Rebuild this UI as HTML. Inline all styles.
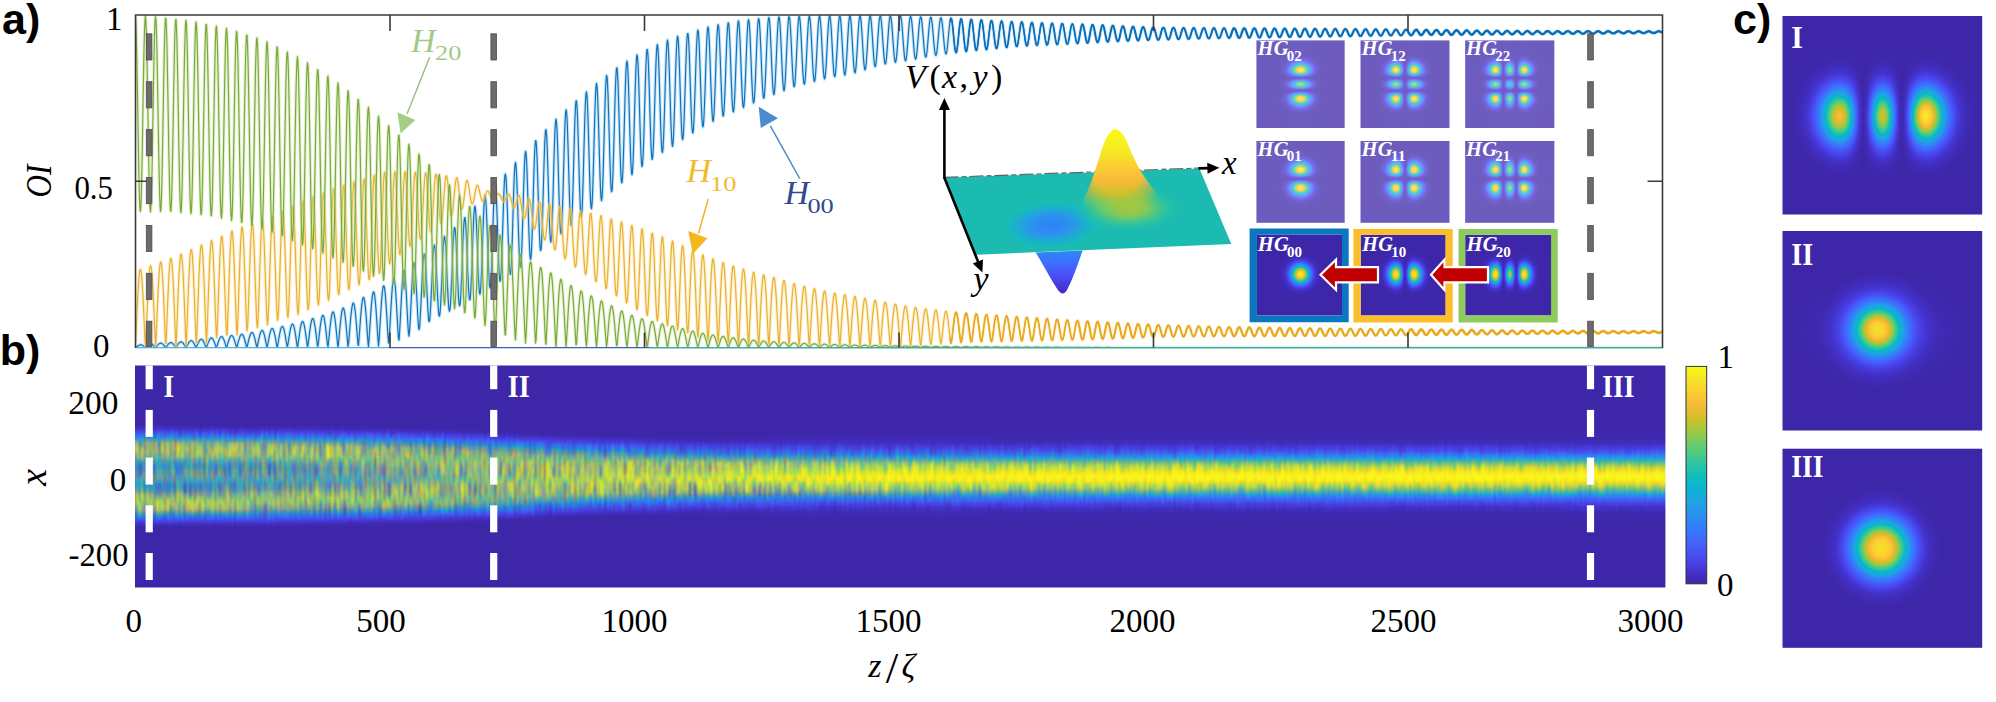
<!DOCTYPE html>
<html><head><meta charset="utf-8"><title>Figure</title>
<style>html,body{margin:0;padding:0;background:#fff}svg{display:block}text{font-family:"Liberation Serif","DejaVu Serif",serif}</style></head>
<body><svg width="1996" height="702" viewBox="0 0 1996 702">
<defs>
<filter id="par" color-interpolation-filters="sRGB" x="0" y="0" width="1" height="1"><feComponentTransfer><feFuncR type="table" tableValues="0.242 0.258 0.27 0.278 0.281 0.28 0.271 0.248 0.202 0.18 0.171 0.149 0.13 0.102 0.047 0.005 0.07 0.155 0.204 0.265 0.359 0.466 0.579 0.687 0.785 0.872 0.946 0.996 0.994 0.978 0.961 0.963 0.977"/><feFuncG type="table" tableValues="0.15 0.181 0.214 0.254 0.298 0.341 0.385 0.431 0.479 0.523 0.564 0.603 0.639 0.673 0.702 0.726 0.746 0.762 0.78 0.794 0.802 0.801 0.792 0.777 0.757 0.739 0.729 0.747 0.792 0.841 0.891 0.938 0.984"/><feFuncB type="table" tableValues="0.66 0.75 0.834 0.896 0.939 0.97 0.989 0.998 0.991 0.971 0.941 0.913 0.892 0.867 0.826 0.778 0.726 0.671 0.611 0.541 0.463 0.376 0.291 0.214 0.162 0.163 0.216 0.234 0.201 0.175 0.153 0.126 0.081"/></feComponentTransfer></filter>
<clipPath id="clipA"><rect x="135.5" y="15" width="1527" height="333.5"/></clipPath>
<linearGradient id="pl" x1="0" y1="0" x2="1" y2="0"><stop offset="0" stop-color="#27b9ad"/><stop offset="1" stop-color="#22bbae"/></linearGradient>
<radialGradient id="dep" cx="0.5" cy="0.5" r="0.5"><stop offset="0" stop-color="#2f81fa" stop-opacity="1"/><stop offset="0.35" stop-color="#2d8cf3" stop-opacity="0.95"/><stop offset="0.6" stop-color="#249fe6" stop-opacity="0.8"/><stop offset="0.8" stop-color="#11b1d6" stop-opacity="0.45"/><stop offset="1" stop-color="#12beb9" stop-opacity="0"/></radialGradient>
<radialGradient id="pkb" cx="0.5" cy="0.5" r="0.5"><stop offset="0" stop-color="#c1c32d" stop-opacity="1"/><stop offset="0.35" stop-color="#8dcb4f" stop-opacity="0.9"/><stop offset="0.65" stop-color="#48cb86" stop-opacity="0.55"/><stop offset="0.85" stop-color="#2cc4a7" stop-opacity="0.2"/><stop offset="1" stop-color="#12beb9" stop-opacity="0"/></radialGradient>
<linearGradient id="pk" gradientUnits="userSpaceOnUse" x1="0" y1="129.4" x2="0" y2="222"><stop offset="0" stop-color="#f9fb15" stop-opacity="1"/><stop offset="0.252" stop-color="#f5e825" stop-opacity="1"/><stop offset="0.406" stop-color="#fdcc32" stop-opacity="1"/><stop offset="0.559" stop-color="#f5ba3a" stop-opacity="1"/><stop offset="0.714" stop-color="#c8c129" stop-opacity="1"/><stop offset="0.806" stop-color="#9fc942" stop-opacity="0.8"/><stop offset="0.892" stop-color="#68cd6b" stop-opacity="0.4"/><stop offset="1" stop-color="#3bc992" stop-opacity="0"/></linearGradient>
<radialGradient id="pkmg" gradientUnits="userSpaceOnUse" cx="1117" cy="160" r="60" gradientTransform="translate(1117 160) scale(0.85 1.05) translate(-1117 -160)"><stop offset="0" stop-color="#fff"/><stop offset="0.55" stop-color="#fff"/><stop offset="0.8" stop-color="#fff" stop-opacity="0.55"/><stop offset="1" stop-color="#fff" stop-opacity="0"/></radialGradient><mask id="pkm" maskUnits="userSpaceOnUse" x="1050" y="120" width="160" height="110"><rect x="1050" y="120" width="160" height="110" fill="url(#pkmg)"/></mask>
<linearGradient id="dp" gradientUnits="userSpaceOnUse" x1="0" y1="250" x2="0" y2="294"><stop offset="0" stop-color="#2d8cf3"/><stop offset="0.143" stop-color="#317efb"/><stop offset="0.286" stop-color="#3f6eff"/><stop offset="0.429" stop-color="#465ffb"/><stop offset="0.571" stop-color="#4851f4"/><stop offset="0.714" stop-color="#4743e7"/><stop offset="0.857" stop-color="#4536d3"/><stop offset="1" stop-color="#402bb7"/></linearGradient>
<linearGradient id="hx0" gradientUnits="userSpaceOnUse" x1="-30" y1="0" x2="30" y2="0"><stop offset="0" stop-color="#000000"/><stop offset="0.0333" stop-color="#000000"/><stop offset="0.0667" stop-color="#000000"/><stop offset="0.1" stop-color="#000000"/><stop offset="0.1333" stop-color="#010101"/><stop offset="0.1667" stop-color="#020202"/><stop offset="0.2" stop-color="#050505"/><stop offset="0.2333" stop-color="#0b0b0b"/><stop offset="0.2667" stop-color="#171717"/><stop offset="0.3" stop-color="#2b2b2b"/><stop offset="0.3333" stop-color="#4a4a4a"/><stop offset="0.3667" stop-color="#747474"/><stop offset="0.4" stop-color="#a4a4a4"/><stop offset="0.4333" stop-color="#d1d1d1"/><stop offset="0.4667" stop-color="#f3f3f3"/><stop offset="0.5" stop-color="#ffffff"/><stop offset="0.5333" stop-color="#f3f3f3"/><stop offset="0.5667" stop-color="#d1d1d1"/><stop offset="0.6" stop-color="#a4a4a4"/><stop offset="0.6333" stop-color="#747474"/><stop offset="0.6667" stop-color="#4a4a4a"/><stop offset="0.7" stop-color="#2b2b2b"/><stop offset="0.7333" stop-color="#171717"/><stop offset="0.7667" stop-color="#0b0b0b"/><stop offset="0.8" stop-color="#050505"/><stop offset="0.8333" stop-color="#020202"/><stop offset="0.8667" stop-color="#010101"/><stop offset="0.9" stop-color="#000000"/><stop offset="0.9333" stop-color="#000000"/><stop offset="0.9667" stop-color="#000000"/><stop offset="1" stop-color="#000000"/></linearGradient>
<linearGradient id="hy0" gradientUnits="userSpaceOnUse" x1="0" y1="-30" x2="0" y2="30"><stop offset="0" stop-color="#000" stop-opacity="1"/><stop offset="0.0333" stop-color="#000" stop-opacity="1"/><stop offset="0.0667" stop-color="#000" stop-opacity="1"/><stop offset="0.1" stop-color="#000" stop-opacity="0.999"/><stop offset="0.1333" stop-color="#000" stop-opacity="0.997"/><stop offset="0.1667" stop-color="#000" stop-opacity="0.993"/><stop offset="0.2" stop-color="#000" stop-opacity="0.982"/><stop offset="0.2333" stop-color="#000" stop-opacity="0.958"/><stop offset="0.2667" stop-color="#000" stop-opacity="0.911"/><stop offset="0.3" stop-color="#000" stop-opacity="0.831"/><stop offset="0.3333" stop-color="#000" stop-opacity="0.709"/><stop offset="0.3667" stop-color="#000" stop-opacity="0.546"/><stop offset="0.4" stop-color="#000" stop-opacity="0.359"/><stop offset="0.4333" stop-color="#000" stop-opacity="0.179"/><stop offset="0.4667" stop-color="#000" stop-opacity="0.048"/><stop offset="0.5" stop-color="#000" stop-opacity="0"/><stop offset="0.5333" stop-color="#000" stop-opacity="0.048"/><stop offset="0.5667" stop-color="#000" stop-opacity="0.179"/><stop offset="0.6" stop-color="#000" stop-opacity="0.359"/><stop offset="0.6333" stop-color="#000" stop-opacity="0.546"/><stop offset="0.6667" stop-color="#000" stop-opacity="0.709"/><stop offset="0.7" stop-color="#000" stop-opacity="0.831"/><stop offset="0.7333" stop-color="#000" stop-opacity="0.911"/><stop offset="0.7667" stop-color="#000" stop-opacity="0.958"/><stop offset="0.8" stop-color="#000" stop-opacity="0.982"/><stop offset="0.8333" stop-color="#000" stop-opacity="0.993"/><stop offset="0.8667" stop-color="#000" stop-opacity="0.997"/><stop offset="0.9" stop-color="#000" stop-opacity="0.999"/><stop offset="0.9333" stop-color="#000" stop-opacity="1"/><stop offset="0.9667" stop-color="#000" stop-opacity="1"/><stop offset="1" stop-color="#000" stop-opacity="1"/></linearGradient>
<linearGradient id="hx1" gradientUnits="userSpaceOnUse" x1="-30" y1="0" x2="30" y2="0"><stop offset="0" stop-color="#000000"/><stop offset="0.0333" stop-color="#000000"/><stop offset="0.0667" stop-color="#010101"/><stop offset="0.1" stop-color="#040404"/><stop offset="0.1333" stop-color="#0b0b0b"/><stop offset="0.1667" stop-color="#191919"/><stop offset="0.2" stop-color="#333333"/><stop offset="0.2333" stop-color="#5d5d5d"/><stop offset="0.2667" stop-color="#959595"/><stop offset="0.3" stop-color="#d0d0d0"/><stop offset="0.3333" stop-color="#f9f9f9"/><stop offset="0.3667" stop-color="#f9f9f9"/><stop offset="0.4" stop-color="#c6c6c6"/><stop offset="0.4333" stop-color="#707070"/><stop offset="0.4667" stop-color="#212121"/><stop offset="0.5" stop-color="#000000"/><stop offset="0.5333" stop-color="#212121"/><stop offset="0.5667" stop-color="#707070"/><stop offset="0.6" stop-color="#c6c6c6"/><stop offset="0.6333" stop-color="#f9f9f9"/><stop offset="0.6667" stop-color="#f9f9f9"/><stop offset="0.7" stop-color="#d0d0d0"/><stop offset="0.7333" stop-color="#959595"/><stop offset="0.7667" stop-color="#5d5d5d"/><stop offset="0.8" stop-color="#333333"/><stop offset="0.8333" stop-color="#191919"/><stop offset="0.8667" stop-color="#0b0b0b"/><stop offset="0.9" stop-color="#040404"/><stop offset="0.9333" stop-color="#010101"/><stop offset="0.9667" stop-color="#000000"/><stop offset="1" stop-color="#000000"/></linearGradient>
<linearGradient id="hy1" gradientUnits="userSpaceOnUse" x1="0" y1="-30" x2="0" y2="30"><stop offset="0" stop-color="#000" stop-opacity="1"/><stop offset="0.0333" stop-color="#000" stop-opacity="0.998"/><stop offset="0.0667" stop-color="#000" stop-opacity="0.995"/><stop offset="0.1" stop-color="#000" stop-opacity="0.984"/><stop offset="0.1333" stop-color="#000" stop-opacity="0.959"/><stop offset="0.1667" stop-color="#000" stop-opacity="0.904"/><stop offset="0.2" stop-color="#000" stop-opacity="0.801"/><stop offset="0.2333" stop-color="#000" stop-opacity="0.636"/><stop offset="0.2667" stop-color="#000" stop-opacity="0.415"/><stop offset="0.3" stop-color="#000" stop-opacity="0.183"/><stop offset="0.3333" stop-color="#000" stop-opacity="0.024"/><stop offset="0.3667" stop-color="#000" stop-opacity="0.025"/><stop offset="0.4" stop-color="#000" stop-opacity="0.225"/><stop offset="0.4333" stop-color="#000" stop-opacity="0.559"/><stop offset="0.4667" stop-color="#000" stop-opacity="0.872"/><stop offset="0.5" stop-color="#000" stop-opacity="1"/><stop offset="0.5333" stop-color="#000" stop-opacity="0.872"/><stop offset="0.5667" stop-color="#000" stop-opacity="0.559"/><stop offset="0.6" stop-color="#000" stop-opacity="0.225"/><stop offset="0.6333" stop-color="#000" stop-opacity="0.025"/><stop offset="0.6667" stop-color="#000" stop-opacity="0.024"/><stop offset="0.7" stop-color="#000" stop-opacity="0.183"/><stop offset="0.7333" stop-color="#000" stop-opacity="0.415"/><stop offset="0.7667" stop-color="#000" stop-opacity="0.636"/><stop offset="0.8" stop-color="#000" stop-opacity="0.801"/><stop offset="0.8333" stop-color="#000" stop-opacity="0.904"/><stop offset="0.8667" stop-color="#000" stop-opacity="0.959"/><stop offset="0.9" stop-color="#000" stop-opacity="0.984"/><stop offset="0.9333" stop-color="#000" stop-opacity="0.995"/><stop offset="0.9667" stop-color="#000" stop-opacity="0.998"/><stop offset="1" stop-color="#000" stop-opacity="1"/></linearGradient>
<linearGradient id="hx2" gradientUnits="userSpaceOnUse" x1="-30" y1="0" x2="30" y2="0"><stop offset="0" stop-color="#010101"/><stop offset="0.0333" stop-color="#040404"/><stop offset="0.0667" stop-color="#0b0b0b"/><stop offset="0.1" stop-color="#1c1c1c"/><stop offset="0.1333" stop-color="#3b3b3b"/><stop offset="0.1667" stop-color="#6e6e6e"/><stop offset="0.2" stop-color="#aeaeae"/><stop offset="0.2333" stop-color="#e9e9e9"/><stop offset="0.2667" stop-color="#ffffff"/><stop offset="0.3" stop-color="#d6d6d6"/><stop offset="0.3333" stop-color="#7a7a7a"/><stop offset="0.3667" stop-color="#1e1e1e"/><stop offset="0.4" stop-color="#020202"/><stop offset="0.4333" stop-color="#3a3a3a"/><stop offset="0.4667" stop-color="#969696"/><stop offset="0.5" stop-color="#c2c2c2"/><stop offset="0.5333" stop-color="#969696"/><stop offset="0.5667" stop-color="#3a3a3a"/><stop offset="0.6" stop-color="#020202"/><stop offset="0.6333" stop-color="#1e1e1e"/><stop offset="0.6667" stop-color="#7a7a7a"/><stop offset="0.7" stop-color="#d6d6d6"/><stop offset="0.7333" stop-color="#ffffff"/><stop offset="0.7667" stop-color="#e9e9e9"/><stop offset="0.8" stop-color="#aeaeae"/><stop offset="0.8333" stop-color="#6e6e6e"/><stop offset="0.8667" stop-color="#3b3b3b"/><stop offset="0.9" stop-color="#1c1c1c"/><stop offset="0.9333" stop-color="#0b0b0b"/><stop offset="0.9667" stop-color="#040404"/><stop offset="1" stop-color="#010101"/></linearGradient>
<linearGradient id="hy2" gradientUnits="userSpaceOnUse" x1="0" y1="-30" x2="0" y2="30"><stop offset="0" stop-color="#000" stop-opacity="0.995"/><stop offset="0.0333" stop-color="#000" stop-opacity="0.984"/><stop offset="0.0667" stop-color="#000" stop-opacity="0.955"/><stop offset="0.1" stop-color="#000" stop-opacity="0.891"/><stop offset="0.1333" stop-color="#000" stop-opacity="0.768"/><stop offset="0.1667" stop-color="#000" stop-opacity="0.57"/><stop offset="0.2" stop-color="#000" stop-opacity="0.317"/><stop offset="0.2333" stop-color="#000" stop-opacity="0.086"/><stop offset="0.2667" stop-color="#000" stop-opacity="0.002"/><stop offset="0.3" stop-color="#000" stop-opacity="0.16"/><stop offset="0.3333" stop-color="#000" stop-opacity="0.522"/><stop offset="0.3667" stop-color="#000" stop-opacity="0.884"/><stop offset="0.4" stop-color="#000" stop-opacity="0.994"/><stop offset="0.4333" stop-color="#000" stop-opacity="0.771"/><stop offset="0.4667" stop-color="#000" stop-opacity="0.411"/><stop offset="0.5" stop-color="#000" stop-opacity="0.239"/><stop offset="0.5333" stop-color="#000" stop-opacity="0.411"/><stop offset="0.5667" stop-color="#000" stop-opacity="0.771"/><stop offset="0.6" stop-color="#000" stop-opacity="0.994"/><stop offset="0.6333" stop-color="#000" stop-opacity="0.884"/><stop offset="0.6667" stop-color="#000" stop-opacity="0.522"/><stop offset="0.7" stop-color="#000" stop-opacity="0.16"/><stop offset="0.7333" stop-color="#000" stop-opacity="0.002"/><stop offset="0.7667" stop-color="#000" stop-opacity="0.086"/><stop offset="0.8" stop-color="#000" stop-opacity="0.317"/><stop offset="0.8333" stop-color="#000" stop-opacity="0.57"/><stop offset="0.8667" stop-color="#000" stop-opacity="0.768"/><stop offset="0.9" stop-color="#000" stop-opacity="0.891"/><stop offset="0.9333" stop-color="#000" stop-opacity="0.955"/><stop offset="0.9667" stop-color="#000" stop-opacity="0.984"/><stop offset="1" stop-color="#000" stop-opacity="0.995"/></linearGradient>
<clipPath id="hc00"><rect shape-rendering="crispEdges" x="1256.5" y="40.6" width="88.1" height="87.4"/></clipPath>
<clipPath id="hc01"><rect shape-rendering="crispEdges" x="1360.6" y="40.6" width="88.8" height="87.4"/></clipPath>
<clipPath id="hc02"><rect shape-rendering="crispEdges" x="1465.2" y="40.6" width="89.1" height="87.4"/></clipPath>
<clipPath id="hc10"><rect shape-rendering="crispEdges" x="1256.5" y="141.1" width="88.1" height="81.7"/></clipPath>
<clipPath id="hc11"><rect shape-rendering="crispEdges" x="1360.6" y="141.1" width="88.8" height="81.7"/></clipPath>
<clipPath id="hc12"><rect shape-rendering="crispEdges" x="1465.2" y="141.1" width="89.1" height="81.7"/></clipPath>
<clipPath id="hc20"><rect shape-rendering="crispEdges" x="1256.5" y="234.8" width="88.1" height="80.7"/></clipPath>
<clipPath id="hc21"><rect shape-rendering="crispEdges" x="1360.6" y="234.8" width="88.8" height="80.7"/></clipPath>
<clipPath id="hc22"><rect shape-rendering="crispEdges" x="1465.2" y="234.8" width="89.1" height="80.7"/></clipPath>
<linearGradient id="hg0" x1="0" y1="0" x2="0" y2="1"><stop offset="0.2474" stop-color="#00d900"/><stop offset="0.2913" stop-color="#00ff00"/><stop offset="0.3047" stop-color="#00ff00"/><stop offset="0.3181" stop-color="#05ff00"/><stop offset="0.3314" stop-color="#0eff00"/><stop offset="0.3448" stop-color="#1cff00"/><stop offset="0.3582" stop-color="#2eff00"/><stop offset="0.3715" stop-color="#41ff00"/><stop offset="0.3944" stop-color="#57ff00"/><stop offset="0.404" stop-color="#57ff00"/><stop offset="0.4135" stop-color="#52ff00"/><stop offset="0.4231" stop-color="#48ff00"/><stop offset="0.4326" stop-color="#3cff00"/><stop offset="0.4422" stop-color="#30ff00"/><stop offset="0.4517" stop-color="#29ff00"/><stop offset="0.4612" stop-color="#26ff00"/><stop offset="0.4708" stop-color="#28ff00"/><stop offset="0.4803" stop-color="#2dff00"/><stop offset="0.4899" stop-color="#32ff00"/><stop offset="0.4994" stop-color="#34ff00"/><stop offset="0.509" stop-color="#32ff00"/><stop offset="0.5185" stop-color="#2dff00"/><stop offset="0.5281" stop-color="#28ff00"/><stop offset="0.5376" stop-color="#26ff00"/><stop offset="0.5472" stop-color="#29ff00"/><stop offset="0.5567" stop-color="#30ff00"/><stop offset="0.5662" stop-color="#3cff00"/><stop offset="0.5758" stop-color="#48ff00"/><stop offset="0.5853" stop-color="#52ff00"/><stop offset="0.5949" stop-color="#57ff00"/><stop offset="0.6044" stop-color="#57ff00"/><stop offset="0.614" stop-color="#50ff00"/><stop offset="0.6273" stop-color="#41ff00"/><stop offset="0.6407" stop-color="#2eff00"/><stop offset="0.6541" stop-color="#1cff00"/><stop offset="0.6674" stop-color="#0eff00"/><stop offset="0.6808" stop-color="#05ff00"/><stop offset="0.6942" stop-color="#00ff00"/><stop offset="0.7075" stop-color="#00ff00"/><stop offset="0.7514" stop-color="#00d900"/></linearGradient>
<linearGradient id="hg1" x1="0" y1="0" x2="0" y2="1"><stop offset="0.2474" stop-color="#00d900"/><stop offset="0.2913" stop-color="#00ff00"/><stop offset="0.3047" stop-color="#00ff00"/><stop offset="0.3181" stop-color="#05ff00"/><stop offset="0.3314" stop-color="#0eff00"/><stop offset="0.3448" stop-color="#1cff00"/><stop offset="0.3582" stop-color="#2dff00"/><stop offset="0.3715" stop-color="#40ff00"/><stop offset="0.3944" stop-color="#56ff00"/><stop offset="0.404" stop-color="#57ff00"/><stop offset="0.4135" stop-color="#52ff00"/><stop offset="0.4231" stop-color="#48ff00"/><stop offset="0.4326" stop-color="#3cff00"/><stop offset="0.4422" stop-color="#31ff00"/><stop offset="0.4517" stop-color="#2aff00"/><stop offset="0.4612" stop-color="#27ff00"/><stop offset="0.4708" stop-color="#29ff00"/><stop offset="0.4803" stop-color="#2eff00"/><stop offset="0.4899" stop-color="#32ff00"/><stop offset="0.4994" stop-color="#34ff00"/><stop offset="0.509" stop-color="#32ff00"/><stop offset="0.5185" stop-color="#2eff00"/><stop offset="0.5281" stop-color="#29ff00"/><stop offset="0.5376" stop-color="#27ff00"/><stop offset="0.5472" stop-color="#2aff00"/><stop offset="0.5567" stop-color="#31ff00"/><stop offset="0.5662" stop-color="#3cff00"/><stop offset="0.5758" stop-color="#48ff00"/><stop offset="0.5853" stop-color="#52ff00"/><stop offset="0.5949" stop-color="#57ff00"/><stop offset="0.6044" stop-color="#56ff00"/><stop offset="0.614" stop-color="#50ff00"/><stop offset="0.6273" stop-color="#40ff00"/><stop offset="0.6407" stop-color="#2dff00"/><stop offset="0.6541" stop-color="#1cff00"/><stop offset="0.6674" stop-color="#0eff00"/><stop offset="0.6808" stop-color="#05ff00"/><stop offset="0.6942" stop-color="#00ff00"/><stop offset="0.7075" stop-color="#00ff00"/><stop offset="0.7514" stop-color="#00d900"/></linearGradient>
<linearGradient id="hg2" x1="0" y1="0" x2="0" y2="1"><stop offset="0.2474" stop-color="#00d900"/><stop offset="0.2913" stop-color="#00ff00"/><stop offset="0.3047" stop-color="#00ff00"/><stop offset="0.3181" stop-color="#04ff00"/><stop offset="0.3314" stop-color="#0dff00"/><stop offset="0.3448" stop-color="#1aff00"/><stop offset="0.3582" stop-color="#2bff00"/><stop offset="0.3715" stop-color="#3eff00"/><stop offset="0.3944" stop-color="#54ff00"/><stop offset="0.404" stop-color="#56ff00"/><stop offset="0.4135" stop-color="#52ff00"/><stop offset="0.4231" stop-color="#49ff00"/><stop offset="0.4326" stop-color="#3eff00"/><stop offset="0.4422" stop-color="#34ff00"/><stop offset="0.4517" stop-color="#2dff00"/><stop offset="0.4612" stop-color="#2aff00"/><stop offset="0.4708" stop-color="#2bff00"/><stop offset="0.4803" stop-color="#2fff00"/><stop offset="0.4899" stop-color="#32ff00"/><stop offset="0.4994" stop-color="#34ff00"/><stop offset="0.509" stop-color="#32ff00"/><stop offset="0.5185" stop-color="#2fff00"/><stop offset="0.5281" stop-color="#2bff00"/><stop offset="0.5376" stop-color="#2aff00"/><stop offset="0.5472" stop-color="#2dff00"/><stop offset="0.5567" stop-color="#34ff00"/><stop offset="0.5662" stop-color="#3eff00"/><stop offset="0.5758" stop-color="#49ff00"/><stop offset="0.5853" stop-color="#52ff00"/><stop offset="0.5949" stop-color="#56ff00"/><stop offset="0.6044" stop-color="#54ff00"/><stop offset="0.614" stop-color="#4eff00"/><stop offset="0.6273" stop-color="#3eff00"/><stop offset="0.6407" stop-color="#2bff00"/><stop offset="0.6541" stop-color="#1aff00"/><stop offset="0.6674" stop-color="#0dff00"/><stop offset="0.6808" stop-color="#04ff00"/><stop offset="0.6942" stop-color="#00ff00"/><stop offset="0.7075" stop-color="#00ff00"/><stop offset="0.7514" stop-color="#00d900"/></linearGradient>
<linearGradient id="hg3" x1="0" y1="0" x2="0" y2="1"><stop offset="0.2474" stop-color="#00d900"/><stop offset="0.2913" stop-color="#00ff00"/><stop offset="0.3047" stop-color="#00ff00"/><stop offset="0.3181" stop-color="#04ff00"/><stop offset="0.3314" stop-color="#0cff00"/><stop offset="0.3448" stop-color="#19ff00"/><stop offset="0.3582" stop-color="#29ff00"/><stop offset="0.3715" stop-color="#3bff00"/><stop offset="0.3944" stop-color="#52ff00"/><stop offset="0.404" stop-color="#55ff00"/><stop offset="0.4135" stop-color="#52ff00"/><stop offset="0.4231" stop-color="#4bff00"/><stop offset="0.4326" stop-color="#41ff00"/><stop offset="0.4422" stop-color="#38ff00"/><stop offset="0.4517" stop-color="#30ff00"/><stop offset="0.4612" stop-color="#2dff00"/><stop offset="0.4708" stop-color="#2dff00"/><stop offset="0.4803" stop-color="#30ff00"/><stop offset="0.4899" stop-color="#33ff00"/><stop offset="0.4994" stop-color="#34ff00"/><stop offset="0.509" stop-color="#33ff00"/><stop offset="0.5185" stop-color="#30ff00"/><stop offset="0.5281" stop-color="#2dff00"/><stop offset="0.5376" stop-color="#2dff00"/><stop offset="0.5472" stop-color="#30ff00"/><stop offset="0.5567" stop-color="#38ff00"/><stop offset="0.5662" stop-color="#41ff00"/><stop offset="0.5758" stop-color="#4bff00"/><stop offset="0.5853" stop-color="#52ff00"/><stop offset="0.5949" stop-color="#55ff00"/><stop offset="0.6044" stop-color="#52ff00"/><stop offset="0.614" stop-color="#4bff00"/><stop offset="0.6273" stop-color="#3bff00"/><stop offset="0.6407" stop-color="#29ff00"/><stop offset="0.6541" stop-color="#19ff00"/><stop offset="0.6674" stop-color="#0cff00"/><stop offset="0.6808" stop-color="#04ff00"/><stop offset="0.6942" stop-color="#00ff00"/><stop offset="0.7075" stop-color="#00ff00"/><stop offset="0.7514" stop-color="#00d900"/></linearGradient>
<linearGradient id="hg4" x1="0" y1="0" x2="0" y2="1"><stop offset="0.2474" stop-color="#00d900"/><stop offset="0.2913" stop-color="#00ff00"/><stop offset="0.3047" stop-color="#00ff00"/><stop offset="0.3181" stop-color="#03ff00"/><stop offset="0.3314" stop-color="#0bff00"/><stop offset="0.3448" stop-color="#17ff00"/><stop offset="0.3582" stop-color="#26ff00"/><stop offset="0.3715" stop-color="#38ff00"/><stop offset="0.3944" stop-color="#50ff00"/><stop offset="0.404" stop-color="#53ff00"/><stop offset="0.4135" stop-color="#52ff00"/><stop offset="0.4231" stop-color="#4dff00"/><stop offset="0.4326" stop-color="#45ff00"/><stop offset="0.4422" stop-color="#3cff00"/><stop offset="0.4517" stop-color="#35ff00"/><stop offset="0.4612" stop-color="#31ff00"/><stop offset="0.4708" stop-color="#30ff00"/><stop offset="0.4803" stop-color="#31ff00"/><stop offset="0.4899" stop-color="#33ff00"/><stop offset="0.4994" stop-color="#34ff00"/><stop offset="0.509" stop-color="#33ff00"/><stop offset="0.5185" stop-color="#31ff00"/><stop offset="0.5281" stop-color="#30ff00"/><stop offset="0.5376" stop-color="#31ff00"/><stop offset="0.5472" stop-color="#35ff00"/><stop offset="0.5567" stop-color="#3cff00"/><stop offset="0.5662" stop-color="#45ff00"/><stop offset="0.5758" stop-color="#4dff00"/><stop offset="0.5853" stop-color="#52ff00"/><stop offset="0.5949" stop-color="#53ff00"/><stop offset="0.6044" stop-color="#50ff00"/><stop offset="0.614" stop-color="#48ff00"/><stop offset="0.6273" stop-color="#38ff00"/><stop offset="0.6407" stop-color="#26ff00"/><stop offset="0.6541" stop-color="#17ff00"/><stop offset="0.6674" stop-color="#0bff00"/><stop offset="0.6808" stop-color="#03ff00"/><stop offset="0.6942" stop-color="#00ff00"/><stop offset="0.7075" stop-color="#00ff00"/><stop offset="0.7514" stop-color="#00d900"/></linearGradient>
<linearGradient id="hg5" x1="0" y1="0" x2="0" y2="1"><stop offset="0.2474" stop-color="#00d900"/><stop offset="0.2913" stop-color="#00ff00"/><stop offset="0.3047" stop-color="#00ff00"/><stop offset="0.3181" stop-color="#02ff00"/><stop offset="0.3314" stop-color="#09ff00"/><stop offset="0.3448" stop-color="#14ff00"/><stop offset="0.3582" stop-color="#23ff00"/><stop offset="0.3715" stop-color="#33ff00"/><stop offset="0.3944" stop-color="#4cff00"/><stop offset="0.404" stop-color="#51ff00"/><stop offset="0.4135" stop-color="#52ff00"/><stop offset="0.4231" stop-color="#4fff00"/><stop offset="0.4326" stop-color="#48ff00"/><stop offset="0.4422" stop-color="#41ff00"/><stop offset="0.4517" stop-color="#3bff00"/><stop offset="0.4612" stop-color="#36ff00"/><stop offset="0.4708" stop-color="#34ff00"/><stop offset="0.4803" stop-color="#34ff00"/><stop offset="0.4899" stop-color="#35ff00"/><stop offset="0.4994" stop-color="#35ff00"/><stop offset="0.509" stop-color="#35ff00"/><stop offset="0.5185" stop-color="#34ff00"/><stop offset="0.5281" stop-color="#34ff00"/><stop offset="0.5376" stop-color="#36ff00"/><stop offset="0.5472" stop-color="#3bff00"/><stop offset="0.5567" stop-color="#41ff00"/><stop offset="0.5662" stop-color="#48ff00"/><stop offset="0.5758" stop-color="#4fff00"/><stop offset="0.5853" stop-color="#52ff00"/><stop offset="0.5949" stop-color="#51ff00"/><stop offset="0.6044" stop-color="#4cff00"/><stop offset="0.614" stop-color="#43ff00"/><stop offset="0.6273" stop-color="#33ff00"/><stop offset="0.6407" stop-color="#23ff00"/><stop offset="0.6541" stop-color="#14ff00"/><stop offset="0.6674" stop-color="#09ff00"/><stop offset="0.6808" stop-color="#02ff00"/><stop offset="0.6942" stop-color="#00ff00"/><stop offset="0.7075" stop-color="#00ff00"/><stop offset="0.7514" stop-color="#00d900"/></linearGradient>
<linearGradient id="hg6" x1="0" y1="0" x2="0" y2="1"><stop offset="0.2474" stop-color="#00d900"/><stop offset="0.2913" stop-color="#00ff00"/><stop offset="0.3047" stop-color="#00ff00"/><stop offset="0.3181" stop-color="#01ff00"/><stop offset="0.3314" stop-color="#07ff00"/><stop offset="0.3448" stop-color="#11ff00"/><stop offset="0.3582" stop-color="#1eff00"/><stop offset="0.3715" stop-color="#2eff00"/><stop offset="0.3944" stop-color="#47ff00"/><stop offset="0.404" stop-color="#4eff00"/><stop offset="0.4135" stop-color="#51ff00"/><stop offset="0.4231" stop-color="#50ff00"/><stop offset="0.4326" stop-color="#4cff00"/><stop offset="0.4422" stop-color="#47ff00"/><stop offset="0.4517" stop-color="#41ff00"/><stop offset="0.4612" stop-color="#3dff00"/><stop offset="0.4708" stop-color="#3aff00"/><stop offset="0.4803" stop-color="#39ff00"/><stop offset="0.4899" stop-color="#38ff00"/><stop offset="0.4994" stop-color="#38ff00"/><stop offset="0.509" stop-color="#38ff00"/><stop offset="0.5185" stop-color="#39ff00"/><stop offset="0.5281" stop-color="#3aff00"/><stop offset="0.5376" stop-color="#3dff00"/><stop offset="0.5472" stop-color="#41ff00"/><stop offset="0.5567" stop-color="#47ff00"/><stop offset="0.5662" stop-color="#4cff00"/><stop offset="0.5758" stop-color="#50ff00"/><stop offset="0.5853" stop-color="#51ff00"/><stop offset="0.5949" stop-color="#4eff00"/><stop offset="0.6044" stop-color="#47ff00"/><stop offset="0.614" stop-color="#3eff00"/><stop offset="0.6273" stop-color="#2eff00"/><stop offset="0.6407" stop-color="#1eff00"/><stop offset="0.6541" stop-color="#11ff00"/><stop offset="0.6674" stop-color="#07ff00"/><stop offset="0.6808" stop-color="#01ff00"/><stop offset="0.6942" stop-color="#00ff00"/><stop offset="0.7075" stop-color="#00ff00"/><stop offset="0.7514" stop-color="#00d900"/></linearGradient>
<linearGradient id="hg7" x1="0" y1="0" x2="0" y2="1"><stop offset="0.2474" stop-color="#00d900"/><stop offset="0.2913" stop-color="#00ff00"/><stop offset="0.3047" stop-color="#00ff00"/><stop offset="0.3181" stop-color="#00ff00"/><stop offset="0.3314" stop-color="#05ff00"/><stop offset="0.3448" stop-color="#0cff00"/><stop offset="0.3582" stop-color="#18ff00"/><stop offset="0.3715" stop-color="#25ff00"/><stop offset="0.3944" stop-color="#3eff00"/><stop offset="0.404" stop-color="#45ff00"/><stop offset="0.4135" stop-color="#4bff00"/><stop offset="0.4231" stop-color="#4dff00"/><stop offset="0.4326" stop-color="#4dff00"/><stop offset="0.4422" stop-color="#4bff00"/><stop offset="0.4517" stop-color="#48ff00"/><stop offset="0.4612" stop-color="#44ff00"/><stop offset="0.4708" stop-color="#42ff00"/><stop offset="0.4803" stop-color="#40ff00"/><stop offset="0.4899" stop-color="#3fff00"/><stop offset="0.4994" stop-color="#3fff00"/><stop offset="0.509" stop-color="#3fff00"/><stop offset="0.5185" stop-color="#40ff00"/><stop offset="0.5281" stop-color="#42ff00"/><stop offset="0.5376" stop-color="#44ff00"/><stop offset="0.5472" stop-color="#48ff00"/><stop offset="0.5567" stop-color="#4bff00"/><stop offset="0.5662" stop-color="#4dff00"/><stop offset="0.5758" stop-color="#4dff00"/><stop offset="0.5853" stop-color="#4bff00"/><stop offset="0.5949" stop-color="#45ff00"/><stop offset="0.6044" stop-color="#3eff00"/><stop offset="0.614" stop-color="#34ff00"/><stop offset="0.6273" stop-color="#25ff00"/><stop offset="0.6407" stop-color="#18ff00"/><stop offset="0.6541" stop-color="#0cff00"/><stop offset="0.6674" stop-color="#05ff00"/><stop offset="0.6808" stop-color="#00ff00"/><stop offset="0.6942" stop-color="#00ff00"/><stop offset="0.7075" stop-color="#00ff00"/><stop offset="0.7514" stop-color="#00d900"/></linearGradient>
<linearGradient id="hg8" x1="0" y1="0" x2="0" y2="1"><stop offset="0.2474" stop-color="#00c100"/><stop offset="0.2913" stop-color="#00ff00"/><stop offset="0.3047" stop-color="#00ff00"/><stop offset="0.3181" stop-color="#00ff00"/><stop offset="0.3314" stop-color="#02ff00"/><stop offset="0.3448" stop-color="#08ff00"/><stop offset="0.3582" stop-color="#11ff00"/><stop offset="0.3715" stop-color="#1dff00"/><stop offset="0.3944" stop-color="#34ff00"/><stop offset="0.404" stop-color="#3dff00"/><stop offset="0.4135" stop-color="#44ff00"/><stop offset="0.4231" stop-color="#49ff00"/><stop offset="0.4326" stop-color="#4cff00"/><stop offset="0.4422" stop-color="#4dff00"/><stop offset="0.4517" stop-color="#4cff00"/><stop offset="0.4612" stop-color="#4bff00"/><stop offset="0.4708" stop-color="#49ff00"/><stop offset="0.4803" stop-color="#48ff00"/><stop offset="0.4899" stop-color="#47ff00"/><stop offset="0.4994" stop-color="#46ff00"/><stop offset="0.509" stop-color="#47ff00"/><stop offset="0.5185" stop-color="#48ff00"/><stop offset="0.5281" stop-color="#49ff00"/><stop offset="0.5376" stop-color="#4bff00"/><stop offset="0.5472" stop-color="#4cff00"/><stop offset="0.5567" stop-color="#4dff00"/><stop offset="0.5662" stop-color="#4cff00"/><stop offset="0.5758" stop-color="#49ff00"/><stop offset="0.5853" stop-color="#44ff00"/><stop offset="0.5949" stop-color="#3dff00"/><stop offset="0.6044" stop-color="#34ff00"/><stop offset="0.614" stop-color="#2bff00"/><stop offset="0.6273" stop-color="#1dff00"/><stop offset="0.6407" stop-color="#11ff00"/><stop offset="0.6541" stop-color="#08ff00"/><stop offset="0.6674" stop-color="#02ff00"/><stop offset="0.6808" stop-color="#00ff00"/><stop offset="0.6942" stop-color="#00ff00"/><stop offset="0.7075" stop-color="#00ff00"/><stop offset="0.7514" stop-color="#00c100"/></linearGradient>
<linearGradient id="hg9" x1="0" y1="0" x2="0" y2="1"><stop offset="0.2474" stop-color="#00a100"/><stop offset="0.2913" stop-color="#00ff00"/><stop offset="0.3047" stop-color="#00ff00"/><stop offset="0.3181" stop-color="#00ff00"/><stop offset="0.3314" stop-color="#00ff00"/><stop offset="0.3448" stop-color="#04ff00"/><stop offset="0.3582" stop-color="#0bff00"/><stop offset="0.3715" stop-color="#15ff00"/><stop offset="0.3944" stop-color="#2bff00"/><stop offset="0.404" stop-color="#34ff00"/><stop offset="0.4135" stop-color="#3dff00"/><stop offset="0.4231" stop-color="#45ff00"/><stop offset="0.4326" stop-color="#4aff00"/><stop offset="0.4422" stop-color="#4fff00"/><stop offset="0.4517" stop-color="#51ff00"/><stop offset="0.4612" stop-color="#52ff00"/><stop offset="0.4708" stop-color="#52ff00"/><stop offset="0.4803" stop-color="#51ff00"/><stop offset="0.4899" stop-color="#51ff00"/><stop offset="0.4994" stop-color="#51ff00"/><stop offset="0.509" stop-color="#51ff00"/><stop offset="0.5185" stop-color="#51ff00"/><stop offset="0.5281" stop-color="#52ff00"/><stop offset="0.5376" stop-color="#52ff00"/><stop offset="0.5472" stop-color="#51ff00"/><stop offset="0.5567" stop-color="#4fff00"/><stop offset="0.5662" stop-color="#4aff00"/><stop offset="0.5758" stop-color="#45ff00"/><stop offset="0.5853" stop-color="#3dff00"/><stop offset="0.5949" stop-color="#34ff00"/><stop offset="0.6044" stop-color="#2bff00"/><stop offset="0.614" stop-color="#21ff00"/><stop offset="0.6273" stop-color="#15ff00"/><stop offset="0.6407" stop-color="#0bff00"/><stop offset="0.6541" stop-color="#04ff00"/><stop offset="0.6674" stop-color="#00ff00"/><stop offset="0.6808" stop-color="#00ff00"/><stop offset="0.6942" stop-color="#00ff00"/><stop offset="0.7075" stop-color="#00ff00"/><stop offset="0.7514" stop-color="#00a100"/></linearGradient>
<linearGradient id="hg10" x1="0" y1="0" x2="0" y2="1"><stop offset="0.2474" stop-color="#008200"/><stop offset="0.2913" stop-color="#00ff00"/><stop offset="0.3047" stop-color="#00ff00"/><stop offset="0.3181" stop-color="#00ff00"/><stop offset="0.3314" stop-color="#00ff00"/><stop offset="0.3448" stop-color="#01ff00"/><stop offset="0.3582" stop-color="#06ff00"/><stop offset="0.3715" stop-color="#0eff00"/><stop offset="0.3944" stop-color="#22ff00"/><stop offset="0.404" stop-color="#2bff00"/><stop offset="0.4135" stop-color="#35ff00"/><stop offset="0.4231" stop-color="#3eff00"/><stop offset="0.4326" stop-color="#46ff00"/><stop offset="0.4422" stop-color="#4dff00"/><stop offset="0.4517" stop-color="#53ff00"/><stop offset="0.4612" stop-color="#57ff00"/><stop offset="0.4708" stop-color="#5bff00"/><stop offset="0.4803" stop-color="#5dff00"/><stop offset="0.4899" stop-color="#5eff00"/><stop offset="0.4994" stop-color="#5eff00"/><stop offset="0.509" stop-color="#5eff00"/><stop offset="0.5185" stop-color="#5dff00"/><stop offset="0.5281" stop-color="#5bff00"/><stop offset="0.5376" stop-color="#57ff00"/><stop offset="0.5472" stop-color="#53ff00"/><stop offset="0.5567" stop-color="#4dff00"/><stop offset="0.5662" stop-color="#46ff00"/><stop offset="0.5758" stop-color="#3eff00"/><stop offset="0.5853" stop-color="#35ff00"/><stop offset="0.5949" stop-color="#2bff00"/><stop offset="0.6044" stop-color="#22ff00"/><stop offset="0.614" stop-color="#19ff00"/><stop offset="0.6273" stop-color="#0eff00"/><stop offset="0.6407" stop-color="#06ff00"/><stop offset="0.6541" stop-color="#01ff00"/><stop offset="0.6674" stop-color="#00ff00"/><stop offset="0.6808" stop-color="#00ff00"/><stop offset="0.6942" stop-color="#00ff00"/><stop offset="0.7075" stop-color="#00ff00"/><stop offset="0.7514" stop-color="#008200"/></linearGradient>
<linearGradient id="hg11" x1="0" y1="0" x2="0" y2="1"><stop offset="0.2474" stop-color="#007600"/><stop offset="0.2913" stop-color="#00ff00"/><stop offset="0.3047" stop-color="#00ff00"/><stop offset="0.3181" stop-color="#00ff00"/><stop offset="0.3314" stop-color="#00ff00"/><stop offset="0.3448" stop-color="#00ff00"/><stop offset="0.3582" stop-color="#04ff00"/><stop offset="0.3715" stop-color="#0aff00"/><stop offset="0.3944" stop-color="#1bff00"/><stop offset="0.404" stop-color="#24ff00"/><stop offset="0.4135" stop-color="#2eff00"/><stop offset="0.4231" stop-color="#38ff00"/><stop offset="0.4326" stop-color="#42ff00"/><stop offset="0.4422" stop-color="#4cff00"/><stop offset="0.4517" stop-color="#54ff00"/><stop offset="0.4612" stop-color="#5cff00"/><stop offset="0.4708" stop-color="#62ff00"/><stop offset="0.4803" stop-color="#66ff00"/><stop offset="0.4899" stop-color="#69ff00"/><stop offset="0.4994" stop-color="#6ae400"/><stop offset="0.509" stop-color="#69ff00"/><stop offset="0.5185" stop-color="#66ff00"/><stop offset="0.5281" stop-color="#62ff00"/><stop offset="0.5376" stop-color="#5cff00"/><stop offset="0.5472" stop-color="#54ff00"/><stop offset="0.5567" stop-color="#4cff00"/><stop offset="0.5662" stop-color="#42ff00"/><stop offset="0.5758" stop-color="#38ff00"/><stop offset="0.5853" stop-color="#2eff00"/><stop offset="0.5949" stop-color="#24ff00"/><stop offset="0.6044" stop-color="#1bff00"/><stop offset="0.614" stop-color="#13ff00"/><stop offset="0.6273" stop-color="#0aff00"/><stop offset="0.6407" stop-color="#04ff00"/><stop offset="0.6541" stop-color="#00ff00"/><stop offset="0.6674" stop-color="#00ff00"/><stop offset="0.6808" stop-color="#00ff00"/><stop offset="0.6942" stop-color="#00ff00"/><stop offset="0.7075" stop-color="#00ff00"/><stop offset="0.7514" stop-color="#007600"/></linearGradient>
<linearGradient id="hg12" x1="0" y1="0" x2="0" y2="1"><stop offset="0.2474" stop-color="#006c00"/><stop offset="0.2913" stop-color="#00ff00"/><stop offset="0.3047" stop-color="#00ff00"/><stop offset="0.3181" stop-color="#00ff00"/><stop offset="0.3314" stop-color="#00ff00"/><stop offset="0.3448" stop-color="#00ff00"/><stop offset="0.3582" stop-color="#02ff00"/><stop offset="0.3715" stop-color="#07ff00"/><stop offset="0.3944" stop-color="#15ff00"/><stop offset="0.404" stop-color="#1dff00"/><stop offset="0.4135" stop-color="#27ff00"/><stop offset="0.4231" stop-color="#32ff00"/><stop offset="0.4326" stop-color="#3eff00"/><stop offset="0.4422" stop-color="#49ff00"/><stop offset="0.4517" stop-color="#55ff00"/><stop offset="0.4612" stop-color="#5fff00"/><stop offset="0.4708" stop-color="#67ff00"/><stop offset="0.4803" stop-color="#6eff00"/><stop offset="0.4899" stop-color="#72f600"/><stop offset="0.4994" stop-color="#74ba00"/><stop offset="0.509" stop-color="#72f600"/><stop offset="0.5185" stop-color="#6eff00"/><stop offset="0.5281" stop-color="#67ff00"/><stop offset="0.5376" stop-color="#5fff00"/><stop offset="0.5472" stop-color="#55ff00"/><stop offset="0.5567" stop-color="#49ff00"/><stop offset="0.5662" stop-color="#3eff00"/><stop offset="0.5758" stop-color="#32ff00"/><stop offset="0.5853" stop-color="#27ff00"/><stop offset="0.5949" stop-color="#1dff00"/><stop offset="0.6044" stop-color="#15ff00"/><stop offset="0.614" stop-color="#0eff00"/><stop offset="0.6273" stop-color="#07ff00"/><stop offset="0.6407" stop-color="#02ff00"/><stop offset="0.6541" stop-color="#00ff00"/><stop offset="0.6674" stop-color="#00ff00"/><stop offset="0.6808" stop-color="#00ff00"/><stop offset="0.6942" stop-color="#00ff00"/><stop offset="0.7075" stop-color="#00ff00"/><stop offset="0.7514" stop-color="#006c00"/></linearGradient>
<linearGradient id="hg13" x1="0" y1="0" x2="0" y2="1"><stop offset="0.2474" stop-color="#006100"/><stop offset="0.2913" stop-color="#00ff00"/><stop offset="0.3047" stop-color="#00ff00"/><stop offset="0.3181" stop-color="#00ff00"/><stop offset="0.3314" stop-color="#00ff00"/><stop offset="0.3448" stop-color="#00ff00"/><stop offset="0.3582" stop-color="#01ff00"/><stop offset="0.3715" stop-color="#05ff00"/><stop offset="0.3944" stop-color="#11ff00"/><stop offset="0.404" stop-color="#19ff00"/><stop offset="0.4135" stop-color="#22ff00"/><stop offset="0.4231" stop-color="#2dff00"/><stop offset="0.4326" stop-color="#39ff00"/><stop offset="0.4422" stop-color="#46ff00"/><stop offset="0.4517" stop-color="#54ff00"/><stop offset="0.4612" stop-color="#60ff00"/><stop offset="0.4708" stop-color="#6bff00"/><stop offset="0.4803" stop-color="#74ee00"/><stop offset="0.4899" stop-color="#79c800"/><stop offset="0.4994" stop-color="#7b9a00"/><stop offset="0.509" stop-color="#79c800"/><stop offset="0.5185" stop-color="#74ee00"/><stop offset="0.5281" stop-color="#6bff00"/><stop offset="0.5376" stop-color="#60ff00"/><stop offset="0.5472" stop-color="#54ff00"/><stop offset="0.5567" stop-color="#46ff00"/><stop offset="0.5662" stop-color="#39ff00"/><stop offset="0.5758" stop-color="#2dff00"/><stop offset="0.5853" stop-color="#22ff00"/><stop offset="0.5949" stop-color="#19ff00"/><stop offset="0.6044" stop-color="#11ff00"/><stop offset="0.614" stop-color="#0bff00"/><stop offset="0.6273" stop-color="#05ff00"/><stop offset="0.6407" stop-color="#01ff00"/><stop offset="0.6541" stop-color="#00ff00"/><stop offset="0.6674" stop-color="#00ff00"/><stop offset="0.6808" stop-color="#00ff00"/><stop offset="0.6942" stop-color="#00ff00"/><stop offset="0.7075" stop-color="#00ff00"/><stop offset="0.7514" stop-color="#006100"/></linearGradient>
<linearGradient id="hg14" x1="0" y1="0" x2="0" y2="1"><stop offset="0.2474" stop-color="#005700"/><stop offset="0.2913" stop-color="#00ff00"/><stop offset="0.3047" stop-color="#00ff00"/><stop offset="0.3181" stop-color="#00ff00"/><stop offset="0.3314" stop-color="#00ff00"/><stop offset="0.3448" stop-color="#00ff00"/><stop offset="0.3582" stop-color="#01ff00"/><stop offset="0.3715" stop-color="#04ff00"/><stop offset="0.3944" stop-color="#0eff00"/><stop offset="0.404" stop-color="#15ff00"/><stop offset="0.4135" stop-color="#1eff00"/><stop offset="0.4231" stop-color="#29ff00"/><stop offset="0.4326" stop-color="#36ff00"/><stop offset="0.4422" stop-color="#44ff00"/><stop offset="0.4517" stop-color="#52fe00"/><stop offset="0.4612" stop-color="#60eb00"/><stop offset="0.4708" stop-color="#6cdc00"/><stop offset="0.4803" stop-color="#76c400"/><stop offset="0.4899" stop-color="#7ca400"/><stop offset="0.4994" stop-color="#7e7f00"/><stop offset="0.509" stop-color="#7ca400"/><stop offset="0.5185" stop-color="#76c400"/><stop offset="0.5281" stop-color="#6cdc00"/><stop offset="0.5376" stop-color="#60eb00"/><stop offset="0.5472" stop-color="#52fe00"/><stop offset="0.5567" stop-color="#44ff00"/><stop offset="0.5662" stop-color="#36ff00"/><stop offset="0.5758" stop-color="#29ff00"/><stop offset="0.5853" stop-color="#1eff00"/><stop offset="0.5949" stop-color="#15ff00"/><stop offset="0.6044" stop-color="#0eff00"/><stop offset="0.614" stop-color="#09ff00"/><stop offset="0.6273" stop-color="#04ff00"/><stop offset="0.6407" stop-color="#01ff00"/><stop offset="0.6541" stop-color="#00ff00"/><stop offset="0.6674" stop-color="#00ff00"/><stop offset="0.6808" stop-color="#00ff00"/><stop offset="0.6942" stop-color="#00ff00"/><stop offset="0.7075" stop-color="#00ff00"/><stop offset="0.7514" stop-color="#005700"/></linearGradient>
<linearGradient id="hg15" x1="0" y1="0" x2="0" y2="1"><stop offset="0.2474" stop-color="#004d00"/><stop offset="0.2913" stop-color="#004d00"/><stop offset="0.3047" stop-color="#00ff00"/><stop offset="0.3181" stop-color="#00ff00"/><stop offset="0.3314" stop-color="#00ff00"/><stop offset="0.3448" stop-color="#01ff00"/><stop offset="0.3582" stop-color="#02ff00"/><stop offset="0.3715" stop-color="#04ff00"/><stop offset="0.3944" stop-color="#0eff00"/><stop offset="0.404" stop-color="#14ff00"/><stop offset="0.4135" stop-color="#1dff00"/><stop offset="0.4231" stop-color="#28ff00"/><stop offset="0.4326" stop-color="#35ff00"/><stop offset="0.4422" stop-color="#44ff00"/><stop offset="0.4517" stop-color="#53e000"/><stop offset="0.4612" stop-color="#62cd00"/><stop offset="0.4708" stop-color="#6fbc00"/><stop offset="0.4803" stop-color="#7aa600"/><stop offset="0.4899" stop-color="#808a00"/><stop offset="0.4994" stop-color="#836900"/><stop offset="0.509" stop-color="#808a00"/><stop offset="0.5185" stop-color="#7aa600"/><stop offset="0.5281" stop-color="#6fbc00"/><stop offset="0.5376" stop-color="#62cd00"/><stop offset="0.5472" stop-color="#53e000"/><stop offset="0.5567" stop-color="#44ff00"/><stop offset="0.5662" stop-color="#35ff00"/><stop offset="0.5758" stop-color="#28ff00"/><stop offset="0.5853" stop-color="#1dff00"/><stop offset="0.5949" stop-color="#14ff00"/><stop offset="0.6044" stop-color="#0eff00"/><stop offset="0.614" stop-color="#09ff00"/><stop offset="0.6273" stop-color="#04ff00"/><stop offset="0.6407" stop-color="#02ff00"/><stop offset="0.6541" stop-color="#01ff00"/><stop offset="0.6674" stop-color="#00ff00"/><stop offset="0.6808" stop-color="#00ff00"/><stop offset="0.6942" stop-color="#00ff00"/><stop offset="0.7075" stop-color="#004d00"/><stop offset="0.7514" stop-color="#004d00"/></linearGradient>
<linearGradient id="hg16" x1="0" y1="0" x2="0" y2="1"><stop offset="0.2474" stop-color="#004200"/><stop offset="0.2913" stop-color="#004200"/><stop offset="0.3047" stop-color="#00ff00"/><stop offset="0.3181" stop-color="#00ff00"/><stop offset="0.3314" stop-color="#00ff00"/><stop offset="0.3448" stop-color="#01ff00"/><stop offset="0.3582" stop-color="#02ff00"/><stop offset="0.3715" stop-color="#04ff00"/><stop offset="0.3944" stop-color="#0dff00"/><stop offset="0.404" stop-color="#13ff00"/><stop offset="0.4135" stop-color="#1cff00"/><stop offset="0.4231" stop-color="#27ff00"/><stop offset="0.4326" stop-color="#34ff00"/><stop offset="0.4422" stop-color="#43e500"/><stop offset="0.4517" stop-color="#53c500"/><stop offset="0.4612" stop-color="#62b200"/><stop offset="0.4708" stop-color="#70a200"/><stop offset="0.4803" stop-color="#7b8d00"/><stop offset="0.4899" stop-color="#837400"/><stop offset="0.4994" stop-color="#855800"/><stop offset="0.509" stop-color="#837400"/><stop offset="0.5185" stop-color="#7b8d00"/><stop offset="0.5281" stop-color="#70a200"/><stop offset="0.5376" stop-color="#62b200"/><stop offset="0.5472" stop-color="#53c500"/><stop offset="0.5567" stop-color="#43e500"/><stop offset="0.5662" stop-color="#34ff00"/><stop offset="0.5758" stop-color="#27ff00"/><stop offset="0.5853" stop-color="#1cff00"/><stop offset="0.5949" stop-color="#13ff00"/><stop offset="0.6044" stop-color="#0dff00"/><stop offset="0.614" stop-color="#08ff00"/><stop offset="0.6273" stop-color="#04ff00"/><stop offset="0.6407" stop-color="#02ff00"/><stop offset="0.6541" stop-color="#01ff00"/><stop offset="0.6674" stop-color="#00ff00"/><stop offset="0.6808" stop-color="#00ff00"/><stop offset="0.6942" stop-color="#00ff00"/><stop offset="0.7075" stop-color="#004200"/><stop offset="0.7514" stop-color="#004200"/></linearGradient>
<linearGradient id="hg17" x1="0" y1="0" x2="0" y2="1"><stop offset="0.2474" stop-color="#003800"/><stop offset="0.2913" stop-color="#003800"/><stop offset="0.3047" stop-color="#00ff00"/><stop offset="0.3181" stop-color="#00ff00"/><stop offset="0.3314" stop-color="#00ff00"/><stop offset="0.3448" stop-color="#01ff00"/><stop offset="0.3582" stop-color="#02ff00"/><stop offset="0.3715" stop-color="#04ff00"/><stop offset="0.3944" stop-color="#0cff00"/><stop offset="0.404" stop-color="#13ff00"/><stop offset="0.4135" stop-color="#1bff00"/><stop offset="0.4231" stop-color="#26ff00"/><stop offset="0.4326" stop-color="#33e400"/><stop offset="0.4422" stop-color="#42c800"/><stop offset="0.4517" stop-color="#52ac00"/><stop offset="0.4612" stop-color="#629a00"/><stop offset="0.4708" stop-color="#718b00"/><stop offset="0.4803" stop-color="#7d7800"/><stop offset="0.4899" stop-color="#846100"/><stop offset="0.4994" stop-color="#874900"/><stop offset="0.509" stop-color="#846100"/><stop offset="0.5185" stop-color="#7d7800"/><stop offset="0.5281" stop-color="#718b00"/><stop offset="0.5376" stop-color="#629a00"/><stop offset="0.5472" stop-color="#52ac00"/><stop offset="0.5567" stop-color="#42c800"/><stop offset="0.5662" stop-color="#33e400"/><stop offset="0.5758" stop-color="#26ff00"/><stop offset="0.5853" stop-color="#1bff00"/><stop offset="0.5949" stop-color="#13ff00"/><stop offset="0.6044" stop-color="#0cff00"/><stop offset="0.614" stop-color="#08ff00"/><stop offset="0.6273" stop-color="#04ff00"/><stop offset="0.6407" stop-color="#02ff00"/><stop offset="0.6541" stop-color="#01ff00"/><stop offset="0.6674" stop-color="#00ff00"/><stop offset="0.6808" stop-color="#00ff00"/><stop offset="0.6942" stop-color="#00ff00"/><stop offset="0.7075" stop-color="#003800"/><stop offset="0.7514" stop-color="#003800"/></linearGradient>
<linearGradient id="hg18" x1="0" y1="0" x2="0" y2="1"><stop offset="0.2474" stop-color="#003200"/><stop offset="0.2913" stop-color="#003200"/><stop offset="0.3047" stop-color="#00ff00"/><stop offset="0.3181" stop-color="#00ff00"/><stop offset="0.3314" stop-color="#00ff00"/><stop offset="0.3448" stop-color="#01ff00"/><stop offset="0.3582" stop-color="#02ff00"/><stop offset="0.3715" stop-color="#04ff00"/><stop offset="0.3944" stop-color="#0cff00"/><stop offset="0.404" stop-color="#12ff00"/><stop offset="0.4135" stop-color="#1afc00"/><stop offset="0.4231" stop-color="#25e500"/><stop offset="0.4326" stop-color="#33cd00"/><stop offset="0.4422" stop-color="#42b500"/><stop offset="0.4517" stop-color="#529c00"/><stop offset="0.4612" stop-color="#638b00"/><stop offset="0.4708" stop-color="#717c00"/><stop offset="0.4803" stop-color="#7d6a00"/><stop offset="0.4899" stop-color="#855500"/><stop offset="0.4994" stop-color="#883f00"/><stop offset="0.509" stop-color="#855500"/><stop offset="0.5185" stop-color="#7d6a00"/><stop offset="0.5281" stop-color="#717c00"/><stop offset="0.5376" stop-color="#638b00"/><stop offset="0.5472" stop-color="#529c00"/><stop offset="0.5567" stop-color="#42b500"/><stop offset="0.5662" stop-color="#33cd00"/><stop offset="0.5758" stop-color="#25e500"/><stop offset="0.5853" stop-color="#1afc00"/><stop offset="0.5949" stop-color="#12ff00"/><stop offset="0.6044" stop-color="#0cff00"/><stop offset="0.614" stop-color="#07ff00"/><stop offset="0.6273" stop-color="#04ff00"/><stop offset="0.6407" stop-color="#02ff00"/><stop offset="0.6541" stop-color="#01ff00"/><stop offset="0.6674" stop-color="#00ff00"/><stop offset="0.6808" stop-color="#00ff00"/><stop offset="0.6942" stop-color="#00ff00"/><stop offset="0.7075" stop-color="#003200"/><stop offset="0.7514" stop-color="#003200"/></linearGradient>
<linearGradient id="hg19" x1="0" y1="0" x2="0" y2="1"><stop offset="0.2474" stop-color="#003000"/><stop offset="0.2913" stop-color="#003000"/><stop offset="0.3047" stop-color="#00ff00"/><stop offset="0.3181" stop-color="#00ff00"/><stop offset="0.3314" stop-color="#00ff00"/><stop offset="0.3448" stop-color="#01ff00"/><stop offset="0.3582" stop-color="#02ff00"/><stop offset="0.3715" stop-color="#03ff00"/><stop offset="0.3944" stop-color="#0cff00"/><stop offset="0.404" stop-color="#12ff00"/><stop offset="0.4135" stop-color="#1af000"/><stop offset="0.4231" stop-color="#25db00"/><stop offset="0.4326" stop-color="#32c500"/><stop offset="0.4422" stop-color="#42ae00"/><stop offset="0.4517" stop-color="#529700"/><stop offset="0.4612" stop-color="#628700"/><stop offset="0.4708" stop-color="#717700"/><stop offset="0.4803" stop-color="#7d6500"/><stop offset="0.4899" stop-color="#855100"/><stop offset="0.4994" stop-color="#883b00"/><stop offset="0.509" stop-color="#855100"/><stop offset="0.5185" stop-color="#7d6500"/><stop offset="0.5281" stop-color="#717700"/><stop offset="0.5376" stop-color="#628700"/><stop offset="0.5472" stop-color="#529700"/><stop offset="0.5567" stop-color="#42ae00"/><stop offset="0.5662" stop-color="#32c500"/><stop offset="0.5758" stop-color="#25db00"/><stop offset="0.5853" stop-color="#1af000"/><stop offset="0.5949" stop-color="#12ff00"/><stop offset="0.6044" stop-color="#0cff00"/><stop offset="0.614" stop-color="#07ff00"/><stop offset="0.6273" stop-color="#03ff00"/><stop offset="0.6407" stop-color="#02ff00"/><stop offset="0.6541" stop-color="#01ff00"/><stop offset="0.6674" stop-color="#00ff00"/><stop offset="0.6808" stop-color="#00ff00"/><stop offset="0.6942" stop-color="#00ff00"/><stop offset="0.7075" stop-color="#003000"/><stop offset="0.7514" stop-color="#003000"/></linearGradient>
<linearGradient id="hg20" x1="0" y1="0" x2="0" y2="1"><stop offset="0.2474" stop-color="#002e00"/><stop offset="0.2913" stop-color="#002e00"/><stop offset="0.3047" stop-color="#00ff00"/><stop offset="0.3181" stop-color="#00ff00"/><stop offset="0.3314" stop-color="#00ff00"/><stop offset="0.3448" stop-color="#01ff00"/><stop offset="0.3582" stop-color="#01ff00"/><stop offset="0.3715" stop-color="#03ff00"/><stop offset="0.3944" stop-color="#0bff00"/><stop offset="0.404" stop-color="#12f600"/><stop offset="0.4135" stop-color="#1ae400"/><stop offset="0.4231" stop-color="#25d000"/><stop offset="0.4326" stop-color="#32bc00"/><stop offset="0.4422" stop-color="#41a700"/><stop offset="0.4517" stop-color="#529200"/><stop offset="0.4612" stop-color="#628100"/><stop offset="0.4708" stop-color="#717100"/><stop offset="0.4803" stop-color="#7d5f00"/><stop offset="0.4899" stop-color="#854c00"/><stop offset="0.4994" stop-color="#883700"/><stop offset="0.509" stop-color="#854c00"/><stop offset="0.5185" stop-color="#7d5f00"/><stop offset="0.5281" stop-color="#717100"/><stop offset="0.5376" stop-color="#628100"/><stop offset="0.5472" stop-color="#529200"/><stop offset="0.5567" stop-color="#41a700"/><stop offset="0.5662" stop-color="#32bc00"/><stop offset="0.5758" stop-color="#25d000"/><stop offset="0.5853" stop-color="#1ae400"/><stop offset="0.5949" stop-color="#12f600"/><stop offset="0.6044" stop-color="#0bff00"/><stop offset="0.614" stop-color="#07ff00"/><stop offset="0.6273" stop-color="#03ff00"/><stop offset="0.6407" stop-color="#01ff00"/><stop offset="0.6541" stop-color="#01ff00"/><stop offset="0.6674" stop-color="#00ff00"/><stop offset="0.6808" stop-color="#00ff00"/><stop offset="0.6942" stop-color="#00ff00"/><stop offset="0.7075" stop-color="#002e00"/><stop offset="0.7514" stop-color="#002e00"/></linearGradient>
<linearGradient id="hg21" x1="0" y1="0" x2="0" y2="1"><stop offset="0.2474" stop-color="#002d00"/><stop offset="0.2913" stop-color="#002d00"/><stop offset="0.3047" stop-color="#00ff00"/><stop offset="0.3181" stop-color="#00ff00"/><stop offset="0.3314" stop-color="#00ff00"/><stop offset="0.3448" stop-color="#01ff00"/><stop offset="0.3582" stop-color="#01ff00"/><stop offset="0.3715" stop-color="#03ff00"/><stop offset="0.3944" stop-color="#0bf500"/><stop offset="0.404" stop-color="#11e600"/><stop offset="0.4135" stop-color="#1ad600"/><stop offset="0.4231" stop-color="#25c500"/><stop offset="0.4326" stop-color="#32b300"/><stop offset="0.4422" stop-color="#41a000"/><stop offset="0.4517" stop-color="#518d00"/><stop offset="0.4612" stop-color="#627c00"/><stop offset="0.4708" stop-color="#716c00"/><stop offset="0.4803" stop-color="#7d5a00"/><stop offset="0.4899" stop-color="#854700"/><stop offset="0.4994" stop-color="#883200"/><stop offset="0.509" stop-color="#854700"/><stop offset="0.5185" stop-color="#7d5a00"/><stop offset="0.5281" stop-color="#716c00"/><stop offset="0.5376" stop-color="#627c00"/><stop offset="0.5472" stop-color="#518d00"/><stop offset="0.5567" stop-color="#41a000"/><stop offset="0.5662" stop-color="#32b300"/><stop offset="0.5758" stop-color="#25c500"/><stop offset="0.5853" stop-color="#1ad600"/><stop offset="0.5949" stop-color="#11e600"/><stop offset="0.6044" stop-color="#0bf500"/><stop offset="0.614" stop-color="#07ff00"/><stop offset="0.6273" stop-color="#03ff00"/><stop offset="0.6407" stop-color="#01ff00"/><stop offset="0.6541" stop-color="#01ff00"/><stop offset="0.6674" stop-color="#00ff00"/><stop offset="0.6808" stop-color="#00ff00"/><stop offset="0.6942" stop-color="#00ff00"/><stop offset="0.7075" stop-color="#002d00"/><stop offset="0.7514" stop-color="#002d00"/></linearGradient>
<linearGradient id="hg22" x1="0" y1="0" x2="0" y2="1"><stop offset="0.2474" stop-color="#002b00"/><stop offset="0.2913" stop-color="#002b00"/><stop offset="0.3047" stop-color="#00ff00"/><stop offset="0.3181" stop-color="#00ff00"/><stop offset="0.3314" stop-color="#00ff00"/><stop offset="0.3448" stop-color="#01ff00"/><stop offset="0.3582" stop-color="#01ff00"/><stop offset="0.3715" stop-color="#03fb00"/><stop offset="0.3944" stop-color="#0be200"/><stop offset="0.404" stop-color="#11d600"/><stop offset="0.4135" stop-color="#19c900"/><stop offset="0.4231" stop-color="#24ba00"/><stop offset="0.4326" stop-color="#32ab00"/><stop offset="0.4422" stop-color="#419a00"/><stop offset="0.4517" stop-color="#518800"/><stop offset="0.4612" stop-color="#627800"/><stop offset="0.4708" stop-color="#716700"/><stop offset="0.4803" stop-color="#7d5500"/><stop offset="0.4899" stop-color="#854200"/><stop offset="0.4994" stop-color="#882e00"/><stop offset="0.509" stop-color="#854200"/><stop offset="0.5185" stop-color="#7d5500"/><stop offset="0.5281" stop-color="#716700"/><stop offset="0.5376" stop-color="#627800"/><stop offset="0.5472" stop-color="#518800"/><stop offset="0.5567" stop-color="#419a00"/><stop offset="0.5662" stop-color="#32ab00"/><stop offset="0.5758" stop-color="#24ba00"/><stop offset="0.5853" stop-color="#19c900"/><stop offset="0.5949" stop-color="#11d600"/><stop offset="0.6044" stop-color="#0be200"/><stop offset="0.614" stop-color="#07ee00"/><stop offset="0.6273" stop-color="#03fb00"/><stop offset="0.6407" stop-color="#01ff00"/><stop offset="0.6541" stop-color="#01ff00"/><stop offset="0.6674" stop-color="#00ff00"/><stop offset="0.6808" stop-color="#00ff00"/><stop offset="0.6942" stop-color="#00ff00"/><stop offset="0.7075" stop-color="#002b00"/><stop offset="0.7514" stop-color="#002b00"/></linearGradient>
<linearGradient id="hg23" x1="0" y1="0" x2="0" y2="1"><stop offset="0.2474" stop-color="#002900"/><stop offset="0.2913" stop-color="#002900"/><stop offset="0.3047" stop-color="#00f500"/><stop offset="0.3181" stop-color="#00f400"/><stop offset="0.3314" stop-color="#00f100"/><stop offset="0.3448" stop-color="#01ee00"/><stop offset="0.3582" stop-color="#01e800"/><stop offset="0.3715" stop-color="#03e100"/><stop offset="0.3944" stop-color="#0bd000"/><stop offset="0.404" stop-color="#11c600"/><stop offset="0.4135" stop-color="#19bc00"/><stop offset="0.4231" stop-color="#24b000"/><stop offset="0.4326" stop-color="#31a300"/><stop offset="0.4422" stop-color="#419400"/><stop offset="0.4517" stop-color="#518400"/><stop offset="0.4612" stop-color="#627400"/><stop offset="0.4708" stop-color="#716200"/><stop offset="0.4803" stop-color="#7d5000"/><stop offset="0.4899" stop-color="#853d00"/><stop offset="0.4994" stop-color="#872a00"/><stop offset="0.509" stop-color="#853d00"/><stop offset="0.5185" stop-color="#7d5000"/><stop offset="0.5281" stop-color="#716200"/><stop offset="0.5376" stop-color="#627400"/><stop offset="0.5472" stop-color="#518400"/><stop offset="0.5567" stop-color="#419400"/><stop offset="0.5662" stop-color="#31a300"/><stop offset="0.5758" stop-color="#24b000"/><stop offset="0.5853" stop-color="#19bc00"/><stop offset="0.5949" stop-color="#11c600"/><stop offset="0.6044" stop-color="#0bd000"/><stop offset="0.614" stop-color="#07d800"/><stop offset="0.6273" stop-color="#03e100"/><stop offset="0.6407" stop-color="#01e800"/><stop offset="0.6541" stop-color="#01ee00"/><stop offset="0.6674" stop-color="#00f100"/><stop offset="0.6808" stop-color="#00f400"/><stop offset="0.6942" stop-color="#00f500"/><stop offset="0.7075" stop-color="#002900"/><stop offset="0.7514" stop-color="#002900"/></linearGradient>
<linearGradient id="hg24" x1="0" y1="0" x2="0" y2="1"><stop offset="0.2474" stop-color="#002700"/><stop offset="0.2913" stop-color="#002700"/><stop offset="0.3047" stop-color="#00ea00"/><stop offset="0.3181" stop-color="#00e900"/><stop offset="0.3314" stop-color="#00e700"/><stop offset="0.3448" stop-color="#01e400"/><stop offset="0.3582" stop-color="#01e000"/><stop offset="0.3715" stop-color="#03d900"/><stop offset="0.3944" stop-color="#0bc900"/><stop offset="0.404" stop-color="#11c000"/><stop offset="0.4135" stop-color="#19b600"/><stop offset="0.4231" stop-color="#24ab00"/><stop offset="0.4326" stop-color="#319e00"/><stop offset="0.4422" stop-color="#409000"/><stop offset="0.4517" stop-color="#518100"/><stop offset="0.4612" stop-color="#617000"/><stop offset="0.4708" stop-color="#705f00"/><stop offset="0.4803" stop-color="#7d4d00"/><stop offset="0.4899" stop-color="#843a00"/><stop offset="0.4994" stop-color="#872700"/><stop offset="0.509" stop-color="#843a00"/><stop offset="0.5185" stop-color="#7d4d00"/><stop offset="0.5281" stop-color="#705f00"/><stop offset="0.5376" stop-color="#617000"/><stop offset="0.5472" stop-color="#518100"/><stop offset="0.5567" stop-color="#409000"/><stop offset="0.5662" stop-color="#319e00"/><stop offset="0.5758" stop-color="#24ab00"/><stop offset="0.5853" stop-color="#19b600"/><stop offset="0.5949" stop-color="#11c000"/><stop offset="0.6044" stop-color="#0bc900"/><stop offset="0.614" stop-color="#07d000"/><stop offset="0.6273" stop-color="#03d900"/><stop offset="0.6407" stop-color="#01e000"/><stop offset="0.6541" stop-color="#01e400"/><stop offset="0.6674" stop-color="#00e700"/><stop offset="0.6808" stop-color="#00e900"/><stop offset="0.6942" stop-color="#00ea00"/><stop offset="0.7075" stop-color="#002700"/><stop offset="0.7514" stop-color="#002700"/></linearGradient>
<linearGradient id="hg25" x1="0" y1="0" x2="0" y2="1"><stop offset="0.2474" stop-color="#002600"/><stop offset="0.2913" stop-color="#002600"/><stop offset="0.3047" stop-color="#00e600"/><stop offset="0.3181" stop-color="#00e500"/><stop offset="0.3314" stop-color="#00e400"/><stop offset="0.3448" stop-color="#01e000"/><stop offset="0.3582" stop-color="#01dc00"/><stop offset="0.3715" stop-color="#03d500"/><stop offset="0.3944" stop-color="#0bc500"/><stop offset="0.404" stop-color="#11bc00"/><stop offset="0.4135" stop-color="#19b200"/><stop offset="0.4231" stop-color="#24a700"/><stop offset="0.4326" stop-color="#319a00"/><stop offset="0.4422" stop-color="#408c00"/><stop offset="0.4517" stop-color="#507d00"/><stop offset="0.4612" stop-color="#616d00"/><stop offset="0.4708" stop-color="#705c00"/><stop offset="0.4803" stop-color="#7c4a00"/><stop offset="0.4899" stop-color="#843800"/><stop offset="0.4994" stop-color="#872600"/><stop offset="0.509" stop-color="#843800"/><stop offset="0.5185" stop-color="#7c4a00"/><stop offset="0.5281" stop-color="#705c00"/><stop offset="0.5376" stop-color="#616d00"/><stop offset="0.5472" stop-color="#507d00"/><stop offset="0.5567" stop-color="#408c00"/><stop offset="0.5662" stop-color="#319a00"/><stop offset="0.5758" stop-color="#24a700"/><stop offset="0.5853" stop-color="#19b200"/><stop offset="0.5949" stop-color="#11bc00"/><stop offset="0.6044" stop-color="#0bc500"/><stop offset="0.614" stop-color="#07cc00"/><stop offset="0.6273" stop-color="#03d500"/><stop offset="0.6407" stop-color="#01dc00"/><stop offset="0.6541" stop-color="#01e000"/><stop offset="0.6674" stop-color="#00e400"/><stop offset="0.6808" stop-color="#00e500"/><stop offset="0.6942" stop-color="#00e600"/><stop offset="0.7075" stop-color="#002600"/><stop offset="0.7514" stop-color="#002600"/></linearGradient>
<linearGradient id="hg26" x1="0" y1="0" x2="0" y2="1"><stop offset="0.2474" stop-color="#002400"/><stop offset="0.2913" stop-color="#002400"/><stop offset="0.3047" stop-color="#00e300"/><stop offset="0.3181" stop-color="#00e200"/><stop offset="0.3314" stop-color="#00e000"/><stop offset="0.3448" stop-color="#01dd00"/><stop offset="0.3582" stop-color="#01d800"/><stop offset="0.3715" stop-color="#03d100"/><stop offset="0.3944" stop-color="#0bc100"/><stop offset="0.404" stop-color="#11b800"/><stop offset="0.4135" stop-color="#19ae00"/><stop offset="0.4231" stop-color="#24a300"/><stop offset="0.4326" stop-color="#319600"/><stop offset="0.4422" stop-color="#408900"/><stop offset="0.4517" stop-color="#507a00"/><stop offset="0.4612" stop-color="#616a00"/><stop offset="0.4708" stop-color="#705900"/><stop offset="0.4803" stop-color="#7c4800"/><stop offset="0.4899" stop-color="#843600"/><stop offset="0.4994" stop-color="#872400"/><stop offset="0.509" stop-color="#843600"/><stop offset="0.5185" stop-color="#7c4800"/><stop offset="0.5281" stop-color="#705900"/><stop offset="0.5376" stop-color="#616a00"/><stop offset="0.5472" stop-color="#507a00"/><stop offset="0.5567" stop-color="#408900"/><stop offset="0.5662" stop-color="#319600"/><stop offset="0.5758" stop-color="#24a300"/><stop offset="0.5853" stop-color="#19ae00"/><stop offset="0.5949" stop-color="#11b800"/><stop offset="0.6044" stop-color="#0bc100"/><stop offset="0.614" stop-color="#07c800"/><stop offset="0.6273" stop-color="#03d100"/><stop offset="0.6407" stop-color="#01d800"/><stop offset="0.6541" stop-color="#01dd00"/><stop offset="0.6674" stop-color="#00e000"/><stop offset="0.6808" stop-color="#00e200"/><stop offset="0.6942" stop-color="#00e300"/><stop offset="0.7075" stop-color="#002400"/><stop offset="0.7514" stop-color="#002400"/></linearGradient>
<linearGradient id="hg27" x1="0" y1="0" x2="0" y2="1"><stop offset="0.2474" stop-color="#002200"/><stop offset="0.2913" stop-color="#002200"/><stop offset="0.3047" stop-color="#00e000"/><stop offset="0.3181" stop-color="#00df00"/><stop offset="0.3314" stop-color="#00dc00"/><stop offset="0.3448" stop-color="#01d900"/><stop offset="0.3582" stop-color="#01d400"/><stop offset="0.3715" stop-color="#03cd00"/><stop offset="0.3944" stop-color="#0bbd00"/><stop offset="0.404" stop-color="#11b400"/><stop offset="0.4135" stop-color="#19ab00"/><stop offset="0.4231" stop-color="#239f00"/><stop offset="0.4326" stop-color="#309300"/><stop offset="0.4422" stop-color="#408500"/><stop offset="0.4517" stop-color="#507700"/><stop offset="0.4612" stop-color="#606700"/><stop offset="0.4708" stop-color="#6f5700"/><stop offset="0.4803" stop-color="#7c4500"/><stop offset="0.4899" stop-color="#843400"/><stop offset="0.4994" stop-color="#862200"/><stop offset="0.509" stop-color="#843400"/><stop offset="0.5185" stop-color="#7c4500"/><stop offset="0.5281" stop-color="#6f5700"/><stop offset="0.5376" stop-color="#606700"/><stop offset="0.5472" stop-color="#507700"/><stop offset="0.5567" stop-color="#408500"/><stop offset="0.5662" stop-color="#309300"/><stop offset="0.5758" stop-color="#239f00"/><stop offset="0.5853" stop-color="#19ab00"/><stop offset="0.5949" stop-color="#11b400"/><stop offset="0.6044" stop-color="#0bbd00"/><stop offset="0.614" stop-color="#07c500"/><stop offset="0.6273" stop-color="#03cd00"/><stop offset="0.6407" stop-color="#01d400"/><stop offset="0.6541" stop-color="#01d900"/><stop offset="0.6674" stop-color="#00dc00"/><stop offset="0.6808" stop-color="#00df00"/><stop offset="0.6942" stop-color="#00e000"/><stop offset="0.7075" stop-color="#002200"/><stop offset="0.7514" stop-color="#002200"/></linearGradient>
<linearGradient id="hg28" x1="0" y1="0" x2="0" y2="1"><stop offset="0.2474" stop-color="#002000"/><stop offset="0.2913" stop-color="#002000"/><stop offset="0.3047" stop-color="#00dc00"/><stop offset="0.3181" stop-color="#00db00"/><stop offset="0.3314" stop-color="#00d900"/><stop offset="0.3448" stop-color="#01d600"/><stop offset="0.3582" stop-color="#01d100"/><stop offset="0.3715" stop-color="#03ca00"/><stop offset="0.3944" stop-color="#0bba00"/><stop offset="0.404" stop-color="#11b100"/><stop offset="0.4135" stop-color="#19a700"/><stop offset="0.4231" stop-color="#239c00"/><stop offset="0.4326" stop-color="#309000"/><stop offset="0.4422" stop-color="#3f8300"/><stop offset="0.4517" stop-color="#507400"/><stop offset="0.4612" stop-color="#606500"/><stop offset="0.4708" stop-color="#6f5400"/><stop offset="0.4803" stop-color="#7b4300"/><stop offset="0.4899" stop-color="#833200"/><stop offset="0.4994" stop-color="#862000"/><stop offset="0.509" stop-color="#833200"/><stop offset="0.5185" stop-color="#7b4300"/><stop offset="0.5281" stop-color="#6f5400"/><stop offset="0.5376" stop-color="#606500"/><stop offset="0.5472" stop-color="#507400"/><stop offset="0.5567" stop-color="#3f8300"/><stop offset="0.5662" stop-color="#309000"/><stop offset="0.5758" stop-color="#239c00"/><stop offset="0.5853" stop-color="#19a700"/><stop offset="0.5949" stop-color="#11b100"/><stop offset="0.6044" stop-color="#0bba00"/><stop offset="0.614" stop-color="#07c100"/><stop offset="0.6273" stop-color="#03ca00"/><stop offset="0.6407" stop-color="#01d100"/><stop offset="0.6541" stop-color="#01d600"/><stop offset="0.6674" stop-color="#00d900"/><stop offset="0.6808" stop-color="#00db00"/><stop offset="0.6942" stop-color="#00dc00"/><stop offset="0.7075" stop-color="#002000"/><stop offset="0.7514" stop-color="#002000"/></linearGradient>
<linearGradient id="hg29" x1="0" y1="0" x2="0" y2="1"><stop offset="0.2474" stop-color="#001e00"/><stop offset="0.2913" stop-color="#001e00"/><stop offset="0.3047" stop-color="#00d900"/><stop offset="0.3181" stop-color="#00d800"/><stop offset="0.3314" stop-color="#00d600"/><stop offset="0.3448" stop-color="#01d300"/><stop offset="0.3582" stop-color="#01ce00"/><stop offset="0.3715" stop-color="#03c700"/><stop offset="0.3944" stop-color="#0bb700"/><stop offset="0.404" stop-color="#10ae00"/><stop offset="0.4135" stop-color="#19a500"/><stop offset="0.4231" stop-color="#239a00"/><stop offset="0.4326" stop-color="#308e00"/><stop offset="0.4422" stop-color="#3f8000"/><stop offset="0.4517" stop-color="#4f7200"/><stop offset="0.4612" stop-color="#606200"/><stop offset="0.4708" stop-color="#6f5200"/><stop offset="0.4803" stop-color="#7b4100"/><stop offset="0.4899" stop-color="#833000"/><stop offset="0.4994" stop-color="#861e00"/><stop offset="0.509" stop-color="#833000"/><stop offset="0.5185" stop-color="#7b4100"/><stop offset="0.5281" stop-color="#6f5200"/><stop offset="0.5376" stop-color="#606200"/><stop offset="0.5472" stop-color="#4f7200"/><stop offset="0.5567" stop-color="#3f8000"/><stop offset="0.5662" stop-color="#308e00"/><stop offset="0.5758" stop-color="#239a00"/><stop offset="0.5853" stop-color="#19a500"/><stop offset="0.5949" stop-color="#10ae00"/><stop offset="0.6044" stop-color="#0bb700"/><stop offset="0.614" stop-color="#06be00"/><stop offset="0.6273" stop-color="#03c700"/><stop offset="0.6407" stop-color="#01ce00"/><stop offset="0.6541" stop-color="#01d300"/><stop offset="0.6674" stop-color="#00d600"/><stop offset="0.6808" stop-color="#00d800"/><stop offset="0.6942" stop-color="#00d900"/><stop offset="0.7075" stop-color="#001e00"/><stop offset="0.7514" stop-color="#001e00"/></linearGradient>
<linearGradient id="hg30" x1="0" y1="0" x2="0" y2="1"><stop offset="0.2474" stop-color="#001d00"/><stop offset="0.2913" stop-color="#001d00"/><stop offset="0.3047" stop-color="#00d600"/><stop offset="0.3181" stop-color="#00d500"/><stop offset="0.3314" stop-color="#00d300"/><stop offset="0.3448" stop-color="#01cf00"/><stop offset="0.3582" stop-color="#01ca00"/><stop offset="0.3715" stop-color="#03c400"/><stop offset="0.3944" stop-color="#0bb400"/><stop offset="0.404" stop-color="#10ac00"/><stop offset="0.4135" stop-color="#19a200"/><stop offset="0.4231" stop-color="#239700"/><stop offset="0.4326" stop-color="#308b00"/><stop offset="0.4422" stop-color="#3f7e00"/><stop offset="0.4517" stop-color="#4f6f00"/><stop offset="0.4612" stop-color="#606000"/><stop offset="0.4708" stop-color="#6e5000"/><stop offset="0.4803" stop-color="#7b3f00"/><stop offset="0.4899" stop-color="#822e00"/><stop offset="0.4994" stop-color="#851d00"/><stop offset="0.509" stop-color="#822e00"/><stop offset="0.5185" stop-color="#7b3f00"/><stop offset="0.5281" stop-color="#6e5000"/><stop offset="0.5376" stop-color="#606000"/><stop offset="0.5472" stop-color="#4f6f00"/><stop offset="0.5567" stop-color="#3f7e00"/><stop offset="0.5662" stop-color="#308b00"/><stop offset="0.5758" stop-color="#239700"/><stop offset="0.5853" stop-color="#19a200"/><stop offset="0.5949" stop-color="#10ac00"/><stop offset="0.6044" stop-color="#0bb400"/><stop offset="0.614" stop-color="#06bb00"/><stop offset="0.6273" stop-color="#03c400"/><stop offset="0.6407" stop-color="#01ca00"/><stop offset="0.6541" stop-color="#01cf00"/><stop offset="0.6674" stop-color="#00d300"/><stop offset="0.6808" stop-color="#00d500"/><stop offset="0.6942" stop-color="#00d600"/><stop offset="0.7075" stop-color="#001d00"/><stop offset="0.7514" stop-color="#001d00"/></linearGradient>
<linearGradient id="hg31" x1="0" y1="0" x2="0" y2="1"><stop offset="0.2474" stop-color="#001b00"/><stop offset="0.2913" stop-color="#001b00"/><stop offset="0.3047" stop-color="#00d200"/><stop offset="0.3181" stop-color="#00d100"/><stop offset="0.3314" stop-color="#00cf00"/><stop offset="0.3448" stop-color="#01cc00"/><stop offset="0.3582" stop-color="#01c700"/><stop offset="0.3715" stop-color="#03c100"/><stop offset="0.3944" stop-color="#0bb100"/><stop offset="0.404" stop-color="#10a800"/><stop offset="0.4135" stop-color="#189f00"/><stop offset="0.4231" stop-color="#239400"/><stop offset="0.4326" stop-color="#308800"/><stop offset="0.4422" stop-color="#3f7b00"/><stop offset="0.4517" stop-color="#4f6d00"/><stop offset="0.4612" stop-color="#5f5e00"/><stop offset="0.4708" stop-color="#6e4e00"/><stop offset="0.4803" stop-color="#7a3d00"/><stop offset="0.4899" stop-color="#822c00"/><stop offset="0.4994" stop-color="#851b00"/><stop offset="0.509" stop-color="#822c00"/><stop offset="0.5185" stop-color="#7a3d00"/><stop offset="0.5281" stop-color="#6e4e00"/><stop offset="0.5376" stop-color="#5f5e00"/><stop offset="0.5472" stop-color="#4f6d00"/><stop offset="0.5567" stop-color="#3f7b00"/><stop offset="0.5662" stop-color="#308800"/><stop offset="0.5758" stop-color="#239400"/><stop offset="0.5853" stop-color="#189f00"/><stop offset="0.5949" stop-color="#10a800"/><stop offset="0.6044" stop-color="#0bb100"/><stop offset="0.614" stop-color="#06b800"/><stop offset="0.6273" stop-color="#03c100"/><stop offset="0.6407" stop-color="#01c700"/><stop offset="0.6541" stop-color="#01cc00"/><stop offset="0.6674" stop-color="#00cf00"/><stop offset="0.6808" stop-color="#00d100"/><stop offset="0.6942" stop-color="#00d200"/><stop offset="0.7075" stop-color="#001b00"/><stop offset="0.7514" stop-color="#001b00"/></linearGradient>
<linearGradient id="hg32" x1="0" y1="0" x2="0" y2="1"><stop offset="0.2474" stop-color="#001900"/><stop offset="0.2913" stop-color="#001900"/><stop offset="0.3047" stop-color="#00cf00"/><stop offset="0.3181" stop-color="#00ce00"/><stop offset="0.3314" stop-color="#00cc00"/><stop offset="0.3448" stop-color="#01c900"/><stop offset="0.3582" stop-color="#01c400"/><stop offset="0.3715" stop-color="#03be00"/><stop offset="0.3944" stop-color="#0aae00"/><stop offset="0.404" stop-color="#10a600"/><stop offset="0.4135" stop-color="#189c00"/><stop offset="0.4231" stop-color="#239100"/><stop offset="0.4326" stop-color="#308500"/><stop offset="0.4422" stop-color="#3f7800"/><stop offset="0.4517" stop-color="#4f6a00"/><stop offset="0.4612" stop-color="#5f5b00"/><stop offset="0.4708" stop-color="#6e4c00"/><stop offset="0.4803" stop-color="#7a3b00"/><stop offset="0.4899" stop-color="#822a00"/><stop offset="0.4994" stop-color="#841900"/><stop offset="0.509" stop-color="#822a00"/><stop offset="0.5185" stop-color="#7a3b00"/><stop offset="0.5281" stop-color="#6e4c00"/><stop offset="0.5376" stop-color="#5f5b00"/><stop offset="0.5472" stop-color="#4f6a00"/><stop offset="0.5567" stop-color="#3f7800"/><stop offset="0.5662" stop-color="#308500"/><stop offset="0.5758" stop-color="#239100"/><stop offset="0.5853" stop-color="#189c00"/><stop offset="0.5949" stop-color="#10a600"/><stop offset="0.6044" stop-color="#0aae00"/><stop offset="0.614" stop-color="#06b500"/><stop offset="0.6273" stop-color="#03be00"/><stop offset="0.6407" stop-color="#01c400"/><stop offset="0.6541" stop-color="#01c900"/><stop offset="0.6674" stop-color="#00cc00"/><stop offset="0.6808" stop-color="#00ce00"/><stop offset="0.6942" stop-color="#00cf00"/><stop offset="0.7075" stop-color="#001900"/><stop offset="0.7514" stop-color="#001900"/></linearGradient>
<linearGradient id="hg33" x1="0" y1="0" x2="0" y2="1"><stop offset="0.2474" stop-color="#001700"/><stop offset="0.2913" stop-color="#001700"/><stop offset="0.3047" stop-color="#00cc00"/><stop offset="0.3181" stop-color="#00cb00"/><stop offset="0.3314" stop-color="#00c900"/><stop offset="0.3448" stop-color="#01c600"/><stop offset="0.3582" stop-color="#01c100"/><stop offset="0.3715" stop-color="#03bb00"/><stop offset="0.3944" stop-color="#0aab00"/><stop offset="0.404" stop-color="#10a300"/><stop offset="0.4135" stop-color="#189900"/><stop offset="0.4231" stop-color="#238f00"/><stop offset="0.4326" stop-color="#308300"/><stop offset="0.4422" stop-color="#3e7600"/><stop offset="0.4517" stop-color="#4e6800"/><stop offset="0.4612" stop-color="#5f5900"/><stop offset="0.4708" stop-color="#6d4900"/><stop offset="0.4803" stop-color="#793900"/><stop offset="0.4899" stop-color="#812800"/><stop offset="0.4994" stop-color="#841700"/><stop offset="0.509" stop-color="#812800"/><stop offset="0.5185" stop-color="#793900"/><stop offset="0.5281" stop-color="#6d4900"/><stop offset="0.5376" stop-color="#5f5900"/><stop offset="0.5472" stop-color="#4e6800"/><stop offset="0.5567" stop-color="#3e7600"/><stop offset="0.5662" stop-color="#308300"/><stop offset="0.5758" stop-color="#238f00"/><stop offset="0.5853" stop-color="#189900"/><stop offset="0.5949" stop-color="#10a300"/><stop offset="0.6044" stop-color="#0aab00"/><stop offset="0.614" stop-color="#06b200"/><stop offset="0.6273" stop-color="#03bb00"/><stop offset="0.6407" stop-color="#01c100"/><stop offset="0.6541" stop-color="#01c600"/><stop offset="0.6674" stop-color="#00c900"/><stop offset="0.6808" stop-color="#00cb00"/><stop offset="0.6942" stop-color="#00cc00"/><stop offset="0.7075" stop-color="#001700"/><stop offset="0.7514" stop-color="#001700"/></linearGradient>
<linearGradient id="hg34" x1="0" y1="0" x2="0" y2="1"><stop offset="0.2474" stop-color="#001500"/><stop offset="0.2913" stop-color="#001500"/><stop offset="0.3047" stop-color="#00c900"/><stop offset="0.3181" stop-color="#00c800"/><stop offset="0.3314" stop-color="#00c600"/><stop offset="0.3448" stop-color="#01c300"/><stop offset="0.3582" stop-color="#01be00"/><stop offset="0.3715" stop-color="#03b800"/><stop offset="0.3944" stop-color="#0aa800"/><stop offset="0.404" stop-color="#10a000"/><stop offset="0.4135" stop-color="#189700"/><stop offset="0.4231" stop-color="#238c00"/><stop offset="0.4326" stop-color="#2f8000"/><stop offset="0.4422" stop-color="#3e7400"/><stop offset="0.4517" stop-color="#4e6600"/><stop offset="0.4612" stop-color="#5e5700"/><stop offset="0.4708" stop-color="#6d4700"/><stop offset="0.4803" stop-color="#793700"/><stop offset="0.4899" stop-color="#812600"/><stop offset="0.4994" stop-color="#831500"/><stop offset="0.509" stop-color="#812600"/><stop offset="0.5185" stop-color="#793700"/><stop offset="0.5281" stop-color="#6d4700"/><stop offset="0.5376" stop-color="#5e5700"/><stop offset="0.5472" stop-color="#4e6600"/><stop offset="0.5567" stop-color="#3e7400"/><stop offset="0.5662" stop-color="#2f8000"/><stop offset="0.5758" stop-color="#238c00"/><stop offset="0.5853" stop-color="#189700"/><stop offset="0.5949" stop-color="#10a000"/><stop offset="0.6044" stop-color="#0aa800"/><stop offset="0.614" stop-color="#06af00"/><stop offset="0.6273" stop-color="#03b800"/><stop offset="0.6407" stop-color="#01be00"/><stop offset="0.6541" stop-color="#01c300"/><stop offset="0.6674" stop-color="#00c600"/><stop offset="0.6808" stop-color="#00c800"/><stop offset="0.6942" stop-color="#00c900"/><stop offset="0.7075" stop-color="#001500"/><stop offset="0.7514" stop-color="#001500"/></linearGradient>
<linearGradient id="hg35" x1="0" y1="0" x2="0" y2="1"><stop offset="0.2474" stop-color="#001400"/><stop offset="0.2913" stop-color="#001400"/><stop offset="0.3047" stop-color="#00c700"/><stop offset="0.3181" stop-color="#00c600"/><stop offset="0.3314" stop-color="#00c400"/><stop offset="0.3448" stop-color="#01c100"/><stop offset="0.3582" stop-color="#01bc00"/><stop offset="0.3715" stop-color="#03b600"/><stop offset="0.3944" stop-color="#0aa700"/><stop offset="0.404" stop-color="#109f00"/><stop offset="0.4135" stop-color="#189500"/><stop offset="0.4231" stop-color="#238b00"/><stop offset="0.4326" stop-color="#2f7f00"/><stop offset="0.4422" stop-color="#3e7200"/><stop offset="0.4517" stop-color="#4e6500"/><stop offset="0.4612" stop-color="#5e5600"/><stop offset="0.4708" stop-color="#6d4600"/><stop offset="0.4803" stop-color="#793600"/><stop offset="0.4899" stop-color="#802500"/><stop offset="0.4994" stop-color="#831400"/><stop offset="0.509" stop-color="#802500"/><stop offset="0.5185" stop-color="#793600"/><stop offset="0.5281" stop-color="#6d4600"/><stop offset="0.5376" stop-color="#5e5600"/><stop offset="0.5472" stop-color="#4e6500"/><stop offset="0.5567" stop-color="#3e7200"/><stop offset="0.5662" stop-color="#2f7f00"/><stop offset="0.5758" stop-color="#238b00"/><stop offset="0.5853" stop-color="#189500"/><stop offset="0.5949" stop-color="#109f00"/><stop offset="0.6044" stop-color="#0aa700"/><stop offset="0.614" stop-color="#06ae00"/><stop offset="0.6273" stop-color="#03b600"/><stop offset="0.6407" stop-color="#01bc00"/><stop offset="0.6541" stop-color="#01c100"/><stop offset="0.6674" stop-color="#00c400"/><stop offset="0.6808" stop-color="#00c600"/><stop offset="0.6942" stop-color="#00c700"/><stop offset="0.7075" stop-color="#001400"/><stop offset="0.7514" stop-color="#001400"/></linearGradient>
<filter id="hm" color-interpolation-filters="sRGB" filterUnits="userSpaceOnUse" x="105" y="355.5" width="1590.4" height="241.9">
<feGaussianBlur in="SourceGraphic" stdDeviation="14 0" result="sg"/>
<feColorMatrix in="sg" type="matrix" values="1 0 0 0 0 1 0 0 0 0 1 0 0 0 0 0 0 0 0 1" result="E"/>
<feColorMatrix in="sg" type="matrix" values="0 1 0 0 0 0 1 0 0 0 0 1 0 0 0 0 0 0 0 1" result="M"/>
<feFlood flood-color="#fff" x="106" y="356" width="2.4" height="240" result="st"/>
<feOffset in="st" dx="0" dy="0" x="106" y="356" width="5.07" height="240" result="cell"/>
<feTile in="cell" result="comb0"/>
<feFlood flood-color="#000" result="blk"/>
<feComposite in="comb0" in2="blk" operator="over" result="comb1"/>
<feGaussianBlur in="comb1" stdDeviation="0.9 0" result="comb"/>
<feTurbulence type="fractalNoise" baseFrequency="0.9 0.05" numOctaves="1" seed="7" result="n0"/>
<feColorMatrix in="n0" type="matrix" values="4 0 0 0 -1.5 4 0 0 0 -1.5 4 0 0 0 -1.5 0 0 0 0 1" result="N00"/>
<feComposite in="comb" in2="N00" operator="arithmetic" k1="0" k2="0.5" k3="1.0" k4="-0.235" result="N0"/>
<feComposite in="M" in2="N0" operator="arithmetic" k1="1" k2="-0.5" k3="0" k4="0.5" result="T0"/>
<feComposite in="E" in2="T0" operator="arithmetic" k1="4" k2="0" k3="0" k4="0" result="I0"/>
<feComponentTransfer in="I0" result="P0"><feFuncR type="table" tableValues="0.242 0.258 0.27 0.278 0.281 0.28 0.271 0.248 0.202 0.18 0.171 0.149 0.13 0.102 0.047 0.005 0.07 0.155 0.204 0.265 0.359 0.466 0.579 0.687 0.785 0.872 0.946 0.996 0.994 0.978 0.961 0.963 0.977"/><feFuncG type="table" tableValues="0.15 0.181 0.214 0.254 0.298 0.341 0.385 0.431 0.479 0.523 0.564 0.603 0.639 0.673 0.702 0.726 0.746 0.762 0.78 0.794 0.802 0.801 0.792 0.777 0.757 0.739 0.729 0.747 0.792 0.841 0.891 0.938 0.984"/><feFuncB type="table" tableValues="0.66 0.75 0.834 0.896 0.939 0.97 0.989 0.998 0.991 0.971 0.941 0.913 0.892 0.867 0.826 0.778 0.726 0.671 0.611 0.541 0.463 0.376 0.291 0.214 0.162 0.163 0.216 0.234 0.201 0.175 0.153 0.126 0.081"/></feComponentTransfer>
<feTurbulence type="fractalNoise" baseFrequency="0.9 0.05" numOctaves="1" seed="12" result="n1"/>
<feColorMatrix in="n1" type="matrix" values="4 0 0 0 -1.5 4 0 0 0 -1.5 4 0 0 0 -1.5 0 0 0 0 1" result="N01"/>
<feComposite in="comb" in2="N01" operator="arithmetic" k1="0" k2="0.5" k3="1.0" k4="-0.235" result="N1"/>
<feComposite in="M" in2="N1" operator="arithmetic" k1="1" k2="-0.5" k3="0" k4="0.5" result="T1"/>
<feComposite in="E" in2="T1" operator="arithmetic" k1="4" k2="0" k3="0" k4="0" result="I1"/>
<feComponentTransfer in="I1" result="P1"><feFuncR type="table" tableValues="0.242 0.258 0.27 0.278 0.281 0.28 0.271 0.248 0.202 0.18 0.171 0.149 0.13 0.102 0.047 0.005 0.07 0.155 0.204 0.265 0.359 0.466 0.579 0.687 0.785 0.872 0.946 0.996 0.994 0.978 0.961 0.963 0.977"/><feFuncG type="table" tableValues="0.15 0.181 0.214 0.254 0.298 0.341 0.385 0.431 0.479 0.523 0.564 0.603 0.639 0.673 0.702 0.726 0.746 0.762 0.78 0.794 0.802 0.801 0.792 0.777 0.757 0.739 0.729 0.747 0.792 0.841 0.891 0.938 0.984"/><feFuncB type="table" tableValues="0.66 0.75 0.834 0.896 0.939 0.97 0.989 0.998 0.991 0.971 0.941 0.913 0.892 0.867 0.826 0.778 0.726 0.671 0.611 0.541 0.463 0.376 0.291 0.214 0.162 0.163 0.216 0.234 0.201 0.175 0.153 0.126 0.081"/></feComponentTransfer>
<feTurbulence type="fractalNoise" baseFrequency="0.9 0.05" numOctaves="1" seed="17" result="n2"/>
<feColorMatrix in="n2" type="matrix" values="4 0 0 0 -1.5 4 0 0 0 -1.5 4 0 0 0 -1.5 0 0 0 0 1" result="N02"/>
<feComposite in="comb" in2="N02" operator="arithmetic" k1="0" k2="0.5" k3="1.0" k4="-0.235" result="N2"/>
<feComposite in="M" in2="N2" operator="arithmetic" k1="1" k2="-0.5" k3="0" k4="0.5" result="T2"/>
<feComposite in="E" in2="T2" operator="arithmetic" k1="4" k2="0" k3="0" k4="0" result="I2"/>
<feComponentTransfer in="I2" result="P2"><feFuncR type="table" tableValues="0.242 0.258 0.27 0.278 0.281 0.28 0.271 0.248 0.202 0.18 0.171 0.149 0.13 0.102 0.047 0.005 0.07 0.155 0.204 0.265 0.359 0.466 0.579 0.687 0.785 0.872 0.946 0.996 0.994 0.978 0.961 0.963 0.977"/><feFuncG type="table" tableValues="0.15 0.181 0.214 0.254 0.298 0.341 0.385 0.431 0.479 0.523 0.564 0.603 0.639 0.673 0.702 0.726 0.746 0.762 0.78 0.794 0.802 0.801 0.792 0.777 0.757 0.739 0.729 0.747 0.792 0.841 0.891 0.938 0.984"/><feFuncB type="table" tableValues="0.66 0.75 0.834 0.896 0.939 0.97 0.989 0.998 0.991 0.971 0.941 0.913 0.892 0.867 0.826 0.778 0.726 0.671 0.611 0.541 0.463 0.376 0.291 0.214 0.162 0.163 0.216 0.234 0.201 0.175 0.153 0.126 0.081"/></feComponentTransfer>
<feTurbulence type="fractalNoise" baseFrequency="0.9 0.05" numOctaves="1" seed="22" result="n3"/>
<feColorMatrix in="n3" type="matrix" values="4 0 0 0 -1.5 4 0 0 0 -1.5 4 0 0 0 -1.5 0 0 0 0 1" result="N03"/>
<feComposite in="comb" in2="N03" operator="arithmetic" k1="0" k2="0.5" k3="1.0" k4="-0.235" result="N3"/>
<feComposite in="M" in2="N3" operator="arithmetic" k1="1" k2="-0.5" k3="0" k4="0.5" result="T3"/>
<feComposite in="E" in2="T3" operator="arithmetic" k1="4" k2="0" k3="0" k4="0" result="I3"/>
<feComponentTransfer in="I3" result="P3"><feFuncR type="table" tableValues="0.242 0.258 0.27 0.278 0.281 0.28 0.271 0.248 0.202 0.18 0.171 0.149 0.13 0.102 0.047 0.005 0.07 0.155 0.204 0.265 0.359 0.466 0.579 0.687 0.785 0.872 0.946 0.996 0.994 0.978 0.961 0.963 0.977"/><feFuncG type="table" tableValues="0.15 0.181 0.214 0.254 0.298 0.341 0.385 0.431 0.479 0.523 0.564 0.603 0.639 0.673 0.702 0.726 0.746 0.762 0.78 0.794 0.802 0.801 0.792 0.777 0.757 0.739 0.729 0.747 0.792 0.841 0.891 0.938 0.984"/><feFuncB type="table" tableValues="0.66 0.75 0.834 0.896 0.939 0.97 0.989 0.998 0.991 0.971 0.941 0.913 0.892 0.867 0.826 0.778 0.726 0.671 0.611 0.541 0.463 0.376 0.291 0.214 0.162 0.163 0.216 0.234 0.201 0.175 0.153 0.126 0.081"/></feComponentTransfer>
<feComposite in="P0" in2="P1" operator="arithmetic" k1="0" k2="0.5" k3="0.5" k4="0" result="S1"/>
<feComposite in="S1" in2="P2" operator="arithmetic" k1="0" k2="0.6667" k3="0.3333" k4="0" result="S2"/>
<feComposite in="S2" in2="P3" operator="arithmetic" k1="0" k2="0.75" k3="0.25" k4="0" result="S3"/>
<feGaussianBlur in="S3" stdDeviation="0.8 0.55"/>
</filter>
<clipPath id="clipH"><rect x="135" y="365.5" width="1530.4" height="221.9"/></clipPath>
<linearGradient id="cbar" x1="0" y1="0" x2="0" y2="1"><stop offset="0" stop-color="#f9fb15"/><stop offset="0.0625" stop-color="#f5e327"/><stop offset="0.125" stop-color="#feca33"/><stop offset="0.1875" stop-color="#f1ba37"/><stop offset="0.25" stop-color="#c8c129"/><stop offset="0.3125" stop-color="#94ca4a"/><stop offset="0.375" stop-color="#5ccc76"/><stop offset="0.4375" stop-color="#34c79c"/><stop offset="0.5" stop-color="#12beb9"/><stop offset="0.5625" stop-color="#0cb3d3"/><stop offset="0.625" stop-color="#21a3e3"/><stop offset="0.6875" stop-color="#2c90f0"/><stop offset="0.75" stop-color="#347afd"/><stop offset="0.8125" stop-color="#4562fc"/><stop offset="0.875" stop-color="#484cef"/><stop offset="0.9375" stop-color="#4536d5"/><stop offset="1" stop-color="#3e26a8"/></linearGradient>
<linearGradient id="cIx" gradientUnits="userSpaceOnUse" x1="-100" y1="0" x2="100" y2="0"><stop offset="0" stop-color="#000000"/><stop offset="0.0167" stop-color="#000000"/><stop offset="0.0333" stop-color="#010101"/><stop offset="0.05" stop-color="#010101"/><stop offset="0.0667" stop-color="#030303"/><stop offset="0.0833" stop-color="#050505"/><stop offset="0.1" stop-color="#080808"/><stop offset="0.1167" stop-color="#0e0e0e"/><stop offset="0.1333" stop-color="#161616"/><stop offset="0.15" stop-color="#232323"/><stop offset="0.1667" stop-color="#343434"/><stop offset="0.1833" stop-color="#4a4a4a"/><stop offset="0.2" stop-color="#646464"/><stop offset="0.2167" stop-color="#828282"/><stop offset="0.2333" stop-color="#a1a1a1"/><stop offset="0.25" stop-color="#bdbdbd"/><stop offset="0.2667" stop-color="#d0d0d0"/><stop offset="0.2833" stop-color="#d7d7d7"/><stop offset="0.3" stop-color="#cdcdcd"/><stop offset="0.3167" stop-color="#b3b3b3"/><stop offset="0.3333" stop-color="#8b8b8b"/><stop offset="0.35" stop-color="#5c5c5c"/><stop offset="0.3667" stop-color="#2e2e2e"/><stop offset="0.3833" stop-color="#0d0d0d"/><stop offset="0.4" stop-color="#000000"/><stop offset="0.4167" stop-color="#0c0c0c"/><stop offset="0.4333" stop-color="#303030"/><stop offset="0.45" stop-color="#626262"/><stop offset="0.4667" stop-color="#959595"/><stop offset="0.4833" stop-color="#bababa"/><stop offset="0.5" stop-color="#c5c5c5"/><stop offset="0.5167" stop-color="#b2b2b2"/><stop offset="0.5333" stop-color="#888888"/><stop offset="0.55" stop-color="#525252"/><stop offset="0.5667" stop-color="#222222"/><stop offset="0.5833" stop-color="#050505"/><stop offset="0.6" stop-color="#020202"/><stop offset="0.6167" stop-color="#191919"/><stop offset="0.6333" stop-color="#444444"/><stop offset="0.65" stop-color="#7a7a7a"/><stop offset="0.6667" stop-color="#aeaeae"/><stop offset="0.6833" stop-color="#d8d8d8"/><stop offset="0.7" stop-color="#f1f1f1"/><stop offset="0.7167" stop-color="#f7f7f7"/><stop offset="0.7333" stop-color="#ececec"/><stop offset="0.75" stop-color="#d4d4d4"/><stop offset="0.7667" stop-color="#b3b3b3"/><stop offset="0.7833" stop-color="#909090"/><stop offset="0.8" stop-color="#6e6e6e"/><stop offset="0.8167" stop-color="#505050"/><stop offset="0.8333" stop-color="#383838"/><stop offset="0.85" stop-color="#262626"/><stop offset="0.8667" stop-color="#181818"/><stop offset="0.8833" stop-color="#0f0f0f"/><stop offset="0.9" stop-color="#090909"/><stop offset="0.9167" stop-color="#050505"/><stop offset="0.9333" stop-color="#030303"/><stop offset="0.95" stop-color="#010101"/><stop offset="0.9667" stop-color="#010101"/><stop offset="0.9833" stop-color="#000000"/><stop offset="1" stop-color="#000000"/></linearGradient>
<linearGradient id="cIy" gradientUnits="userSpaceOnUse" x1="0" y1="-100" x2="0" y2="100"><stop offset="0" stop-color="#000" stop-opacity="1"/><stop offset="0.025" stop-color="#000" stop-opacity="1"/><stop offset="0.05" stop-color="#000" stop-opacity="1"/><stop offset="0.075" stop-color="#000" stop-opacity="1"/><stop offset="0.1" stop-color="#000" stop-opacity="1"/><stop offset="0.125" stop-color="#000" stop-opacity="1"/><stop offset="0.15" stop-color="#000" stop-opacity="0.999"/><stop offset="0.175" stop-color="#000" stop-opacity="0.998"/><stop offset="0.2" stop-color="#000" stop-opacity="0.994"/><stop offset="0.225" stop-color="#000" stop-opacity="0.987"/><stop offset="0.25" stop-color="#000" stop-opacity="0.972"/><stop offset="0.275" stop-color="#000" stop-opacity="0.944"/><stop offset="0.3" stop-color="#000" stop-opacity="0.898"/><stop offset="0.325" stop-color="#000" stop-opacity="0.825"/><stop offset="0.35" stop-color="#000" stop-opacity="0.722"/><stop offset="0.375" stop-color="#000" stop-opacity="0.589"/><stop offset="0.4" stop-color="#000" stop-opacity="0.434"/><stop offset="0.425" stop-color="#000" stop-opacity="0.274"/><stop offset="0.45" stop-color="#000" stop-opacity="0.133"/><stop offset="0.475" stop-color="#000" stop-opacity="0.035"/><stop offset="0.5" stop-color="#000" stop-opacity="0"/><stop offset="0.525" stop-color="#000" stop-opacity="0.035"/><stop offset="0.55" stop-color="#000" stop-opacity="0.133"/><stop offset="0.575" stop-color="#000" stop-opacity="0.274"/><stop offset="0.6" stop-color="#000" stop-opacity="0.434"/><stop offset="0.625" stop-color="#000" stop-opacity="0.589"/><stop offset="0.65" stop-color="#000" stop-opacity="0.722"/><stop offset="0.675" stop-color="#000" stop-opacity="0.825"/><stop offset="0.7" stop-color="#000" stop-opacity="0.898"/><stop offset="0.725" stop-color="#000" stop-opacity="0.944"/><stop offset="0.75" stop-color="#000" stop-opacity="0.972"/><stop offset="0.775" stop-color="#000" stop-opacity="0.987"/><stop offset="0.8" stop-color="#000" stop-opacity="0.994"/><stop offset="0.825" stop-color="#000" stop-opacity="0.998"/><stop offset="0.85" stop-color="#000" stop-opacity="0.999"/><stop offset="0.875" stop-color="#000" stop-opacity="1"/><stop offset="0.9" stop-color="#000" stop-opacity="1"/><stop offset="0.925" stop-color="#000" stop-opacity="1"/><stop offset="0.95" stop-color="#000" stop-opacity="1"/><stop offset="0.975" stop-color="#000" stop-opacity="1"/><stop offset="1" stop-color="#000" stop-opacity="1"/></linearGradient>
<clipPath id="clipC1"><rect shape-rendering="crispEdges" x="1782.5" y="16" width="199.7" height="198.6"/></clipPath>
<radialGradient id="cII" cx="0.5" cy="0.5" r="0.5"><stop offset="0" stop-color="#fff" stop-opacity="0.92"/><stop offset="0.04" stop-color="#fff" stop-opacity="0.913"/><stop offset="0.08" stop-color="#fff" stop-opacity="0.896"/><stop offset="0.12" stop-color="#fff" stop-opacity="0.869"/><stop offset="0.16" stop-color="#fff" stop-opacity="0.816"/><stop offset="0.2" stop-color="#fff" stop-opacity="0.752"/><stop offset="0.24" stop-color="#fff" stop-opacity="0.672"/><stop offset="0.28" stop-color="#fff" stop-opacity="0.587"/><stop offset="0.32" stop-color="#fff" stop-opacity="0.504"/><stop offset="0.36" stop-color="#fff" stop-opacity="0.422"/><stop offset="0.4" stop-color="#fff" stop-opacity="0.351"/><stop offset="0.44" stop-color="#fff" stop-opacity="0.285"/><stop offset="0.48" stop-color="#fff" stop-opacity="0.226"/><stop offset="0.52" stop-color="#fff" stop-opacity="0.177"/><stop offset="0.56" stop-color="#fff" stop-opacity="0.137"/><stop offset="0.6" stop-color="#fff" stop-opacity="0.101"/><stop offset="0.64" stop-color="#fff" stop-opacity="0.073"/><stop offset="0.68" stop-color="#fff" stop-opacity="0.055"/><stop offset="0.72" stop-color="#fff" stop-opacity="0.041"/><stop offset="0.76" stop-color="#fff" stop-opacity="0.029"/><stop offset="0.8" stop-color="#fff" stop-opacity="0.02"/><stop offset="0.84" stop-color="#fff" stop-opacity="0.014"/><stop offset="0.88" stop-color="#fff" stop-opacity="0.009"/><stop offset="0.92" stop-color="#fff" stop-opacity="0.004"/><stop offset="0.96" stop-color="#fff" stop-opacity="0.001"/><stop offset="1" stop-color="#fff" stop-opacity="0"/></radialGradient>
<radialGradient id="cIIh" cx="0.5" cy="0.5" r="0.5"><stop offset="0" stop-color="#fff" stop-opacity="0.1"/><stop offset="0.0909" stop-color="#fff" stop-opacity="0.097"/><stop offset="0.1818" stop-color="#fff" stop-opacity="0.09"/><stop offset="0.2727" stop-color="#fff" stop-opacity="0.078"/><stop offset="0.3636" stop-color="#fff" stop-opacity="0.065"/><stop offset="0.4545" stop-color="#fff" stop-opacity="0.051"/><stop offset="0.5455" stop-color="#fff" stop-opacity="0.037"/><stop offset="0.6364" stop-color="#fff" stop-opacity="0.026"/><stop offset="0.7273" stop-color="#fff" stop-opacity="0.017"/><stop offset="0.8182" stop-color="#fff" stop-opacity="0.011"/><stop offset="0.9091" stop-color="#fff" stop-opacity="0.007"/><stop offset="1" stop-color="#fff" stop-opacity="0"/></radialGradient>
<clipPath id="clipC2"><rect x="1782.5" y="231" width="199.7" height="199.5"/></clipPath>
<radialGradient id="cIII" cx="0.5" cy="0.5" r="0.5"><stop offset="0" stop-color="#fff" stop-opacity="0.93"/><stop offset="0.04" stop-color="#fff" stop-opacity="0.925"/><stop offset="0.08" stop-color="#fff" stop-opacity="0.91"/><stop offset="0.12" stop-color="#fff" stop-opacity="0.891"/><stop offset="0.16" stop-color="#fff" stop-opacity="0.854"/><stop offset="0.2" stop-color="#fff" stop-opacity="0.798"/><stop offset="0.24" stop-color="#fff" stop-opacity="0.732"/><stop offset="0.28" stop-color="#fff" stop-opacity="0.649"/><stop offset="0.32" stop-color="#fff" stop-opacity="0.564"/><stop offset="0.36" stop-color="#fff" stop-opacity="0.478"/><stop offset="0.4" stop-color="#fff" stop-opacity="0.398"/><stop offset="0.44" stop-color="#fff" stop-opacity="0.324"/><stop offset="0.48" stop-color="#fff" stop-opacity="0.26"/><stop offset="0.52" stop-color="#fff" stop-opacity="0.201"/><stop offset="0.56" stop-color="#fff" stop-opacity="0.154"/><stop offset="0.6" stop-color="#fff" stop-opacity="0.114"/><stop offset="0.64" stop-color="#fff" stop-opacity="0.082"/><stop offset="0.68" stop-color="#fff" stop-opacity="0.055"/><stop offset="0.72" stop-color="#fff" stop-opacity="0.037"/><stop offset="0.76" stop-color="#fff" stop-opacity="0.026"/><stop offset="0.8" stop-color="#fff" stop-opacity="0.017"/><stop offset="0.84" stop-color="#fff" stop-opacity="0.011"/><stop offset="0.88" stop-color="#fff" stop-opacity="0.007"/><stop offset="0.92" stop-color="#fff" stop-opacity="0.003"/><stop offset="0.96" stop-color="#fff" stop-opacity="0.001"/><stop offset="1" stop-color="#fff" stop-opacity="0"/></radialGradient>
</defs>
<!-- panel a curves -->
<defs><path id="cy" d="M135.5 343.8l0.5-10 0.5-10.9 0.5-10.9 0.5-10.4 0.5-9.5 0.5-8.2 0.5-6.5 0.5-4.8 0.5-2.7 0.5-0.6 0.5 1.6 0.5 3.6 0.5 5.7 0.5 7.4 0.5 9 0.5 10.2 0.5 10.9 0.5 11.2 0.5 10.8 0.5 6.9 0.5-9.6 0.5-11.2 0.5-11.5 0.5-11.1 0.5-10.3 0.5-9.1 0.5-7.5 0.5-5.7 0.5-3.6 0.5-1.4 0.5 0.8 0.5 3.1 0.5 5.2 0.5 7.2 0.5 8.9 0.5 10.2 0.5 11.3 0.5 11.7 0.5 11.6 0.5 10.3 0.5-5.6 0.5-11.4 0.5-11.9 0.5-11.9 0.5-11.1 0.5-10 0.5-8.5 0.5-6.6 0.5-4.6 0.5-2.2 0.5 0 0.5 2.5 0.5 4.7 0.5 6.8 0.5 8.7 0.5 10.3 0.5 11.5 0.5 12.1 0.5 12.2 0.5 11.5 0.5 1.3 0.5-11.4 0.5-12.3 0.5-12.5 0.5-11.9 0.5-10.9 0.5-9.5 0.5-7.6 0.5-5.5 0.5-3.2 0.5-0.7 0.5 1.7 0.5 4.1 0.5 6.4 0.5 8.4 0.5 10.2 0.5 11.6 0.5 12.4 0.5 12.8 0.5 12.4 0.5 8.7 0.5-10.9 0.5-12.7 0.5-13.1 0.5-12.7 0.5-11.8 0.5-10.4 0.5-8.7 0.5-6.5 0.5-4.2 0.5-1.8 0.5 0.9 0.5 3.4 0.5 5.9 0.5 8 0.5 10.1 0.5 11.6 0.5 12.8 0.5 13.3 0.5 13.3 0.5 11.8 0.5-5.5 0.5-12.9 0.5-13.7 0.5-13.5 0.5-12.8 0.5-11.6 0.5-9.8 0.5-7.7 0.5-5.3 0.5-2.8 0.5 0 0.5 2.7 0.5 5.3 0.5 7.8 0.5 10 0.5 11.8 0.5 13.1 0.5 13.8 0.5 13.8 0.5 12.5 0.5 2.2 0.5-12.2 0.5-13.7 0.5-14.1 0.5-13.6 0.5-12.6 0.5-11.1 0.5-8.9 0.5-6.6 0.5-3.9 0.5-1 0.5 1.9 0.5 4.8 0.5 7.5 0.5 9.9 0.5 11.9 0.5 13.2 0.5 14 0.5 13.9 0.5 12.6 0.5 8.2 0.5-9.6 0.5-12.9 0.5-14 0.5-14.2 0.5-13.5 0.5-12.3 0.5-10.4 0.5-8 0.5-5.2 0.5-2.2 0.5 1 0.5 4.2 0.5 7.1 0.5 9.7 0.5 11.9 0.5 13.4 0.5 14.1 0.5 13.9 0.5 12.5 0.5 9.4 0.5-3.4 0.5-11.2 0.5-13.4 0.5-14.3 0.5-14.3 0.5-13.4 0.5-11.8 0.5-9.4 0.5-6.7 0.5-3.4 0.5-0.2 0.5 3.3 0.5 6.5 0.5 9.3 0.5 11.8 0.5 13.4 0.5 14.4 0.5 14.4 0.5 13.3 0.5 10.6 0.5 2.1 0.5-9.6 0.5-12.9 0.5-14.5 0.5-14.9 0.5-14.4 0.5-13 0.5-10.8 0.5-8.1 0.5-4.8 0.5-1.4 0.5 2.3 0.5 5.7 0.5 8.9 0.5 11.5 0.5 13.6 0.5 14.7 0.5 14.9 0.5 14.1 0.5 11.6 0.5 6.8 0.5-7.2 0.5-11.9 0.5-14.2 0.5-15.2 0.5-15.1 0.5-14 0.5-12.1 0.5-9.4 0.5-6.2 0.5-2.7 0.5 1.1 0.5 4.8 0.5 8.3 0.5 11.1 0.5 13.5 0.5 14.8 0.5 15.2 0.5 14.4 0.5 12.4 0.5 8.3 0.5-2.4 0.5-10.1 0.5-13.3 0.5-14.9 0.5-15.4 0.5-14.8 0.5-13.2 0.5-10.7 0.5-7.7 0.5-4 0.5-0.2 0.5 3.7 0.5 7.4 0.5 10.6 0.5 13.1 0.5 14.8 0.5 15.2 0.5 14.7 0.5 12.8 0.5 9.2 0.5 1.9 0.5-7.7 0.5-11.8 0.5-14.2 0.5-15.4 0.5-15.4 0.5-14.2 0.5-12 0.5-9.2 0.5-5.5 0.5-1.6 0.5 2.4 0.5 6.4 0.5 9.8 0.5 12.7 0.5 14.5 0.5 15.4 0.5 14.9 0.5 13.2 0.5 10 0.5 4.9 0.5-4.8 0.5-10 0.5-13.3 0.5-15.1 0.5-15.8 0.5-15.1 0.5-13.4 0.5-10.7 0.5-7.2 0.5-3.2 0.5 1.1 0.5 5.2 0.5 9.1 0.5 12.1 0.5 14.5 0.5 15.5 0.5 15.3 0.5 13.9 0.5 10.9 0.5 6.5 0.5-1.3 0.5-8.1 0.5-12.1 0.5-14.7 0.5-15.9 0.5-15.9 0.5-14.6 0.5-12.2 0.5-8.9 0.5-4.8 0.5-0.4 0.5 3.9 0.5 8.2 0.5 11.6 0.5 14.3 0.5 15.7 0.5 15.9 0.5 14.7 0.5 12 0.5 8 0.5 1.8 0.5-6 0.5-10.8 0.5-14 0.5-16 0.5-16.5 0.5-15.7 0.5-13.6 0.5-10.5 0.5-6.6 0.5-2 0.5 2.5 0.5 7.1 0.5 10.9 0.5 13.9 0.5 15.9 0.5 16.4 0.5 15.4 0.5 13.2 0.5 9.4 0.5 4.1 0.5-3.6 0.5-9.1 0.5-13 0.5-15.6 0.5-16.8 0.5-16.5 0.5-14.9 0.5-12.1 0.5-8.3 0.5-3.8 0.5 1.1 0.5 5.8 0.5 10 0.5 13.5 0.5 15.8 0.5 16.6 0.5 16 0.5 14 0.5 10.4 0.5 5.6 0.5-0.9 0.5-6.9 0.5-11.4 0.5-14.6 0.5-16.6 0.5-16.9 0.5-15.9 0.5-13.5 0.5-10 0.5-5.5 0.5-0.6 0.5 4.4 0.5 8.9 0.5 12.8 0.5 15.3 0.5 16.7 0.5 16.3 0.5 14.5 0.5 11.2 0.5 6.8 0.5 1.3 0.5-4.5 0.5-9.4 0.5-13.2 0.5-15.8 0.5-17 0.5-16.6 0.5-14.7 0.5-11.5 0.5-7.3 0.5-2.4 0.5 2.7 0.5 7.6 0.5 11.8 0.5 14.8 0.5 16.5 0.5 16.5 0.5 15 0.5 12 0.5 7.8 0.5 2.9 0.5-2.4 0.5-7.3 0.5-11.6 0.5-14.8 0.5-16.7 0.5-17 0.5-15.6 0.5-12.9 0.5-9 0.5-4.2 0.5 1 0.5 6 0.5 10.4 0.5 13.8 0.5 16 0.5 16.5 0.5 15.4 0.5 13 0.5 9.2 0.5 4.5 0.5-0.5 0.5-5.5 0.5-10.2 0.5-13.7 0.5-16 0.5-16.8 0.5-16.1 0.5-13.9 0.5-10.3 0.5-5.8 0.5-0.7 0.5 4.2 0.5 8.9 0.5 12.7 0.5 15.2 0.5 16.2 0.5 15.8 0.5 13.8 0.5 10.5 0.5 6.1 0.5 1.2 0.5-3.8 0.5-8.4 0.5-12.4 0.5-15.1 0.5-16.5 0.5-16.2 0.5-14.4 0.5-11.4 0.5-7.3 0.5-2.5 0.5 2.6 0.5 7.2 0.5 11.3 0.5 14.1 0.5 15.8 0.5 15.8 0.5 14.3 0.5 11.5 0.5 7.6 0.5 2.9 0.5-2 0.5-6.8 0.5-10.9 0.5-14 0.5-15.8 0.5-16.1 0.5-15 0.5-12.3 0.5-8.7 0.5-4.1 0.5 0.7 0.5 5.5 0.5 9.7 0.5 12.9 0.5 15 0.5 15.6 0.5 14.7 0.5 12.5 0.5 9 0.5 4.8 0.5-0.1 0.5-4.8 0.5-9.1 0.5-12.7 0.5-15 0.5-16 0.5-15.4 0.5-13.5 0.5-10.3 0.5-6.2 0.5-1.5 0.5 3.3 0.5 7.7 0.5 11.4 0.5 14 0.5 15.3 0.5 15 0.5 13.3 0.5 10.4 0.5 6.5 0.5 1.9 0.5-2.8 0.5-7.2 0.5-11 0.5-13.8 0.5-15.2 0.5-15.3 0.5-13.9 0.5-11.3 0.5-7.6 0.5-3.4 0.5 1.2 0.5 5.6 0.5 9.3 0.5 12.2 0.5 13.8 0.5 14.2 0.5 13.1 0.5 10.9 0.5 7.6 0.5 3.7 0.5-0.7 0.5-4.9 0.5-8.6 0.5-11.6 0.5-13.4 0.5-13.9 0.5-13.3 0.5-11.4 0.5-8.5 0.5-4.8 0.5-0.8 0.5 3.3 0.5 7 0.5 10 0.5 12 0.5 12.8 0.5 12.5 0.5 10.9 0.5 8.3 0.5 4.9 0.5 1.2 0.5-2.7 0.5-6.3 0.5-9.3 0.5-11.5 0.5-12.5 0.5-12.5 0.5-11.1 0.5-9 0.5-5.9 0.5-2.3 0.5 1.3 0.5 4.9 0.5 7.9 0.5 10.1 0.5 11.3 0.5 11.5 0.5 10.6 0.5 8.7 0.5 5.9 0.5 2.7 0.5-0.9 0.5-4.2 0.5-7.2 0.5-9.6 0.5-10.9 0.5-11.3 0.5-10.7 0.5-9 0.5-6.6 0.5-3.6 0.5-0.3 0.5 3 0.5 5.8 0.5 8.1 0.5 9.6 0.5 10.3 0.5 9.9 0.5 8.7 0.5 6.7 0.5 4 0.5 1.1 0.5-2 0.5-4.8 0.5-7.2 0.5-9 0.5-9.8 0.5-9.9 0.5-9 0.5-7.3 0.5-5.1 0.5-2.4 0.5 0.6 0.5 3.3 0.5 5.7 0.5 7.6 0.5 8.7 0.5 9 0.5 8.5 0.5 7.2 0.5 5.3 0.5 2.8 0.5 0.2 0.5-2.5 0.5-4.9 0.5-6.8 0.5-8.1 0.5-8.6 0.5-8.5 0.5-7.5 0.5-5.8 0.5-3.8 0.5-1.4 0.5 1.1 0.5 3.4 0.5 5.4 0.5 6.7 0.5 7.5 0.5 7.6 0.5 6.8 0.5 5.7 0.5 3.8 0.5 1.7 0.5-0.5 0.5-2.6 0.5-4.6 0.5-6 0.5-6.9 0.5-7.2 0.5-6.8 0.5-5.9 0.5-4.4 0.5-2.6 0.5-0.6 0.5 1.5 0.5 3.2 0.5 4.7 0.5 5.7 0.5 6.2 0.5 6 0.5 5.4 0.5 4.2 0.5 2.7 0.5 0.9 0.5-0.9 0.5-2.6 0.5-4 0.5-5.1 0.5-5.6 0.5-5.8 0.5-5.2 0.5-4.4 0.5-3.1 0.5-1.6 0.5 0 0.5 1.5 0.5 2.9 0.5 4 0.5 4.6 0.5 4.8 0.5 4.6 0.5 3.9 0.5 3 0.5 1.7 0.5 0.3 0.5-1.1 0.5-2.3 0.5-3.3 0.5-3.9 0.5-4.3 0.5-4.2 0.5-3.8 0.5-3 0.5-1.9 0.5-0.8 0.5 0.4 0.5 1.5 0.5 2.4 0.5 3.2 0.5 3.5 0.5 3.5 0.5 3.3 0.5 2.8 0.5 1.9 0.5 1 0.5 0 0.5-1 0.5-1.7 0.5-2.4 0.5-2.8 0.5-2.9 0.5-2.8 0.5-2.3 0.5-1.7 0.5-1 0.5-0.2 0.5 0.6 0.5 1.3 0.5 1.8 0.5 2.2 0.5 2.4 0.5 2.3 0.5 2.1 0.5 1.6 0.5 1.1 0.5 0.4 0.5-0.1 0.5-0.7 0.5-1.1 0.5-1.5 0.5-1.5 0.5-1.6 0.5-1.4 0.5-1.1 0.5-0.8 0.5-0.3 0.5 0.1 0.5 0.6 0.5 0.8 0.5 1.1 0.5 1.3 0.5 1.3 0.5 1.2 0.5 1 0.5 0.8 0.5 0.5 0.5 0.2 0.5-0.2 0.5-0.4 0.5-0.6 0.5-0.8 0.5-0.9 0.5-0.9 0.5-0.9 0.5-0.7 0.5-0.5 0.5-0.2 0.5 0 0.5 0.3 0.5 0.6 0.5 0.8 0.5 0.9 0.5 1.1 0.5 1.1 0.5 1 0.5 0.9 0.5 0.6 0.5 0.3 0.5 0 0.5-0.4 0.5-0.7 0.5-0.9 0.5-1.1 0.5-1.2 0.5-1.1 0.5-1 0.5-0.6 0.5-0.3 0.5 0.3 0.5 0.7 0.5 1.1 0.5 1.6 0.5 1.8 0.5 2 0.5 2 0.5 1.8 0.5 1.4 0.5 0.9 0.5 0.4 0.5-0.3 0.5-0.9 0.5-1.5 0.5-1.8 0.5-2.1 0.5-2.1 0.5-1.8 0.5-1.4 0.5-0.8 0.5 0.1 0.5 0.8 0.5 1.7 0.5 2.4 0.5 3 0.5 3.3 0.5 3.3 0.5 3.1 0.5 2.6 0.5 1.9 0.5 0.9 0.5 0 0.5-1.1 0.5-1.9 0.5-2.7 0.5-3 0.5-3.2 0.5-3 0.5-2.5 0.5-1.6 0.5-0.6 0.5 0.6 0.5 1.7 0.5 2.8 0.5 3.7 0.5 4.2 0.5 4.4 0.5 4.3 0.5 3.8 0.5 2.8 0.5 1.8 0.5 0.4 0.5-0.9 0.5-2.1 0.5-3.2 0.5-4 0.5-4.4 0.5-4.2 0.5-3.8 0.5-2.9 0.5-1.7 0.5-0.2 0.5 1.3 0.5 2.8 0.5 4.1 0.5 5 0.5 5.6 0.5 5.6 0.5 5.1 0.5 4.3 0.5 2.9 0.5 1.4 0.5-0.4 0.5-2.1 0.5-3.6 0.5-4.7 0.5-5.5 0.5-5.6 0.5-5.3 0.5-4.3 0.5-3 0.5-1.3 0.5 0.5 0.5 2.5 0.5 4.1 0.5 5.6 0.5 6.5 0.5 6.8 0.5 6.5 0.5 5.7 0.5 4.3 0.5 2.6 0.5 0.5 0.5-1.5 0.5-3.5 0.5-5.1 0.5-6.2 0.5-6.7 0.5-6.6 0.5-5.8 0.5-4.5 0.5-2.7 0.5-0.6 0.5 1.7 0.5 3.8 0.5 5.6 0.5 7 0.5 7.7 0.5 7.7 0.5 7.2 0.5 5.8 0.5 3.9 0.5 1.8 0.5-0.6 0.5-2.9 0.5-4.9 0.5-6.5 0.5-7.5 0.5-7.7 0.5-7.2 0.5-6 0.5-4.3 0.5-1.9 0.5 0.5 0.5 2.9 0.5 5.2 0.5 7.1 0.5 8.2 0.5 8.7 0.5 8.3 0.5 7.3 0.5 5.5 0.5 3.3 0.5 0.7 0.5-1.9 0.5-4.4 0.5-6.5 0.5-7.9 0.5-8.6 0.5-8.4 0.5-7.6 0.5-5.9 0.5-3.6 0.5-1 0.5 1.7 0.5 4.4 0.5 6.7 0.5 8.4 0.5 9.4 0.5 9.5 0.5 8.7 0.5 7.2 0.5 4.9 0.5 2.3 0.5-0.6 0.5-3.5 0.5-5.9 0.5-8 0.5-9.1 0.5-9.5 0.5-9 0.5-7.5 0.5-5.4 0.5-2.7 0.5 0.3 0.5 3.3 0.5 6 0.5 8.2 0.5 9.8 0.5 10.3 0.5 10 0.5 8.8 0.5 6.7 0.5 4.1 0.5 1 0.5-2.2 0.5-5 0.5-7.5 0.5-9.3 0.5-10.1 0.5-10.1 0.5-9 0.5-7.1 0.5-4.4 0.5-1.5 0.5 1.9 0.5 4.9 0.5 7.6 0.5 9.6 0.5 10.8 0.5 10.9 0.5 10.2 0.5 8.4 0.5 5.9 0.5 2.8 0.5-0.5 0.5-3.7 0.5-6.6 0.5-8.9 0.5-10.4 0.5-10.8 0.5-10.3 0.5-8.7 0.5-6.3 0.5-3.3 0.5 0 0.5 3.5 0.5 6.6 0.5 9.1 0.5 10.8 0.5 11.6 0.5 11.3 0.5 10 0.5 7.8 0.5 4.8 0.5 1.4 0.5-2.1 0.5-5.4 0.5-8.2 0.5-10.3 0.5-11.3 0.5-11.3 0.5-10.2 0.5-8.1 0.5-5.3 0.5-1.9 0.5 1.7 0.5 5.2 0.5 8.2 0.5 10.6 0.5 11.9 0.5 12.2 0.5 11.5 0.5 9.5 0.5 6.8 0.5 3.4 0.5-0.2 0.5-3.9 0.5-7.1 0.5-9.8 0.5-11.4 0.5-12 0.5-11.5 0.5-9.9 0.5-7.2 0.5-4 0.5-0.3 0.5 3.5 0.5 7 0.5 9.8 0.5 11.8 0.5 12.7 0.5 12.5 0.5 11 0.5 8.7 0.5 5.5 0.5 1.8 0.5-2 0.5-5.7 0.5-8.8 0.5-11 0.5-12.3 0.5-12.3 0.5-11.3 0.5-9.1 0.5-6 0.5-2.4 0.5 1.5 0.5 5.2 0.5 8.5 0.5 10.9 0.5 12.5 0.5 13.1 0.5 12.4 0.5 10.6 0.5 7.7 0.5 4.2 0.5-0.4 0.5-4.8 0.5-8.4 0.5-10.9 0.5-12.5 0.5-12.8 0.5-11.9 0.5-9.9 0.5-7.1 0.5-3.6 0.5 0.2 0.5 4 0.5 7.3 0.5 10.2 0.5 12.1 0.5 13.1 0.5 12.9 0.5 11.6 0.5 9.3 0.5 5.9 0.5 1.1 0.5-4.5 0.5-8.2 0.5-10.9 0.5-12.5 0.5-12.8 0.5-12 0.5-10.3 0.5-7.6 0.5-4.4 0.5-0.9 0.5 2.9 0.5 6.2 0.5 9.2 0.5 11.4 0.5 12.7 0.5 13 0.5 12.3 0.5 10.6 0.5 7.7 0.5 3.2 0.5-3.9 0.5-8 0.5-10.8 0.5-12.3 0.5-12.8 0.5-12.1 0.5-10.5 0.5-8 0.5-5.1 0.5-1.7 0.5 1.8 0.5 5.1 0.5 8.1 0.5 10.5 0.5 12.1 0.5 12.9 0.5 12.6 0.5 11.5 0.5 9.2 0.5 5.4 0.5-2.5 0.5-7.8 0.5-10.6 0.5-12.1 0.5-12.5 0.5-12 0.5-10.5 0.5-8.4 0.5-5.5 0.5-2.5 0.5 0.9 0.5 4 0.5 6.9 0.5 9.4 0.5 11.3 0.5 12.3 0.5 12.7 0.5 11.9 0.5 10.4 0.5 7.3 0.5-0.2 0.5-7.5 0.5-10.3 0.5-11.8 0.5-12.3 0.5-11.8 0.5-10.5 0.5-8.5 0.5-5.9 0.5-3.1 0.5-0.1 0.5 3 0.5 5.7 0.5 8.3 0.5 10.2 0.5 11.7 0.5 12.3 0.5 12.1 0.5 11.1 0.5 9 0.5 2.9 0.5-7.1 0.5-10.1 0.5-11.6 0.5-12.1 0.5-11.5 0.5-10.4 0.5-8.6 0.5-6.3 0.5-3.7 0.5-0.8 0.5 2 0.5 4.7 0.5 7.1 0.5 9.2 0.5 10.8 0.5 11.8 0.5 12 0.5 11.6 0.5 10.2 0.5 6.8 0.5-6.5 0.5-10 0.5-11.5 0.5-11.8 0.5-11.4 0.5-10.3 0.5-8.6 0.5-6.5 0.5-4.1 0.5-1.5 0.5 1.1 0.5 3.7 0.5 6.1 0.5 8.2 0.5 9.8 0.5 11.1 0.5 11.7 0.5 11.8 0.5 10.9 0.5 8.9 0.5-3.4 0.5-9.9 0.5-11.3 0.5-11.7 0.5-11.2 0.5-10.1 0.5-8.6 0.5-6.7 0.5-4.5 0.5-2.1 0.5 0.3 0.5 2.9 0.5 5.1 0.5 7.1 0.5 9 0.5 10.3 0.5 11.2 0.5 11.6 0.5 11.3 0.5 10.1 0.5 1 0.5-9.8 0.5-11.1 0.5-11.4 0.5-11 0.5-10.1 0.5-8.6 0.5-6.9 0.5-4.8 0.5-2.6 0.5-0.2 0.5 2 0.5 4.2 0.5 6.3 0.5 8 0.5 9.5 0.5 10.6 0.5 11.3 0.5 11.3 0.5 10.7 0.5 6 0.5-9.5 0.5-10.9 0.5-11.2 0.5-10.8 0.5-9.9 0.5-8.6 0.5-7 0.5-5 0.5-3.1 0.5-0.8 0.5 1.3 0.5 3.4 0.5 5.5 0.5 7.2 0.5 8.7 0.5 10 0.5 10.7 0.5 11 0.5 10.7 0.5 9.3 0.5-7.2 0.5-10.4 0.5-10.8 0.5-10.6 0.5-9.8 0.5-8.6 0.5-7.1 0.5-5.4 0.5-3.5 0.5-1.4 0.5 0.7 0.5 2.8 0.5 4.7 0.5 6.5 0.5 8 0.5 9.3 0.5 10.1 0.5 10.6 0.5 10.4 0.5 9.6 0.5-2.2 0.5-9.8 0.5-10.4 0.5-10.3 0.5-9.7 0.5-8.7 0.5-7.3 0.5-5.7 0.5-3.8 0.5-2 0.5 0.1 0.5 2.1 0.5 4.1 0.5 5.8 0.5 7.3 0.5 8.7 0.5 9.6 0.5 10.1 0.5 10.2 0.5 9.6 0.5 2.6 0.5-9.1 0.5-10 0.5-10 0.5-9.6 0.5-8.6 0.5-7.5 0.5-5.9 0.5-4.2 0.5-2.4 0.5-0.4 0.5 1.5 0.5 3.4 0.5 5.2 0.5 6.7 0.5 8 0.5 9.1 0.5 9.7 0.5 9.8 0.5 9.5 0.5 6.8 0.5-8.1 0.5-9.5 0.5-9.6 0.5-9.3 0.5-8.6 0.5-7.5 0.5-6 0.5-4.5 0.5-2.7 0.5-0.9 0.5 0.9 0.5 2.8 0.5 4.6 0.5 6 0.5 7.4 0.5 8.4 0.5 9.1 0.5 9.4 0.5 9.2 0.5 8.1 0.5-4.6 0.5-8.8 0.5-9.2 0.5-9 0.5-8.4 0.5-7.4 0.5-6.2 0.5-4.7 0.5-3.1 0.5-1.3 0.5 0.4 0.5 2.2 0.5 3.9 0.5 5.3 0.5 6.8 0.5 7.7 0.5 8.6 0.5 8.9 0.5 8.9 0.5 8.2 0.5-0.4 0.5-8.2 0.5-8.8 0.5-8.7 0.5-8.2 0.5-7.4 0.5-6.3 0.5-4.9 0.5-3.4 0.5-1.8 0.5 0 0.5 1.6 0.5 3.2 0.5 4.8 0.5 6.1 0.5 7.2 0.5 8 0.5 8.5 0.5 8.6 0.5 8.2 0.5 3.5 0.5-7.5 0.5-8.3 0.5-8.5 0.5-8 0.5-7.4 0.5-6.3 0.5-5.1 0.5-3.7 0.5-2.2 0.5-0.5 0.5 1.2 0.5 2.7 0.5 4.2 0.5 5.5 0.5 6.7 0.5 7.5 0.5 8.1 0.5 8.2 0.5 8 0.5 6.7 0.5-6.3 0.5-7.9 0.5-8.1 0.5-7.9 0.5-7.3 0.5-6.3 0.5-5.3 0.5-3.9 0.5-2.4 0.5-1 0.5 0.7 0.5 2.2 0.5 3.6 0.5 5 0.5 6.1 0.5 7 0.5 7.6 0.5 7.9 0.5 7.8 0.5 7.1 0.5-2.7 0.5-7.4 0.5-7.8 0.5-7.7 0.5-7.2 0.5-6.4 0.5-5.4 0.5-4.2 0.5-2.8 0.5-1.3 0.5 0.2 0.5 1.7 0.5 3.1 0.5 4.5 0.5 5.6 0.5 6.5 0.5 7.3 0.5 7.6 0.5 7.6 0.5 7.1 0.5 0.9 0.5-6.9 0.5-7.5 0.5-7.5 0.5-7.2 0.5-6.4 0.5-5.5 0.5-4.4 0.5-3.1 0.5-1.6 0.5-0.3 0.5 1.3 0.5 2.6 0.5 4 0.5 5.1 0.5 6.1 0.5 6.9 0.5 7.3 0.5 7.5 0.5 7.1 0.5 4.1 0.5-6.4 0.5-7.2 0.5-7.3 0.5-7.1 0.5-6.4 0.5-5.6 0.5-4.6 0.5-3.3 0.5-1.9 0.5-0.6 0.5 0.9 0.5 2.3 0.5 3.5 0.5 4.8 0.5 5.7 0.5 6.5 0.5 7 0.5 7.3 0.5 7 0.5 5.9 0.5-5.2 0.5-6.9 0.5-7.1 0.5-6.9 0.5-6.3 0.5-5.6 0.5-4.6 0.5-3.5 0.5-2.2 0.5-0.8 0.5 0.5 0.5 1.9 0.5 3.2 0.5 4.4 0.5 5.3 0.5 6.2 0.5 6.7 0.5 6.9 0.5 6.8 0.5 6.1 0.5-2.5 0.5-6.5 0.5-6.8 0.5-6.7 0.5-6.3 0.5-5.5 0.5-4.7 0.5-3.6 0.5-2.3 0.5-1.1 0.5 0.2 0.5 1.6 0.5 2.8 0.5 3.9 0.5 5 0.5 5.7 0.5 6.4 0.5 6.6 0.5 6.6 0.5 6.1 0.5 0 0.5-6.1 0.5-6.5 0.5-6.4 0.5-6.1 0.5-5.5 0.5-4.7 0.5-3.7 0.5-2.5 0.5-1.3 0.5 0 0.5 1.2 0.5 2.4 0.5 3.6 0.5 4.5 0.5 5.4 0.5 5.9 0.5 6.3 0.5 6.4 0.5 6 0.5 2.3 0.5-5.5 0.5-6.2 0.5-6.3 0.5-5.9 0.5-5.4 0.5-4.7 0.5-3.7 0.5-2.7 0.5-1.5 0.5-0.3 0.5 0.9 0.5 2.1 0.5 3.2 0.5 4.1 0.5 5 0.5 5.6 0.5 5.9 0.5 6.2 0.5 5.8 0.5 4.4 0.5-5 0.5-5.9 0.5-6 0.5-5.7 0.5-5.4 0.5-4.6 0.5-3.8 0.5-2.8 0.5-1.7 0.5-0.6 0.5 0.6 0.5 1.8 0.5 2.8 0.5 3.8 0.5 4.6 0.5 5.2 0.5 5.7 0.5 5.9 0.5 5.7 0.5 4.9 0.5-3.2 0.5-5.5 0.5-5.7 0.5-5.6 0.5-5.2 0.5-4.7 0.5-3.8 0.5-3 0.5-1.9 0.5-0.8 0.5 0.3 0.5 1.5 0.5 2.5 0.5 3.5 0.5 4.3 0.5 5 0.5 5.4 0.5 5.5 0.5 5.4 0.5 4.5 0.5-1 0.5-4.7 0.5-5.3 0.5-5.3 0.5-5.1 0.5-4.7 0.5-4 0.5-3.1 0.5-2.1 0.5-1.1 0.5 0.1 0.5 1.2 0.5 2.3 0.5 3.2 0.5 4.1 0.5 4.7 0.5 5.1 0.5 5.2 0.5 4.8 0.5 4.1 0.5 0.6 0.5-3.8 0.5-4.6 0.5-4.9 0.5-5 0.5-4.6 0.5-4.1 0.5-3.3 0.5-2.3 0.5-1.4 0.5-0.2 0.5 1 0.5 2 0.5 3.1 0.5 3.8 0.5 4.5 0.5 4.8 0.5 4.8 0.5 4.5 0.5 3.6 0.5 1.6 0.5-2.7 0.5-4 0.5-4.5 0.5-4.7 0.5-4.5 0.5-4.1 0.5-3.5 0.5-2.6 0.5-1.5 0.5-0.5 0.5 0.7 0.5 1.8 0.5 2.8 0.5 3.6 0.5 4.2 0.5 4.5 0.5 4.6 0.5 4.3 0.5 3.5 0.5 2 0.5-1.8 0.5-3.3 0.5-4.1 0.5-4.5 0.5-4.4 0.5-4.2 0.5-3.5 0.5-2.7 0.5-1.8 0.5-0.7 0.5 0.4 0.5 1.5 0.5 2.6 0.5 3.3 0.5 4 0.5 4.4 0.5 4.4 0.5 4.1 0.5 3.4 0.5 2.2 0.5-0.8 0.5-2.8 0.5-3.8 0.5-4.2 0.5-4.3 0.5-4.1 0.5-3.6 0.5-2.9 0.5-2 0.5-0.9 0.5 0.2 0.5 1.2 0.5 2.3 0.5 3.1 0.5 3.8 0.5 4.2 0.5 4.2 0.5 4 0.5 3.4 0.5 2.4 0.5-0.1 0.5-2.3 0.5-3.4 0.5-3.9 0.5-4.2 0.5-4 0.5-3.7 0.5-3 0.5-2.1 0.5-1.2 0.5-0.1 0.5 1 0.5 2.1 0.5 2.9 0.5 3.5 0.5 4 0.5 4.1 0.5 4 0.5 3.3 0.5 2.4 0.5 0.6 0.5-1.8 0.5-3 0.5-3.7 0.5-3.9 0.5-4 0.5-3.7 0.5-3.1 0.5-2.3 0.5-1.4 0.5-0.3 0.5 0.8 0.5 1.7 0.5 2.7 0.5 3.4 0.5 3.8 0.5 4 0.5 3.8 0.5 3.3 0.5 2.5 0.5 1.1 0.5-1.3 0.5-2.6 0.5-3.4 0.5-3.8 0.5-3.9 0.5-3.7 0.5-3.2 0.5-2.4 0.5-1.6 0.5-0.5 0.5 0.5 0.5 1.5 0.5 2.5 0.5 3.1 0.5 3.7 0.5 3.8 0.5 3.8 0.5 3.3 0.5 2.6 0.5 1.4 0.5-0.8 0.5-2.3 0.5-3 0.5-3.6 0.5-3.8 0.5-3.7 0.5-3.2 0.5-2.6 0.5-1.8 0.5-0.7 0.5 0.2 0.5 1.3 0.5 2.2 0.5 3 0.5 3.5 0.5 3.7 0.5 3.7 0.5 3.3 0.5 2.7 0.5 1.5 0.5-0.2 0.5-1.9 0.5-2.8 0.5-3.4 0.5-3.6 0.5-3.6 0.5-3.3 0.5-2.7 0.5-1.9 0.5-1 0.5 0 0.5 1.1 0.5 2 0.5 2.7 0.5 3.3 0.5 3.6 0.5 3.7 0.5 3.3 0.5 2.6 0.5 1.7 0.5 0.2 0.5-1.4 0.5-2.5 0.5-3.2 0.5-3.5 0.5-3.5 0.5-3.3 0.5-2.8 0.5-2.1 0.5-1.1 0.5-0.2 0.5 0.8 0.5 1.8 0.5 2.5 0.5 3.2 0.5 3.4 0.5 3.5 0.5 3.3 0.5 2.7 0.5 1.8 0.5 0.6 0.5-1.1 0.5-2.2 0.5-2.8 0.5-3.4 0.5-3.4 0.5-3.3 0.5-2.8 0.5-2.2 0.5-1.4 0.5-0.3 0.5 0.5 0.5 1.6 0.5 2.3 0.5 3 0.5 3.3 0.5 3.4 0.5 3.2 0.5 2.6 0.5 1.9 0.5 0.8 0.5-0.7 0.5-1.8 0.5-2.5 0.5-3.1 0.5-3.3 0.5-3.2 0.5-2.9 0.5-2.3 0.5-1.5 0.5-0.6 0.5 0.3 0.5 1.3 0.5 2.2 0.5 2.7 0.5 3.2 0.5 3.3 0.5 3.1 0.5 2.6 0.5 2 0.5 0.9 0.5-0.3 0.5-1.4 0.5-2.3 0.5-2.9 0.5-3.1 0.5-3.2 0.5-2.9 0.5-2.3 0.5-1.7 0.5-0.8 0.5 0.2 0.5 1 0.5 1.9 0.5 2.6 0.5 3 0.5 3.2 0.5 3 0.5 2.6 0.5 2 0.5 1.1 0.5-0.1 0.5-1.1 0.5-1.9 0.5-2.6 0.5-3 0.5-3 0.5-2.9 0.5-2.5 0.5-1.8 0.5-0.9 0.5-0.1 0.5 0.9 0.5 1.6 0.5 2.4 0.5 2.8 0.5 3.1 0.5 2.9 0.5 2.6 0.5 2 0.5 1.2 0.5 0.2 0.5-0.8 0.5-1.7 0.5-2.3 0.5-2.8 0.5-2.9 0.5-2.9 0.5-2.5 0.5-1.9 0.5-1.1 0.5-0.3 0.5 0.7 0.5 1.4 0.5 2.2 0.5 2.7 0.5 2.9 0.5 2.9 0.5 2.5 0.5 2 0.5 1.3 0.5 0.4 0.5-0.6 0.5-1.3 0.5-2.1 0.5-2.6 0.5-2.8 0.5-2.8 0.5-2.5 0.5-2 0.5-1.3 0.5-0.4 0.5 0.4 0.5 1.2 0.5 2 0.5 2.5 0.5 2.8 0.5 2.7 0.5 2.6 0.5 2 0.5 1.3 0.5 0.6 0.5-0.3 0.5-1.2 0.5-1.8 0.5-2.4 0.5-2.6 0.5-2.7 0.5-2.5 0.5-2.1 0.5-1.4 0.5-0.6 0.5 0.2 0.5 1.1 0.5 1.7 0.5 2.3 0.5 2.6 0.5 2.7 0.5 2.4 0.5 2.1 0.5 1.5 0.5 0.7 0.5-0.2 0.5-0.9 0.5-1.6 0.5-2.2 0.5-2.5 0.5-2.6 0.5-2.4 0.5-2.1 0.5-1.4 0.5-0.8 0.5 0.1 0.5 0.8 0.5 1.5 0.5 2.1 0.5 2.4 0.5 2.5 0.5 2.5 0.5 2 0.5 1.5 0.5 0.9 0.5 0 0.5-0.7 0.5-1.4 0.5-2 0.5-2.3 0.5-2.4 0.5-2.4 0.5-2.1 0.5-1.5 0.5-0.8 0.5-0.2 0.5 0.6 0.5 1.3 0.5 1.9 0.5 2.2 0.5 2.4 0.5 2.4 0.5 2 0.5 1.6 0.5 0.9 0.5 0.2 0.5-0.5 0.5-1.2 0.5-1.7 0.5-2.2 0.5-2.3 0.5-2.3 0.5-2 0.5-1.5 0.5-1 0.5-0.3 0.5 0.5 0.5 1.1 0.5 1.6 0.5 2 0.5 2.3 0.5 2.2 0.5 2 0.5 1.6 0.5 1 0.5 0.3 0.5-0.3 0.5-1 0.5-1.5 0.5-2 0.5-2.1 0.5-2.2 0.5-1.9 0.5-1.6 0.5-1 0.5-0.4 0.5 0.3 0.5 0.8 0.5 1.5 0.5 1.8 0.5 2.1 0.5 2.1 0.5 1.9 0.5 1.6 0.5 1 0.5 0.5 0.5-0.2 0.5-0.8 0.5-1.3 0.5-1.7 0.5-2 0.5-2 0.5-1.9 0.5-1.6 0.5-1 0.5-0.6 0.5 0.1 0.5 0.8 0.5 1.2 0.5 1.6 0.5 1.9 0.5 2 0.5 1.9 0.5 1.5 0.5 1.1 0.5 0.6 0.5 0 0.5-0.6 0.5-1.2 0.5-1.5 0.5-1.8 0.5-1.9 0.5-1.9 0.5-1.5 0.5-1.1 0.5-0.6 0.5-0.1 0.5 0.6 0.5 1 0.5 1.5 0.5 1.8 0.5 1.8 0.5 1.8 0.5 1.6 0.5 1.1 0.5 0.7 0.5 0.1 0.5-0.5 0.5-0.9 0.5-1.4 0.5-1.7 0.5-1.8 0.5-1.8 0.5-1.5 0.5-1.2 0.5-0.7 0.5-0.1 0.5 0.4 0.5 0.9 0.5 1.3 0.5 1.6 0.5 1.8 0.5 1.8 0.5 1.5 0.5 1.2 0.5 0.8 0.5 0.2 0.5-0.3 0.5-0.9 0.5-1.2 0.5-1.6 0.5-1.7 0.5-1.7 0.5-1.5 0.5-1.2 0.5-0.8 0.5-0.3 0.5 0.3 0.5 0.7 0.5 1.2 0.5 1.5 0.5 1.7 0.5 1.7 0.5 1.6 0.5 1.2 0.5 0.8 0.5 0.4 0.5-0.2 0.5-0.7 0.5-1.1 0.5-1.5 0.5-1.6 0.5-1.7 0.5-1.5 0.5-1.2 0.5-0.9 0.5-0.4 0.5 0.2 0.5 0.6 0.5 1.1 0.5 1.4 0.5 1.6 0.5 1.6 0.5 1.6 0.5 1.2 0.5 0.9 0.5 0.4 0.5 0 0.5-0.6 0.5-1 0.5-1.3 0.5-1.6 0.5-1.6 0.5-1.5 0.5-1.3 0.5-0.9 0.5-0.4 0.5 0 0.5 0.5 0.5 0.9 0.5 1.3 0.5 1.6 0.5 1.5 0.5 1.6 0.5 1.2 0.5 1 0.5 0.5 0.5 0.1 0.5-0.5 0.5-0.9 0.5-1.2 0.5-1.4 0.5-1.6 0.5-1.5 0.5-1.3 0.5-0.9 0.5-0.6 0.5-0.1 0.5 0.4 0.5 0.8 0.5 1.2 0.5 1.4 0.5 1.6 0.5 1.5 0.5 1.3 0.5 1 0.5 0.6 0.5 0.1 0.5-0.3 0.5-0.8 0.5-1.1 0.5-1.4 0.5-1.4 0.5-1.5 0.5-1.3 0.5-1 0.5-0.7 0.5-0.1 0.5 0.2 0.5 0.7 0.5 1.1 0.5 1.4 0.5 1.4 0.5 1.5 0.5 1.3 0.5 1.1 0.5 0.6 0.5 0.3 0.5-0.2 0.5-0.7 0.5-1 0.5-1.3 0.5-1.4 0.5-1.5 0.5-1.3 0.5-1 0.5-0.7 0.5-0.3 0.5 0.2 0.5 0.6 0.5 0.9 0.5 1.3 0.5 1.4 0.5 1.4 0.5 1.3 0.5 1.1 0.5 0.8 0.5 0.3 0.5-0.1 0.5-0.6 0.5-0.9 0.5-1.2 0.5-1.3 0.5-1.4 0.5-1.4 0.5-1 0.5-0.8 0.5-0.4 0.5 0.1 0.5 0.5 0.5 0.9 0.5 1.1 0.5 1.4 0.5 1.4 0.5 1.3 0.5 1.1 0.5 0.8 0.5 0.4 0.5 0 0.5-0.4 0.5-0.8 0.5-1.2 0.5-1.3 0.5-1.3 0.5-1.3 0.5-1.2 0.5-0.8 0.5-0.4 0.5-0.1 0.5 0.4 0.5 0.8 0.5 1.1 0.5 1.3 0.5 1.3 0.5 1.3 0.5 1.2 0.5 0.8 0.5 0.5 0.5 0.1 0.5-0.3 0.5-0.8 0.5-1 0.5-1.2 0.5-1.4 0.5-1.3 0.5-1.1 0.5-0.9 0.5-0.5 0.5-0.1 0.5 0.3 0.5 0.7 0.5 0.9 0.5 1.3 0.5 1.3 0.5 1.3 0.5 1.1 0.5 0.9 0.5 0.6 0.5 0.2 0.5-0.3 0.5-0.6 0.5-0.9 0.5-1.2 0.5-1.3 0.5-1.3 0.5-1.1 0.5-1 0.5-0.5 0.5-0.2 0.5 0.1 0.5 0.6 0.5 0.9 0.5 1.2 0.5 1.2 0.5 1.3 0.5 1.2 0.5 0.9 0.5 0.7 0.5 0.2 0.5-0.1 0.5-0.6 0.5-0.8 0.5-1.1 0.5-1.3 0.5-1.2 0.5-1.2 0.5-0.9 0.5-0.7 0.5-0.3 0.5 0.1 0.5 0.5 0.5 0.8 0.5 1.1 0.5 1.2 0.5 1.3 0.5 1.2 0.5 0.9 0.5 0.7 0.5 0.4 0.5-0.1 0.5-0.4 0.5-0.8 0.5-1 0.5-1.2 0.5-1.3 0.5-1.1 0.5-1 0.5-0.7 0.5-0.4 0.5 0 0.5 0.4 0.5 0.7 0.5 1 0.5 1.2 0.5 1.3 0.5 1.1 0.5 1 0.5 0.8 0.5 0.4 0.5 0 0.5-0.3 0.5-0.7 0.5-1 0.5-1.1 0.5-1.2 0.5-1.2 0.5-1 0.5-0.8 0.5-0.4 0.5-0.1 0.5 0.3 0.5 0.7 0.5 0.9 0.5 1.1 0.5 1.2 0.5 1.2 0.5 1 0.5 0.8 0.5 0.5 0.5 0.1 0.5-0.2 0.5-0.6 0.5-0.9 0.5-1.1 0.5-1.2 0.5-1.2 0.5-1 0.5-0.8 0.5-0.5 0.5-0.2 0.5 0.2 0.5 0.6 0.5 0.9 0.5 1 0.5 1.2 0.5 1.2 0.5 1 0.5 0.9 0.5 0.5 0.5 0.2 0.5-0.2 0.5-0.5 0.5-0.8 0.5-1.1 0.5-1.1 0.5-1.2 0.5-1 0.5-0.9 0.5-0.5 0.5-0.3 0.5 0.2 0.5 0.5 0.5 0.7 0.5 1 0.5 1.2 0.5 1.1 0.5 1.1 0.5 0.9 0.5 0.6 0.5 0.2 0.5 0 0.5-0.5 0.5-0.7 0.5-1 0.5-1.1 0.5-1.2 0.5-1 0.5-0.9 0.5-0.6 0.5-0.3 0.5 0 0.5 0.4 0.5 0.7 0.5 1 0.5 1.1 0.5 1.1 0.5 1.1 0.5 0.9 0.5 0.6 0.5 0.4 0.5 0 0.5-0.4 0.5-0.7 0.5-0.9 0.5-1 0.5-1.2 0.5-1 0.5-1 0.5-0.6 0.5-0.4 0.5 0 0.5 0.3 0.5 0.6 0.5 0.9 0.5 1.1 0.5 1.1 0.5 1.1 0.5 0.9 0.5 0.7 0.5 0.4 0.5 0 0.5-0.2 0.5-0.6 0.5-0.9 0.5-1 0.5-1.1 0.5-1 0.5-1 0.5-0.7 0.5-0.4 0.5-0.1 0.5 0.2 0.5 0.6 0.5 0.8 0.5 1 0.5 1.1 0.5 1 0.5 1 0.5 0.7 0.5 0.5 0.5 0.1 0.5-0.2 0.5-0.5 0.5-0.8 0.5-1 0.5-1 0.5-1.1 0.5-0.9 0.5-0.8 0.5-0.5 0.5-0.1 0.5 0.1 0.5 0.5 0.5 0.7 0.5 1 0.5 1 0.5 1.1 0.5 0.9 0.5 0.8 0.5 0.5 0.5 0.2 0.5-0.1 0.5-0.5 0.5-0.7 0.5-0.9 0.5-1 0.5-1 0.5-1 0.5-0.8 0.5-0.5 0.5-0.2 0.5 0.1 0.5 0.4 0.5 0.6 0.5 0.9 0.5 1 0.5 1 0.5 1 0.5 0.8 0.5 0.5 0.5 0.3 0.5-0.1 0.5-0.3 0.5-0.7 0.5-0.8 0.5-1 0.5-1 0.5-0.9 0.5-0.8 0.5-0.6 0.5-0.3 0.5 0 0.5 0.3 0.5 0.6 0.5 0.8 0.5 1 0.5 1 0.5 0.9 0.5 0.8 0.5 0.6 0.5 0.3 0.5 0 0.5-0.3 0.5-0.5 0.5-0.8 0.5-0.9 0.5-1 0.5-0.9 0.5-0.8 0.5-0.6 0.5-0.4 0.5 0 0.5 0.2 0.5 0.5 0.5 0.8 0.5 0.9 0.5 0.9 0.5 0.9 0.5 0.9 0.5 0.6 0.5 0.3 0.5 0.1 0.5-0.2 0.5-0.5 0.5-0.7 0.5-0.8 0.5-1 0.5-0.9 0.5-0.8 0.5-0.6 0.5-0.4 0.5-0.2 0.5 0.2 0.5 0.5 0.5 0.6 0.5 0.9 0.5 0.9 0.5 0.9 0.5 0.8 0.5 0.6 0.5 0.5 0.5 0.1 0.5-0.1 0.5-0.5 0.5-0.6 0.5-0.8 0.5-0.9 0.5-0.9 0.5-0.8 0.5-0.7 0.5-0.4 0.5-0.2 0.5 0.1 0.5 0.4 0.5 0.6 0.5 0.8 0.5 0.9 0.5 0.8 0.5 0.8 0.5 0.7 0.5 0.5 0.5 0.2 0.5-0.1 0.5-0.4 0.5-0.5 0.5-0.8 0.5-0.8 0.5-0.9 0.5-0.8 0.5-0.7 0.5-0.4 0.5-0.3 0.5 0.1 0.5 0.3 0.5 0.5 0.5 0.7 0.5 0.9 0.5 0.8 0.5 0.8 0.5 0.7 0.5 0.5 0.5 0.2 0.5 0 0.5-0.3 0.5-0.5 0.5-0.7 0.5-0.8 0.5-0.8 0.5-0.8 0.5-0.7 0.5-0.5 0.5-0.2 0.5 0 0.5 0.2 0.5 0.5 0.5 0.6 0.5 0.8 0.5 0.8 0.5 0.8 0.5 0.7 0.5 0.5 0.5 0.3 0.5 0 0.5-0.2 0.5-0.4 0.5-0.7 0.5-0.7 0.5-0.8 0.5-0.8 0.5-0.7 0.5-0.5 0.5-0.3 0.5-0.1 0.5 0.2 0.5 0.4 0.5 0.6 0.5 0.7 0.5 0.8 0.5 0.8 0.5 0.7 0.5 0.5 0.5 0.3 0.5 0.1 0.5-0.1 0.5-0.4 0.5-0.6 0.5-0.7 0.5-0.7 0.5-0.8 0.5-0.6 0.5-0.6 0.5-0.3 0.5-0.1 0.5 0.1 0.5 0.3 0.5 0.6 0.5 0.6 0.5 0.8 0.5 0.7 0.5 0.7 0.5 0.5 0.5 0.4 0.5 0.1 0.5-0.1 0.5-0.3 0.5-0.5 0.5-0.6 0.5-0.7 0.5-0.8 0.5-0.6 0.5-0.6 0.5-0.3 0.5-0.2 0.5 0.1 0.5 0.2 0.5 0.5 0.5 0.6 0.5 0.7 0.5 0.7 0.5 0.7 0.5 0.5 0.5 0.4 0.5 0.2 0.5 0 0.5-0.3 0.5-0.4 0.5-0.6 0.5-0.7 0.5-0.7 0.5-0.6 0.5-0.6 0.5-0.4 0.5-0.2 0.5 0.1 0.5 0.2 0.5 0.4 0.5 0.5 0.5 0.7 0.5 0.7 0.5 0.6 0.5 0.6 0.5 0.4 0.5 0.2 0.5 0 0.5-0.2 0.5-0.4 0.5-0.5 0.5-0.6 0.5-0.7 0.5-0.6 0.5-0.6 0.5-0.4 0.5-0.2 0.5 0 0.5 0.1 0.5 0.4 0.5 0.5 0.5 0.6 0.5 0.6 0.5 0.6 0.5 0.6 0.5 0.4 0.5 0.2 0.5 0.1 0.5-0.1 0.5-0.4 0.5-0.4 0.5-0.6 0.5-0.6 0.5-0.6 0.5-0.6 0.5-0.4 0.5-0.2 0.5-0.1 0.5 0.1 0.5 0.3 0.5 0.4 0.5 0.6 0.5 0.6 0.5 0.6 0.5 0.5 0.5 0.4 0.5 0.3 0.5 0.1 0.5-0.1 0.5-0.3 0.5-0.4 0.5-0.5 0.5-0.6 0.5-0.6 0.5-0.5 0.5-0.4 0.5-0.3 0.5-0.1 0.5 0.1 0.5 0.2 0.5 0.4 0.5 0.5 0.5 0.6 0.5 0.5 0.5 0.6 0.5 0.4 0.5 0.3 0.5 0.1 0.5 0 0.5-0.3 0.5-0.3 0.5-0.5 0.5-0.6 0.5-0.5 0.5-0.5 0.5-0.5 0.5-0.3 0.5-0.1 0.5 0 0.5 0.2 0.5 0.4 0.5 0.4 0.5 0.6 0.5 0.5 0.5 0.5 0.5 0.4 0.5 0.3 0.5 0.2 0.5 0 0.5-0.2 0.5-0.3 0.5-0.4 0.5-0.6 0.5-0.5 0.5-0.5 0.5-0.4 0.5-0.3 0.5-0.2 0.5 0 0.5 0.1 0.5 0.3 0.5 0.4 0.5 0.5 0.5 0.6 0.5 0.5 0.5 0.4 0.5 0.3 0.5 0.2 0.5 0 0.5-0.1 0.5-0.3 0.5-0.4 0.5-0.5 0.5-0.5 0.5-0.5 0.5-0.4 0.5-0.3 0.5-0.2 0.5-0.1 0.5 0.2 0.5 0.2 0.5 0.4 0.5 0.4 0.5 0.5 0.5 0.5 0.5 0.4 0.5 0.4 0.5 0.2 0.5 0 0.5-0.1 0.5-0.2 0.5-0.3 0.5-0.5 0.5-0.5 0.5-0.4 0.5-0.5 0.5-0.3 0.5-0.2 0.5-0.1 0.5 0.1 0.5 0.2 0.5 0.3 0.5 0.4 0.5 0.5 0.5 0.5 0.5 0.4 0.5 0.3 0.5 0.3 0.5 0 0.5 0 0.5-0.2 0.5-0.3 0.5-0.4 0.5-0.5 0.5-0.4 0.5-0.5 0.5-0.3 0.5-0.2 0.5-0.1 0.5 0 0.5 0.2 0.5 0.3 0.5 0.4 0.5 0.4 0.5 0.4 0.5 0.5 0.5 0.3 0.5 0.2 0.5 0.2 0.5-0.1 0.5-0.1 0.5-0.3 0.5-0.4 0.5-0.4 0.5-0.4 0.5-0.4 0.5-0.4 0.5-0.2 0.5-0.2 0.5 0.1 0.5 0.1 0.5 0.3 0.5 0.3 0.5 0.4 0.5 0.4 0.5 0.4 0.5 0.4 0.5 0.2 0.5 0.2 0.5 0 0.5-0.2 0.5-0.2 0.5-0.3 0.5-0.4 0.5-0.4 0.5-0.4 0.5-0.4 0.5-0.2 0.5-0.2 0.5 0 0.5 0.1 0.5 0.2 0.5 0.3 0.5 0.4 0.5 0.4 0.5 0.4 0.5 0.3 0.5 0.3 0.5 0.2 0.5 0 0.5-0.1 0.5-0.2 0.5-0.3 0.5-0.4 0.5-0.4 0.5-0.3 0.5-0.4 0.5-0.2 0.5-0.2 0.5 0 0.5 0 0.5 0.2 0.5 0.3 0.5 0.3 0.5 0.4 0.5 0.4 0.5 0.3 0.5 0.3 0.5 0.2 0.5 0 0.5 0 0.5-0.2 0.5-0.3 0.5-0.3 0.5-0.4 0.5-0.3 0.5-0.4 0.5-0.3 0.5-0.1 0.5-0.1 0.5 0.1 0.5 0.1 0.5 0.3 0.5 0.3 0.5 0.3 0.5 0.4 0.5 0.3 0.5 0.3 0.5 0.2 0.5 0 0.5 0 0.5-0.1 0.5-0.3 0.5-0.3 0.5-0.3 0.5-0.4 0.5-0.3 0.5-0.3 0.5-0.2 0.5 0 0.5 0 0.5 0.1 0.5 0.2 0.5 0.3 0.5 0.3 0.5 0.4 0.5 0.3 0.5 0.3 0.5 0.2 0.5 0 0.5 0 0.5-0.1 0.5-0.2 0.5-0.2 0.5-0.4 0.5-0.3 0.5-0.3 0.5-0.3 0.5-0.2 0.5-0.1 0.5 0 0.5 0.1 0.5 0.2 0.5 0.2 0.5 0.4 0.5 0.3 0.5 0.3 0.5 0.2 0.5 0.2 0.5 0.2 0.5 0 0.5-0.1 0.5-0.2 0.5-0.2 0.5-0.3 0.5-0.3 0.5-0.3 0.5-0.3 0.5-0.2 0.5-0.1 0.5-0.1 0.5 0.1 0.5 0.2 0.5 0.2 0.5 0.3 0.5 0.3 0.5 0.3 0.5 0.2 0.5 0.2 0.5 0.2 0.5 0 0.5-0.1 0.5-0.1 0.5-0.2 0.5-0.3 0.5-0.3 0.5-0.3 0.5-0.3 0.5-0.2 0.5-0.1 0.5 0 0.5 0 0.5 0.1 0.5 0.2 0.5 0.3 0.5 0.3 0.5 0.3 0.5 0.2 0.5 0.2 0.5 0.2 0.5 0 0.5 0 0.5-0.1 0.5-0.2 0.5-0.3 0.5-0.3 0.5-0.2 0.5-0.3 0.5-0.2 0.5-0.1 0.5-0.1 0.5 0 0.5 0.1 0.5 0.2 0.5 0.2 0.5 0.3 0.5 0.3 0.5 0.2 0.5 0.2 0.5 0.2 0.5 0.1 0.5-0.1 0.5-0.1 0.5-0.1 0.5-0.3 0.5-0.2 0.5-0.3 0.5-0.2 0.5-0.3 0.5-0.1 0.5-0.1 0.5 0 0.5 0.1 0.5 0.2 0.5 0.2 0.5 0.2 0.5 0.3 0.5 0.2 0.5 0.2 0.5 0.2 0.5 0.1 0.5 0 0.5-0.1 0.5-0.1 0.5-0.2 0.5-0.3 0.5-0.3 0.5-0.2 0.5-0.2"/><path id="cg" d="M135.5 16.1l0.5 9.1 0.5 17.4 0.5 24.3 0.5 28.7 0.5 30.3 0.5 29.3 0.5 25.2 0.5 18.9 0.5 10.7 0.5 1.5 0.5-7.8 0.5-16.4 0.5-23.4 0.5-28.1 0.5-30.3 0.5-29.5 0.5-25.8 0.5-19.8 0.5-11.9 0.5-2.8 0.5 6.6 0.5 15.3 0.5 22.5 0.5 27.6 0.5 30.1 0.5 29.7 0.5 26.5 0.5 20.7 0.5 13.1 0.5 4.1 0.5-5.3 0.5-14.1 0.5-21.5 0.5-27 0.5-29.8 0.5-29.9 0.5-27 0.5-21.5 0.5-14.1 0.5-5.3 0.5 4 0.5 12.9 0.5 20.7 0.5 26.3 0.5 29.6 0.5 30 0.5 27.5 0.5 22.4 0.5 15.3 0.5 6.5 0.5-2.6 0.5-11.7 0.5-19.6 0.5-25.6 0.5-29.2 0.5-29.9 0.5-27.9 0.5-23.2 0.5-16.2 0.5-7.7 0.5 1.5 0.5 10.5 0.5 18.6 0.5 24.9 0.5 28.9 0.5 30 0.5 28.3 0.5 24 0.5 17.3 0.5 9.1 0.5-0.2 0.5-9.2 0.5-17.5 0.5-24 0.5-28.3 0.5-29.9 0.5-28.6 0.5-24.6 0.5-18.2 0.5-10.1 0.5-1.1 0.5 8.1 0.5 16.5 0.5 23.3 0.5 28 0.5 29.8 0.5 29 0.5 25.4 0.5 19.2 0.5 11.4 0.5 2.5 0.5-6.8 0.5-15.3 0.5-22.3 0.5-27.3 0.5-29.7 0.5-29.1 0.5-25.8 0.5-20.1 0.5-12.4 0.5-3.6 0.5 5.6 0.5 14.3 0.5 21.6 0.5 26.8 0.5 29.6 0.5 29.4 0.5 26.5 0.5 21.2 0.5 13.6 0.5 5 0.5-4.2 0.5-13.1 0.5-20.5 0.5-26.1 0.5-29.2 0.5-29.5 0.5-26.9 0.5-21.8 0.5-14.7 0.5-6 0.5 3.1 0.5 12 0.5 19.7 0.5 25.6 0.5 29.1 0.5 29.7 0.5 27.6 0.5 22.8 0.5 15.8 0.5 7.4 0.5-1.7 0.5-10.6 0.5-18.6 0.5-24.8 0.5-28.5 0.5-29.7 0.5-27.8 0.5-23.4 0.5-16.7 0.5-8.5 0.5 0.6 0.5 9.7 0.5 17.7 0.5 24.2 0.5 28.3 0.5 29.8 0.5 28.4 0.5 24.3 0.5 17.9 0.5 9.8 0.5 0.8 0.5-8.2 0.5-16.6 0.5-23.2 0.5-27.6 0.5-29.5 0.5-28.5 0.5-24.8 0.5-18.7 0.5-10.8 0.5-1.9 0.5 7.2 0.5 15.7 0.5 22.6 0.5 27.3 0.5 29.6 0.5 29 0.5 25.6 0.5 19.8 0.5 12.2 0.5 3.3 0.5-5.8 0.5-14.3 0.5-21.5 0.5-26.6 0.5-29.2 0.5-28.9 0.5-26 0.5-20.5 0.5-13 0.5-4.4 0.5 4.8 0.5 13.4 0.5 20.9 0.5 26.2 0.5 29.2 0.5 29.4 0.5 26.7 0.5 21.6 0.5 14.4 0.5 5.8 0.5-3.3 0.5-12 0.5-19.6 0.5-25.4 0.5-28.7 0.5-29.2 0.5-26.9 0.5-22.2 0.5-15.2 0.5-6.7 0.5 2.2 0.5 11.2 0.5 18.9 0.5 25 0.5 28.6 0.5 29.5 0.5 27.7 0.5 23.2 0.5 16.5 0.5 8.3 0.5-0.8 0.5-9.6 0.5-17.7 0.5-24 0.5-27.9 0.5-29.3 0.5-27.8 0.5-23.6 0.5-17.2 0.5-9.2 0.5-0.2 0.5 8.8 0.5 16.9 0.5 23.5 0.5 27.9 0.5 29.5 0.5 28.4 0.5 24.7 0.5 18.5 0.5 10.6 0.5 1.8 0.5-7.3 0.5-15.6 0.5-22.3 0.5-27.1 0.5-29.1 0.5-28.4 0.5-24.9 0.5-19.1 0.5-11.4 0.5-2.7 0.5 6.4 0.5 14.8 0.5 21.9 0.5 26.8 0.5 29.3 0.5 28.9 0.5 25.9 0.5 20.3 0.5 12.9 0.5 4.2 0.5-4.8 0.5-13.3 0.5-20.6 0.5-25.9 0.5-28.7 0.5-28.7 0.5-26 0.5-20.8 0.5-13.6 0.5-5.1 0.5 4 0.5 12.6 0.5 20 0.5 25.6 0.5 28.8 0.5 29.2 0.5 26.9 0.5 21.9 0.5 15.1 0.5 6.6 0.5-2.2 0.5-11.1 0.5-18.6 0.5-24.6 0.5-28 0.5-28.8 0.5-26.9 0.5-22.3 0.5-15.6 0.5-7.5 0.5 1.5 0.5 10.3 0.5 18.1 0.5 24.2 0.5 28.1 0.5 29.2 0.5 27.7 0.5 23.4 0.5 17.1 0.5 9 0.5 0.2 0.5-8.6 0.5-16.7 0.5-23 0.5-27.2 0.5-28.7 0.5-27.5 0.5-23.7 0.5-17.5 0.5-9.7 0.5-1 0.5 7.9 0.5 16.1 0.5 22.6 0.5 27.2 0.5 29 0.5 28.2 0.5 24.8 0.5 18.9 0.5 11.3 0.5 2.6 0.5-6.2 0.5-14.5 0.5-21.3 0.5-26.2 0.5-28.4 0.5-27.9 0.5-24.8 0.5-19.3 0.5-11.9 0.5-3.4 0.5 5.5 0.5 13.9 0.5 20.9 0.5 26 0.5 28.6 0.5 28.6 0.5 25.8 0.5 20.5 0.5 13.5 0.5 5 0.5-3.8 0.5-12.2 0.5-19.5 0.5-24.9 0.5-27.8 0.5-28.1 0.5-25.7 0.5-20.9 0.5-13.9 0.5-5.7 0.5 3.1 0.5 11.6 0.5 19 0.5 24.7 0.5 27.9 0.5 28.6 0.5 26.6 0.5 22 0.5 15.4 0.5 7.4 0.5-1.4 0.5-9.9 0.5-17.5 0.5-23.4 0.5-26.9 0.5-28 0.5-26.3 0.5-22.2 0.5-15.7 0.5-8 0.5 0.7 0.5 9.3 0.5 17 0.5 23 0.5 27.1 0.5 28.3 0.5 27.1 0.5 23.2 0.5 17.2 0.5 9.6 0.5 1 0.5-7.5 0.5-15.4 0.5-21.6 0.5-25.9 0.5-27.6 0.5-26.7 0.5-23.1 0.5-17.5 0.5-10 0.5-1.7 0.5 6.9 0.5 14.9 0.5 21.3 0.5 25.8 0.5 27.9 0.5 27.3 0.5 24.2 0.5 18.8 0.5 11.6 0.5 3.3 0.5-5.1 0.5-13.1 0.5-19.8 0.5-24.6 0.5-27 0.5-26.7 0.5-24 0.5-18.9 0.5-12 0.5-3.9 0.5 4.5 0.5 12.6 0.5 19.4 0.5 24.5 0.5 27.1 0.5 27.3 0.5 24.9 0.5 20.2 0.5 13.4 0.5 5.6 0.5-2.7 0.5-10.9 0.5-17.8 0.5-23.1 0.5-26.1 0.5-26.6 0.5-24.6 0.5-20.1 0.5-13.8 0.5-6 0.5 2.2 0.5 10.3 0.5 17.4 0.5 22.9 0.5 26.2 0.5 27 0.5 25.4 0.5 21.2 0.5 15.2 0.5 7.7 0.5-0.4 0.5-8.6 0.5-15.7 0.5-21.5 0.5-25 0.5-26.2 0.5-24.8 0.5-21.1 0.5-15.3 0.5-8.1 0.5 0 0.5 8 0.5 15.3 0.5 21.2 0.5 25 0.5 26.5 0.5 25.5 0.5 22.2 0.5 16.6 0.5 9.7 0.5 1.7 0.5-6.2 0.5-13.6 0.5-19.6 0.5-23.7 0.5-25.5 0.5-24.9 0.5-21.8 0.5-16.6 0.5-9.9 0.5-2.2 0.5 5.7 0.5 13.2 0.5 19.3 0.5 23.6 0.5 25.8 0.5 25.4 0.5 22.7 0.5 17.9 0.5 11.4 0.5 3.9 0.5-4 0.5-11.3 0.5-17.7 0.5-22.2 0.5-24.6 0.5-24.6 0.5-22.3 0.5-17.7 0.5-11.5 0.5-4.2 0.5 3.5 0.5 10.9 0.5 17.3 0.5 21.9 0.5 24.7 0.5 25 0.5 23.1 0.5 18.9 0.5 13.1 0.5 6 0.5-1.9 0.5-9.3 0.5-15.8 0.5-20.7 0.5-23.5 0.5-24.1 0.5-22.3 0.5-18.4 0.5-12.9 0.5-6 0.5 1.4 0.5 8.6 0.5 15.1 0.5 20.2 0.5 23.3 0.5 24.3 0.5 23.2 0.5 19.8 0.5 14.6 0.5 8.1 0.5 0.3 0.5-7.4 0.5-14 0.5-19.1 0.5-22.2 0.5-23.4 0.5-22.1 0.5-19 0.5-13.9 0.5-7.6 0.5-0.6 0.5 6.5 0.5 12.9 0.5 18.1 0.5 21.8 0.5 23.5 0.5 23 0.5 20.4 0.5 15.9 0.5 9.9 0.5 2.5 0.5-5.4 0.5-12.2 0.5-17.4 0.5-21 0.5-22.4 0.5-21.8 0.5-19.2 0.5-14.7 0.5-9 0.5-2.4 0.5 4.4 0.5 10.8 0.5 16.1 0.5 20.2 0.5 22.2 0.5 22.5 0.5 20.6 0.5 16.9 0.5 11.4 0.5 4.7 0.5-3.3 0.5-10.3 0.5-15.7 0.5-19.5 0.5-21.4 0.5-21.2 0.5-19.1 0.5-15.3 0.5-10.1 0.5-4 0.5 2.4 0.5 8.7 0.5 14.1 0.5 18.3 0.5 20.9 0.5 21.7 0.5 20.5 0.5 17.4 0.5 12.7 0.5 6.5 0.5-1.1 0.5-8.4 0.5-13.9 0.5-17.8 0.5-20.2 0.5-20.4 0.5-18.9 0.5-15.6 0.5-11 0.5-5.4 0.5 0.6 0.5 6.7 0.5 12.1 0.5 16.5 0.5 19.4 0.5 20.6 0.5 20 0.5 17.6 0.5 13.7 0.5 8.1 0.5 1.1 0.5-6.4 0.5-12.1 0.5-16.2 0.5-18.8 0.5-19.4 0.5-18.5 0.5-15.8 0.5-11.7 0.5-6.5 0.5-1 0.5 4.9 0.5 10.1 0.5 14.6 0.5 17.7 0.5 19.4 0.5 19.4 0.5 17.6 0.5 14.3 0.5 9.5 0.5 3.1 0.5-4.4 0.5-10.3 0.5-14.6 0.5-17.3 0.5-18.4 0.5-17.9 0.5-15.7 0.5-12.1 0.5-7.5 0.5-2.4 0.5 3.1 0.5 8.3 0.5 12.7 0.5 16.1 0.5 18 0.5 18.5 0.5 17.4 0.5 14.7 0.5 10.6 0.5 5.1 0.5-2.5 0.5-8.5 0.5-13 0.5-15.9 0.5-17.3 0.5-17.1 0.5-15.4 0.5-12.3 0.5-8.3 0.5-3.5 0.5 1.6 0.5 6.5 0.5 10.8 0.5 14.4 0.5 16.6 0.5 17.5 0.5 16.9 0.5 14.9 0.5 11.5 0.5 6.7 0.5-0.3 0.5-7 0.5-11.5 0.5-14.6 0.5-16.1 0.5-16.3 0.5-14.9 0.5-12.4 0.5-8.7 0.5-4.5 0.5 0.2 0.5 4.8 0.5 9.1 0.5 12.5 0.5 15.1 0.5 16.3 0.5 16.4 0.5 15 0.5 12.2 0.5 8.3 0.5 2 0.5-5.6 0.5-10.3 0.5-13.5 0.5-15.2 0.5-15.4 0.5-14.5 0.5-12.3 0.5-9.1 0.5-5.2 0.5-1 0.5 3.3 0.5 7.3 0.5 10.8 0.5 13.5 0.5 15.2 0.5 15.7 0.5 15.2 0.5 13.3 0.5 10.1 0.5 5 0.5-4.7 0.5-9.8 0.5-13 0.5-14.6 0.5-14.9 0.5-14 0.5-12.1 0.5-9.2 0.5-5.7 0.5-2 0.5 2 0.5 5.7 0.5 9.1 0.5 11.8 0.5 13.9 0.5 14.9 0.5 15 0.5 14.1 0.5 11.8 0.5 8 0.5-2.9 0.5-9.8 0.5-12.7 0.5-14.2 0.5-14.3 0.5-13.4 0.5-11.6 0.5-9.1 0.5-6.1 0.5-2.7 0.5 0.9 0.5 4.3 0.5 7.5 0.5 10.2 0.5 12.3 0.5 13.7 0.5 14.3 0.5 13.9 0.5 12.6 0.5 9.7 0.5 0.6 0.5-9.2 0.5-12.1 0.5-13.3 0.5-13.4 0.5-12.7 0.5-11 0.5-8.9 0.5-6.2 0.5-3.1 0.5-0.1 0.5 3.1 0.5 6 0.5 8.6 0.5 10.7 0.5 12.2 0.5 13.1 0.5 13.3 0.5 12.6 0.5 10.6 0.5 4.8 0.5-8.4 0.5-11.3 0.5-12.4 0.5-12.5 0.5-11.8 0.5-10.5 0.5-8.5 0.5-6.2 0.5-3.5 0.5-0.8 0.5 1.9 0.5 4.7 0.5 7 0.5 9.1 0.5 10.8 0.5 11.8 0.5 12.3 0.5 12.1 0.5 11.1 0.5 8.2 0.5-6.5 0.5-10.6 0.5-11.6 0.5-11.8 0.5-11.1 0.5-10 0.5-8.2 0.5-6.3 0.5-3.9 0.5-1.4 0.5 1 0.5 3.5 0.5 5.7 0.5 7.7 0.5 9.4 0.5 10.6 0.5 11.4 0.5 11.6 0.5 11.1 0.5 9.5 0.5-2.5 0.5-10.1 0.5-11.1 0.5-11.2 0.5-10.7 0.5-9.6 0.5-8.1 0.5-6.2 0.5-4.2 0.5-2 0.5 0.2 0.5 2.6 0.5 4.6 0.5 6.6 0.5 8.3 0.5 9.6 0.5 10.5 0.5 11.1 0.5 10.9 0.5 10.2 0.5 2.2 0.5-9.6 0.5-10.7 0.5-10.7 0.5-10.2 0.5-9.2 0.5-7.9 0.5-6.2 0.5-4.3 0.5-2.4 0.5-0.2 0.5 1.8 0.5 3.8 0.5 5.7 0.5 7.3 0.5 8.6 0.5 9.6 0.5 10.3 0.5 10.3 0.5 9.9 0.5 6.7 0.5-8.5 0.5-9.8 0.5-10 0.5-9.5 0.5-8.7 0.5-7.5 0.5-6 0.5-4.4 0.5-2.6 0.5-0.7 0.5 1.2 0.5 3.1 0.5 4.7 0.5 6.3 0.5 7.6 0.5 8.6 0.5 9.2 0.5 9.4 0.5 9.2 0.5 8 0.5-5 0.5-8.7 0.5-9 0.5-8.8 0.5-8.1 0.5-7.2 0.5-5.8 0.5-4.5 0.5-2.8 0.5-1.1 0.5 0.6 0.5 2.3 0.5 3.9 0.5 5.4 0.5 6.5 0.5 7.6 0.5 8.2 0.5 8.6 0.5 8.5 0.5 7.7 0.5-0.7 0.5-7.8 0.5-8.2 0.5-8.1 0.5-7.6 0.5-6.8 0.5-5.8 0.5-4.4 0.5-3 0.5-1.4 0.5 0.1 0.5 1.6 0.5 3.2 0.5 4.5 0.5 5.8 0.5 6.7 0.5 7.4 0.5 7.8 0.5 7.8 0.5 7.3 0.5 2.9 0.5-6.8 0.5-7.5 0.5-7.5 0.5-7.1 0.5-6.4 0.5-5.5 0.5-4.4 0.5-3.1 0.5-1.7 0.5-0.2 0.5 1.1 0.5 2.6 0.5 3.8 0.5 5 0.5 5.8 0.5 6.6 0.5 7.1 0.5 7.1 0.5 6.9 0.5 5.6 0.5-5.6 0.5-6.7 0.5-6.8 0.5-6.6 0.5-6 0.5-5.2 0.5-4.2 0.5-3.1 0.5-1.9 0.5-0.6 0.5 0.8 0.5 1.9 0.5 3.2 0.5 4.2 0.5 5.1 0.5 5.8 0.5 6.3 0.5 6.4 0.5 6.3 0.5 5.6 0.5-2.4 0.5-5.9 0.5-6.1 0.5-6 0.5-5.5 0.5-4.9 0.5-4 0.5-3 0.5-2 0.5-0.8 0.5 0.4 0.5 1.5 0.5 2.6 0.5 3.5 0.5 4.4 0.5 5 0.5 5.5 0.5 5.7 0.5 5.7 0.5 5.2 0.5 0.4 0.5-5 0.5-5.4 0.5-5.3 0.5-5 0.5-4.5 0.5-3.7 0.5-2.9 0.5-2 0.5-0.9 0.5 0 0.5 1.1 0.5 2 0.5 2.9 0.5 3.7 0.5 4.3 0.5 4.7 0.5 5 0.5 5 0.5 4.7 0.5 2.5 0.5-4.1 0.5-4.7 0.5-4.7 0.5-4.4 0.5-4.1 0.5-3.5 0.5-2.7 0.5-2 0.5-1.1 0.5-0.2 0.5 0.7 0.5 1.5 0.5 2.3 0.5 3.1 0.5 3.6 0.5 4 0.5 4.4 0.5 4.4 0.5 4.2 0.5 3.7 0.5-2.9 0.5-4.1 0.5-4.2 0.5-4.1 0.5-3.7 0.5-3.3 0.5-2.6 0.5-2 0.5-1.3 0.5-0.4 0.5 0.4 0.5 1.1 0.5 1.9 0.5 2.5 0.5 3.1 0.5 3.6 0.5 3.8 0.5 4 0.5 3.9 0.5 3.5 0.5-0.9 0.5-3.6 0.5-3.8 0.5-3.7 0.5-3.5 0.5-3.1 0.5-2.5 0.5-2 0.5-1.3 0.5-0.6 0.5 0.1 0.5 0.8 0.5 1.6 0.5 2.1 0.5 2.7 0.5 3.1 0.5 3.4 0.5 3.6 0.5 3.6 0.5 3.3 0.5 0.8 0.5-3.1 0.5-3.5 0.5-3.4 0.5-3.2 0.5-2.9 0.5-2.5 0.5-2 0.5-1.3 0.5-0.8 0.5 0 0.5 0.6 0.5 1.2 0.5 1.8 0.5 2.3 0.5 2.7 0.5 3 0.5 3.3 0.5 3.2 0.5 3.2 0.5 2.1 0.5-2.6 0.5-3.1 0.5-3.1 0.5-3 0.5-2.7 0.5-2.4 0.5-1.9 0.5-1.4 0.5-0.8 0.5-0.2 0.5 0.4 0.5 1 0.5 1.5 0.5 1.9 0.5 2.4 0.5 2.7 0.5 2.9 0.5 2.9 0.5 2.9 0.5 2.5 0.5-1.5 0.5-2.7 0.5-2.8 0.5-2.7 0.5-2.5 0.5-2.1 0.5-1.8 0.5-1.4 0.5-0.8 0.5-0.3 0.5 0.2 0.5 0.8 0.5 1.2 0.5 1.6 0.5 2 0.5 2.3 0.5 2.5 0.5 2.6 0.5 2.6 0.5 2.3 0.5-0.2 0.5-2.3 0.5-2.4 0.5-2.4 0.5-2.2 0.5-2 0.5-1.6 0.5-1.3 0.5-0.8 0.5-0.4 0.5 0.1 0.5 0.5 0.5 1 0.5 1.3 0.5 1.7 0.5 1.9 0.5 2.1 0.5 2.3 0.5 2.2 0.5 2.1 0.5 0.8 0.5-1.9 0.5-2.1 0.5-2 0.5-2 0.5-1.8 0.5-1.5 0.5-1.2 0.5-0.8 0.5-0.4 0.5-0.1 0.5 0.4 0.5 0.7 0.5 1 0.5 1.4 0.5 1.6 0.5 1.8 0.5 1.9 0.5 2 0.5 1.9 0.5 1.5 0.5-1.5 0.5-1.8 0.5-1.8 0.5-1.8 0.5-1.6 0.5-1.4 0.5-1.2 0.5-0.8 0.5-0.5 0.5-0.1 0.5 0.1 0.5 0.6 0.5 0.8 0.5 1.2 0.5 1.3 0.5 1.6 0.5 1.7 0.5 1.7 0.5 1.7 0.5 1.5 0.5-0.6 0.5-1.6 0.5-1.6 0.5-1.6 0.5-1.5 0.5-1.3 0.5-1.1 0.5-0.8 0.5-0.5 0.5-0.2 0.5 0.1 0.5 0.4 0.5 0.6 0.5 1 0.5 1.2 0.5 1.3 0.5 1.5 0.5 1.5 0.5 1.5 0.5 1.4 0.5 0.1 0.5-1.3 0.5-1.4 0.5-1.5 0.5-1.3 0.5-1.2 0.5-1 0.5-0.7 0.5-0.6 0.5-0.2 0.5 0 0.5 0.3 0.5 0.5 0.5 0.8 0.5 1 0.5 1.1 0.5 1.3 0.5 1.3 0.5 1.3 0.5 1.3 0.5 0.7 0.5-1.1 0.5-1.3 0.5-1.2 0.5-1.2 0.5-1.1 0.5-0.9 0.5-0.7 0.5-0.5 0.5-0.3 0.5-0.1 0.5 0.2 0.5 0.4 0.5 0.6 0.5 0.8 0.5 1 0.5 1.1 0.5 1.1 0.5 1.2 0.5 1.1 0.5 0.9 0.5-0.7 0.5-1.1 0.5-1.1 0.5-1 0.5-1 0.5-0.8 0.5-0.7 0.5-0.5 0.5-0.3 0.5-0.1 0.5 0.1 0.5 0.3 0.5 0.4 0.5 0.7 0.5 0.8 0.5 0.9 0.5 1 0.5 1 0.5 1 0.5 0.9 0.5-0.2 0.5-0.9 0.5-0.9 0.5-1 0.5-0.9 0.5-0.7 0.5-0.7 0.5-0.5 0.5-0.3 0.5-0.1 0.5 0 0.5 0.2 0.5 0.4 0.5 0.6 0.5 0.6 0.5 0.8 0.5 0.9 0.5 0.9 0.5 0.8 0.5 0.9 0.5 0.2 0.5-0.8 0.5-0.8 0.5-0.9 0.5-0.7 0.5-0.8 0.5-0.6 0.5-0.4 0.5-0.4 0.5-0.1 0.5 0 0.5 0.1 0.5 0.3 0.5 0.5 0.5 0.5 0.5 0.7 0.5 0.7 0.5 0.8 0.5 0.8 0.5 0.7 0.5 0.6 0.5-0.7 0.5-0.7 0.5-0.7 0.5-0.8 0.5-0.6 0.5-0.6 0.5-0.4 0.5-0.4 0.5-0.2 0.5 0 0.5 0.1 0.5 0.2 0.5 0.4 0.5 0.4 0.5 0.6 0.5 0.6 0.5 0.7 0.5 0.7 0.5 0.7 0.5 0.6 0.5-0.3 0.5-0.7 0.5-0.6 0.5-0.7 0.5-0.6 0.5-0.5 0.5-0.5 0.5-0.3 0.5-0.2 0.5-0.1 0.5 0.1 0.5 0.1 0.5 0.3 0.5 0.4 0.5 0.5 0.5 0.6 0.5 0.6 0.5 0.6 0.5 0.6 0.5 0.6 0.5 0 0.5-0.6 0.5-0.6 0.5-0.6 0.5-0.5 0.5-0.5 0.5-0.5 0.5-0.3 0.5-0.2 0.5-0.1 0.5 0 0.5 0.1 0.5 0.3 0.5 0.3 0.5 0.4 0.5 0.5 0.5 0.5 0.5 0.6 0.5 0.5 0.5 0.6 0.5 0.2 0.5-0.5 0.5-0.5 0.5-0.5 0.5-0.6 0.5-0.4 0.5-0.4 0.5-0.3 0.5-0.3 0.5-0.1 0.5 0 0.5 0.1 0.5 0.2 0.5 0.2 0.5 0.4 0.5 0.4 0.5 0.5 0.5 0.5 0.5 0.5 0.5 0.5 0.5 0.4 0.5-0.4 0.5-0.5 0.5-0.5 0.5-0.4 0.5-0.5 0.5-0.3 0.5-0.3 0.5-0.3 0.5-0.1 0.5 0 0.5 0 0.5 0.2 0.5 0.2 0.5 0.3 0.5 0.3 0.5 0.4 0.5 0.5 0.5 0.5 0.5 0.4 0.5 0.4 0.5-0.1 0.5-0.5 0.5-0.4 0.5-0.4 0.5-0.4 0.5-0.4 0.5-0.3 0.5-0.2 0.5-0.1 0.5-0.1 0.5 0 0.5 0.1 0.5 0.2 0.5 0.2 0.5 0.4 0.5 0.3 0.5 0.4 0.5 0.4 0.5 0.4 0.5 0.4 0.5 0.1 0.5-0.4 0.5-0.4 0.5-0.4 0.5-0.4 0.5-0.3 0.5-0.3 0.5-0.2 0.5-0.2 0.5 0 0.5 0 0.5 0 0.5 0.2 0.5 0.2 0.5 0.3 0.5 0.3 0.5 0.3 0.5 0.4 0.5 0.4 0.5 0.4 0.5 0.2 0.5-0.4 0.5-0.3 0.5-0.4 0.5-0.3 0.5-0.3 0.5-0.3 0.5-0.2 0.5-0.2 0.5-0.1 0.5 0 0.5 0 0.5 0.2 0.5 0.1 0.5 0.3 0.5 0.3 0.5 0.3 0.5 0.3 0.5 0.4 0.5 0.3 0.5 0.3 0.5-0.3 0.5-0.3 0.5-0.3 0.5-0.3 0.5-0.3 0.5-0.3 0.5-0.2 0.5-0.2 0.5 0 0.5-0.1 0.5 0.1 0.5 0 0.5 0.2 0.5 0.2 0.5 0.3 0.5 0.2 0.5 0.3 0.5 0.4 0.5 0.3 0.5 0.2 0.5-0.1 0.5-0.3 0.5-0.3 0.5-0.3 0.5-0.2 0.5-0.3 0.5-0.2 0.5-0.1 0.5-0.1 0.5-0.1 0.5 0 0.5 0.1 0.5 0.1 0.5 0.2 0.5 0.2 0.5 0.3 0.5 0.3 0.5 0.3 0.5 0.2 0.5 0.3 0.5 0 0.5-0.3 0.5-0.2 0.5-0.3 0.5-0.3 0.5-0.2 0.5-0.2 0.5-0.1 0.5-0.1 0.5-0.1 0.5 0 0.5 0.1 0.5 0.1 0.5 0.1 0.5 0.2 0.5 0.3 0.5 0.2 0.5 0.3 0.5 0.2 0.5 0.3 0.5 0.1 0.5-0.3 0.5-0.2 0.5-0.3 0.5-0.2 0.5-0.2 0.5-0.2 0.5-0.1 0.5-0.1 0.5-0.1 0.5 0 0.5 0 0.5 0.1 0.5 0.2 0.5 0.1 0.5 0.2 0.5 0.2 0.5 0.3 0.5 0.2 0.5 0.2 0.5 0.2 0.5-0.2 0.5-0.2 0.5-0.2 0.5-0.3 0.5-0.1 0.5-0.2 0.5-0.2 0.5-0.1 0.5 0 0.5 0 0.5 0 0.5 0.1 0.5 0.1 0.5 0.1 0.5 0.2 0.5 0.2 0.5 0.2 0.5 0.2 0.5 0.2 0.5 0.2 0.5-0.1 0.5-0.2 0.5-0.2 0.5-0.2 0.5-0.2 0.5-0.2 0.5-0.1 0.5-0.1 0.5-0.1 0.5 0 0.5 0 0.5 0.1 0.5 0.1 0.5 0.1 0.5 0.1 0.5 0.2 0.5 0.2 0.5 0.2 0.5 0.2 0.5 0.2 0.5-0.1 0.5-0.2 0.5-0.1 0.5-0.2 0.5-0.2 0.5-0.1 0.5-0.2 0.5-0.1 0.5 0 0.5 0 0.5 0 0.5 0 0.5 0.1 0.5 0.1 0.5 0.1 0.5 0.2 0.5 0.1 0.5 0.2 0.5 0.2 0.5 0.1 0.5 0.1 0.5-0.2 0.5-0.2 0.5-0.1 0.5-0.2 0.5-0.1 0.5-0.1 0.5-0.1 0.5-0.1 0.5 0 0.5 0 0.5 0 0.5 0.1 0.5 0.1 0.5 0.1 0.5 0.1 0.5 0.1 0.5 0.2 0.5 0.2 0.5 0.1 0.5 0.1 0.5-0.1 0.5-0.2 0.5-0.1 0.5-0.2 0.5-0.1 0.5-0.1 0.5-0.1 0.5-0.1 0.5 0 0.5 0 0.5 0 0.5 0 0.5 0.1 0.5 0.1 0.5 0.1 0.5 0.2 0.5 0.1 0.5 0.1 0.5 0.2 0.5 0.1 0.5-0.1 0.5-0.1 0.5-0.2 0.5-0.1 0.5-0.1 0.5-0.1 0.5-0.1 0.5-0.1 0.5 0 0.5 0 0.5 0 0.5 0 0.5 0.1 0.5 0.1 0.5 0.1 0.5 0.1 0.5 0.1 0.5 0.1 0.5 0.2 0.5 0.1 0.5-0.1 0.5-0.1 0.5-0.1 0.5-0.1 0.5-0.2 0.5-0.1 0.5 0 0.5-0.1 0.5-0.1 0.5 0 0.5 0 0.5 0.1 0.5 0 0.5 0.1 0.5 0.1 0.5 0.1 0.5 0.1 0.5 0.1 0.5 0.1 0.5 0.2 0.5 0 0.5-0.2 0.5-0.1 0.5-0.1 0.5-0.1 0.5-0.1 0.5-0.1 0.5 0 0.5-0.1 0.5 0 0.5 0 0.5 0 0.5 0.1 0.5 0 0.5 0.1 0.5 0.1 0.5 0.1 0.5 0.1 0.5 0.1 0.5 0.1 0.5 0.1 0.5-0.1 0.5-0.1 0.5-0.1 0.5-0.1 0.5-0.1 0.5-0.1 0.5 0 0.5-0.1 0.5 0 0.5 0 0.5 0 0.5 0 0.5 0.1 0.5 0.1 0.5 0 0.5 0.1 0.5 0.1 0.5 0.1 0.5 0.1 0.5 0.1 0.5-0.1 0.5-0.1 0.5-0.1 0.5-0.1 0.5 0 0.5-0.1 0.5-0.1 0.5 0 0.5 0 0.5 0 0.5 0 0.5 0 0.5 0 0.5 0.1 0.5 0.1 0.5 0.1 0.5 0 0.5 0.1 0.5 0.1 0.5 0.1 0.5-0.1 0.5 0 0.5-0.1 0.5-0.1 0.5-0.1 0.5 0 0.5-0.1 0.5 0 0.5-0.1 0.5 0 0.5 0 0.5 0.1 0.5 0 0.5 0 0.5 0.1 0.5 0.1 0.5 0.1 0.5 0 0.5 0.1 0.5 0.1 0.5 0 0.5-0.1 0.5-0.1 0.5-0.1 0.5 0 0.5-0.1 0.5 0 0.5-0.1 0.5 0 0.5 0 0.5 0 0.5 0 0.5 0 0.5 0.1 0.5 0 0.5 0.1 0.5 0.1 0.5 0 0.5 0.1 0.5 0.1 0.5 0 0.5-0.1 0.5 0 0.5-0.1 0.5-0.1 0.5 0 0.5-0.1 0.5 0 0.5 0 0.5 0 0.5 0 0.5 0 0.5 0 0.5 0 0.5 0.1 0.5 0 0.5 0.1 0.5 0 0.5 0.1 0.5 0.1 0.5 0 0.5-0.1 0.5 0 0.5-0.1 0.5 0 0.5-0.1 0.5 0 0.5 0 0.5-0.1 0.5 0 0.5 0 0.5 0 0.5 0.1 0.5 0 0.5 0 0.5 0.1 0.5 0 0.5 0.1 0.5 0 0.5 0.1 0.5 0 0.5 0 0.5-0.1 0.5 0 0.5-0.1 0.5 0 0.5-0.1 0.5 0 0.5 0 0.5 0 0.5 0 0.5 0 0.5 0 0.5 0 0.5 0.1 0.5 0 0.5 0 0.5 0.1 0.5 0 0.5 0.1 0.5 0 0.5 0 0.5-0.1 0.5 0 0.5 0 0.5-0.1 0.5 0 0.5 0 0.5-0.1 0.5 0 0.5 0 0.5 0 0.5 0 0.5 0.1 0.5 0 0.5 0 0.5 0 0.5 0.1 0.5 0 0.5 0.1 0.5 0 0.5 0 0.5 0 0.5-0.1 0.5 0 0.5 0 0.5-0.1 0.5 0 0.5 0 0.5 0 0.5 0 0.5 0 0.5 0 0.5 0 0.5 0 0.5 0 0.5 0.1 0.5 0 0.5 0 0.5 0.1 0.5 0 0.5 0 0.5 0 0.5-0.1 0.5 0 0.5 0 0.5 0 0.5 0 0.5-0.1 0.5 0 0.5 0 0.5 0 0.5 0 0.5 0 0.5 0.1 0.5 0 0.5 0 0.5 0 0.5 0 0.5 0.1 0.5 0 0.5 0 0.5 0 0.5 0 0.5-0.1 0.5 0 0.5 0 0.5 0 0.5 0 0.5 0 0.5 0 0.5 0 0.5 0 0.5 0 0.5 0 0.5 0 0.5 0 0.5 0 0.5 0.1 0.5 0 0.5 0 0.5 0 0.5 0 0.5 0 0.5 0 0.5-0.1 0.5 0 0.5 0 0.5 0 0.5 0 0.5 0 0.5 0 0.5 0 0.5 0 0.5 0 0.5 0 0.5 0 0.5 0 0.5 0.1 0.5 0 0.5 0 0.5 0 0.5 0 0.5 0 0.5 0 0.5 0 0.5 0 0.5-0.1 0.5 0 0.5 0 0.5 0 0.5 0 0.5 0 0.5 0 0.5 0 0.5 0 0.5 0.1 0.5 0 0.5 0 0.5 0 0.5 0 0.5 0 0.5 0 0.5 0 0.5 0 0.5 0 0.5 0 0.5 0 0.5 0 0.5 0 0.5 0 0.5 0 0.5 0 0.5 0 0.5 0 0.5 0 0.5 0 0.5 0 0.5 0 0.5 0 0.5 0 0.5 0 0.5 0 0.5 0 0.5 0 0.5 0 0.5 0 0.5 0 0.5 0 0.5 0 0.5 0 0.5 0 0.5 0 0.5 0 0.5 0 0.5 0 0.5 0 0.5 0 0.5 0 0.5 0 0.5 0 0.5 0 0.5 0 0.5 0 0.5 0 0.5 0 0.5 0 0.5 0 0.5 0 0.5 0 0.5 0 0.5 0 0.5 0 0.5 0 0.5 0 0.5 0 0.5 0 0.5 0 0.5 0 0.5 0 0.5 0 0.5 0 0.5 0 0.5 0 0.5 0 0.5 0 0.5 0 0.5 0 0.5 0 0.5 0 0.5 0 0.5 0 0.5 0 0.5 0 0.5 0 0.5 0 0.5 0 0.5 0 0.5 0 0.5 0 0.5 0 0.5 0 0.5 0 0.5 0 0.5 0 0.5 0 0.5 0 0.5 0 0.5 0 0.5 0 0.5 0 0.5 0 0.5 0 0.5 0 0.5 0 0.5 0 0.5 0 0.5 0 0.5 0 0.5 0 0.5 0 0.5 0 0.5 0 0.5 0 0.5 0 0.5 0 0.5 0 0.5 0 0.5 0 0.5 0 0.5 0 0.5 0 0.5 0 0.5 0 0.5 0 0.5 0 0.5 0 0.5 0 0.5 0 0.5 0 0.5 0 0.5 0 0.5 0 0.5 0 0.5 0 0.5 0 0.5 0 0.5 0 0.5 0 0.5 0 0.5 0 0.5 0 0.5 0 0.5 0 0.5 0 0.5 0 0.5 0 0.5 0 0.5 0 0.5 0 0.5 0 0.5 0 0.5 0 0.5 0 0.5 0 0.5 0 0.5 0 0.5 0 0.5 0 0.5 0 0.5 0 0.5 0 0.5 0 0.5 0 0.5 0 0.5 0 0.5 0 0.5 0 0.5 0 0.5 0 0.5 0 0.5 0 0.5 0 0.5 0 0.5 0 0.5 0 0.5 0 0.5 0 0.5 0 0.5 0 0.5 0 0.5 0 0.5 0 0.5 0 0.5 0 0.5 0 0.5 0 0.5 0 0.5 0 0.5 0 0.5 0 0.5 0 0.5 0 0.5 0 0.5 0 0.5 0 0.5 0 0.5 0 0.5 0 0.5 0 0.5 0 0.5 0 0.5 0 0.5 0 0.5 0 0.5 0 0.5 0 0.5 0 0.5 0 0.5 0 0.5 0 0.5 0 0.5 0 0.5 0 0.5 0 0.5 0 0.5 0 0.5 0 0.5 0 0.5 0 0.5 0 0.5 0 0.5 0 0.5 0 0.5 0 0.5 0 0.5 0 0.5 0 0.5 0 0.5 0 0.5 0 0.5 0 0.5 0 0.5 0 0.5 0 0.5 0 0.5 0 0.5 0 0.5 0 0.5 0 0.5 0 0.5 0 0.5 0 0.5 0 0.5 0 0.5 0 0.5 0 0.5 0 0.5 0 0.5 0 0.5 0 0.5 0 0.5 0 0.5 0 0.5 0 0.5 0 0.5 0 0.5 0 0.5 0 0.5 0 0.5 0 0.5 0 0.5 0 0.5 0 0.5 0 0.5 0 0.5 0 0.5 0 0.5 0 0.5 0 0.5 0 0.5 0 0.5 0 0.5 0 0.5 0 0.5 0 0.5 0 0.5 0 0.5 0 0.5 0 0.5 0 0.5 0 0.5 0 0.5 0 0.5 0 0.5 0 0.5 0 0.5 0 0.5 0 0.5 0 0.5 0 0.5 0 0.5 0 0.5 0 0.5 0 0.5 0 0.5 0 0.5 0 0.5 0 0.5 0 0.5 0 0.5 0 0.5 0 0.5 0 0.5 0 0.5 0 0.5 0 0.5 0 0.5 0 0.5 0 0.5 0 0.5 0 0.5 0 0.5 0 0.5 0 0.5 0 0.5 0 0.5 0 0.5 0 0.5 0 0.5 0 0.5 0 0.5 0 0.5 0 0.5 0 0.5 0 0.5 0 0.5 0 0.5 0 0.5 0 0.5 0 0.5 0 0.5 0 0.5 0 0.5 0 0.5 0 0.5 0 0.5 0 0.5 0 0.5 0 0.5 0 0.5 0 0.5 0 0.5 0 0.5 0 0.5 0 0.5 0 0.5 0 0.5 0 0.5 0 0.5 0 0.5 0 0.5 0 0.5 0 0.5 0 0.5 0 0.5 0 0.5 0 0.5 0 0.5 0 0.5 0 0.5 0 0.5 0 0.5 0 0.5 0 0.5 0 0.5 0 0.5 0 0.5 0 0.5 0 0.5 0 0.5 0 0.5 0 0.5 0 0.5 0 0.5 0 0.5 0 0.5 0 0.5 0 0.5 0 0.5 0 0.5 0 0.5 0 0.5 0 0.5 0 0.5 0 0.5 0 0.5 0 0.5 0 0.5 0 0.5 0 0.5 0 0.5 0 0.5 0 0.5 0 0.5 0 0.5 0 0.5 0 0.5 0 0.5 0 0.5 0 0.5 0 0.5 0 0.5 0 0.5 0 0.5 0 0.5 0 0.5 0 0.5 0 0.5 0 0.5 0 0.5 0 0.5 0 0.5 0 0.5 0 0.5 0 0.5 0 0.5 0 0.5 0 0.5 0 0.5 0 0.5 0 0.5 0 0.5 0 0.5 0 0.5 0 0.5 0 0.5 0 0.5 0 0.5 0 0.5 0 0.5 0 0.5 0 0.5 0 0.5 0 0.5 0 0.5 0 0.5 0 0.5 0 0.5 0 0.5 0 0.5 0 0.5 0 0.5 0 0.5 0 0.5 0 0.5 0 0.5 0 0.5 0 0.5 0 0.5 0 0.5 0 0.5 0 0.5 0 0.5 0 0.5 0 0.5 0 0.5 0 0.5 0 0.5 0 0.5 0 0.5 0 0.5 0 0.5 0 0.5 0 0.5 0 0.5 0 0.5 0 0.5 0 0.5 0 0.5 0 0.5 0 0.5 0 0.5 0 0.5 0 0.5 0 0.5 0 0.5 0 0.5 0 0.5 0 0.5 0 0.5 0 0.5 0 0.5 0 0.5 0 0.5 0 0.5 0 0.5 0 0.5 0 0.5 0 0.5 0 0.5 0 0.5 0 0.5 0 0.5 0 0.5 0 0.5 0 0.5 0 0.5 0 0.5 0 0.5 0 0.5 0 0.5 0 0.5 0 0.5 0 0.5 0 0.5 0 0.5 0 0.5 0 0.5 0 0.5 0 0.5 0 0.5 0 0.5 0 0.5 0 0.5 0 0.5 0 0.5 0 0.5 0 0.5 0 0.5 0 0.5 0 0.5 0 0.5 0 0.5 0 0.5 0 0.5 0 0.5 0 0.5 0 0.5 0 0.5 0 0.5 0 0.5 0 0.5 0 0.5 0 0.5 0 0.5 0 0.5 0 0.5 0 0.5 0 0.5 0 0.5 0 0.5 0 0.5 0 0.5 0 0.5 0 0.5 0 0.5 0 0.5 0 0.5 0 0.5 0 0.5 0 0.5 0 0.5 0 0.5 0 0.5 0 0.5 0 0.5 0 0.5 0 0.5 0 0.5 0 0.5 0 0.5 0 0.5 0 0.5 0 0.5 0 0.5 0 0.5 0 0.5 0 0.5 0 0.5 0 0.5 0 0.5 0 0.5 0 0.5 0 0.5 0 0.5 0 0.5 0 0.5 0 0.5 0 0.5 0 0.5 0 0.5 0 0.5 0 0.5 0 0.5 0 0.5 0 0.5 0 0.5 0 0.5 0 0.5 0 0.5 0 0.5 0 0.5 0 0.5 0 0.5 0 0.5 0 0.5 0 0.5 0 0.5 0 0.5 0 0.5 0 0.5 0 0.5 0 0.5 0 0.5 0 0.5 0 0.5 0 0.5 0 0.5 0 0.5 0 0.5 0 0.5 0 0.5 0 0.5 0 0.5 0 0.5 0 0.5 0 0.5 0 0.5 0 0.5 0 0.5 0 0.5 0 0.5 0 0.5 0 0.5 0 0.5 0 0.5 0 0.5 0 0.5 0 0.5 0 0.5 0 0.5 0 0.5 0 0.5 0 0.5 0 0.5 0 0.5 0 0.5 0 0.5 0 0.5 0 0.5 0 0.5 0 0.5 0 0.5 0 0.5 0 0.5 0 0.5 0 0.5 0 0.5 0 0.5 0 0.5 0 0.5 0 0.5 0 0.5 0 0.5 0 0.5 0 0.5 0 0.5 0 0.5 0 0.5 0 0.5 0 0.5 0 0.5 0 0.5 0 0.5 0 0.5 0 0.5 0 0.5 0 0.5 0 0.5 0 0.5 0 0.5 0 0.5 0 0.5 0 0.5 0 0.5 0 0.5 0 0.5 0 0.5 0 0.5 0 0.5 0 0.5 0 0.5 0 0.5 0 0.5 0 0.5 0 0.5 0 0.5 0 0.5 0 0.5 0 0.5 0 0.5 0 0.5 0 0.5 0 0.5 0 0.5 0 0.5 0 0.5 0 0.5 0 0.5 0 0.5 0 0.5 0 0.5 0 0.5 0 0.5 0 0.5 0 0.5 0 0.5 0 0.5 0 0.5 0 0.5 0 0.5 0 0.5 0 0.5 0 0.5 0 0.5 0 0.5 0 0.5 0 0.5 0 0.5 0 0.5 0 0.5 0 0.5 0 0.5 0 0.5 0 0.5 0 0.5 0 0.5 0 0.5 0 0.5 0 0.5 0 0.5 0 0.5 0 0.5 0 0.5 0 0.5 0 0.5 0 0.5 0 0.5 0 0.5 0 0.5 0 0.5 0 0.5 0 0.5 0 0.5 0 0.5 0 0.5 0 0.5 0 0.5 0 0.5 0 0.5 0 0.5 0 0.5 0 0.5 0 0.5 0 0.5 0 0.5 0 0.5 0 0.5 0 0.5 0 0.5 0 0.5 0 0.5 0 0.5 0 0.5 0 0.5 0 0.5 0 0.5 0 0.5 0 0.5 0 0.5 0 0.5 0 0.5 0 0.5 0 0.5 0 0.5 0 0.5 0 0.5 0 0.5 0 0.5 0 0.5 0 0.5 0 0.5 0 0.5 0 0.5 0 0.5 0 0.5 0 0.5 0 0.5 0 0.5 0 0.5 0 0.5 0 0.5 0 0.5 0 0.5 0 0.5 0 0.5 0 0.5 0 0.5 0 0.5 0 0.5 0 0.5 0 0.5 0 0.5 0 0.5 0 0.5 0 0.5 0 0.5 0 0.5 0 0.5 0 0.5 0 0.5 0 0.5 0 0.5 0 0.5 0 0.5 0 0.5 0 0.5 0 0.5 0 0.5 0 0.5 0 0.5 0 0.5 0 0.5 0 0.5 0 0.5 0 0.5 0 0.5 0 0.5 0 0.5 0 0.5 0 0.5 0 0.5 0 0.5 0 0.5 0 0.5 0 0.5 0 0.5 0 0.5 0 0.5 0 0.5 0 0.5 0 0.5 0 0.5 0 0.5 0 0.5 0 0.5 0 0.5 0 0.5 0 0.5 0 0.5 0 0.5 0 0.5 0 0.5 0 0.5 0 0.5 0 0.5 0 0.5 0 0.5 0 0.5 0 0.5 0 0.5 0 0.5 0 0.5 0 0.5 0 0.5 0 0.5 0 0.5 0 0.5 0 0.5 0 0.5 0 0.5 0 0.5 0 0.5 0 0.5 0 0.5 0 0.5 0 0.5 0 0.5 0 0.5 0 0.5 0 0.5 0 0.5 0 0.5 0 0.5 0 0.5 0 0.5 0 0.5 0 0.5 0 0.5 0 0.5 0 0.5 0 0.5 0 0.5 0 0.5 0 0.5 0 0.5 0 0.5 0 0.5 0 0.5 0 0.5 0 0.5 0 0.5 0 0.5 0 0.5 0 0.5 0 0.5 0 0.5 0 0.5 0 0.5 0 0.5 0 0.5 0 0.5 0 0.5 0 0.5 0 0.5 0 0.5 0 0.5 0 0.5 0 0.5 0 0.5 0 0.5 0 0.5 0 0.5 0 0.5 0 0.5 0 0.5 0 0.5 0 0.5 0 0.5 0 0.5 0 0.5 0 0.5 0 0.5 0 0.5 0 0.5 0 0.5 0 0.5 0 0.5 0 0.5 0 0.5 0 0.5 0 0.5 0 0.5 0 0.5 0 0.5 0 0.5 0 0.5 0 0.5 0 0.5 0 0.5 0 0.5 0 0.5 0 0.5 0 0.5 0 0.5 0 0.5 0 0.5 0 0.5 0 0.5 0 0.5 0 0.5 0 0.5 0 0.5 0 0.5 0 0.5 0 0.5 0 0.5 0 0.5 0 0.5 0 0.5 0 0.5 0 0.5 0 0.5 0 0.5 0 0.5 0 0.5 0 0.5 0 0.5 0 0.5 0 0.5 0 0.5 0 0.5 0 0.5 0 0.5 0 0.5 0 0.5 0 0.5 0 0.5 0 0.5 0 0.5 0 0.5 0 0.5 0 0.5 0 0.5 0 0.5 0 0.5 0 0.5 0 0.5 0 0.5 0 0.5 0 0.5 0 0.5 0 0.5 0 0.5 0 0.5 0 0.5 0 0.5 0 0.5 0 0.5 0 0.5 0 0.5 0 0.5 0 0.5 0 0.5 0 0.5 0 0.5 0 0.5 0 0.5 0 0.5 0 0.5 0 0.5 0 0.5 0 0.5 0 0.5 0 0.5 0 0.5 0 0.5 0 0.5 0 0.5 0 0.5 0 0.5 0 0.5 0 0.5 0 0.5 0 0.5 0 0.5 0 0.5 0 0.5 0 0.5 0 0.5 0 0.5 0 0.5 0 0.5 0 0.5 0 0.5 0 0.5 0 0.5 0 0.5 0 0.5 0 0.5 0 0.5 0 0.5 0 0.5 0 0.5 0 0.5 0 0.5 0 0.5 0 0.5 0 0.5 0 0.5 0 0.5 0 0.5 0 0.5 0 0.5 0 0.5 0 0.5 0 0.5 0 0.5 0 0.5 0 0.5 0 0.5 0 0.5 0 0.5 0 0.5 0 0.5 0 0.5 0 0.5 0 0.5 0 0.5 0 0.5 0 0.5 0 0.5 0 0.5 0 0.5 0 0.5 0 0.5 0 0.5 0 0.5 0 0.5 0 0.5 0 0.5 0 0.5 0 0.5 0 0.5 0 0.5 0 0.5 0 0.5 0 0.5 0 0.5 0 0.5 0 0.5 0 0.5 0 0.5 0 0.5 0 0.5 0 0.5 0 0.5 0 0.5 0 0.5 0 0.5 0"/><path id="cb" d="M135.5 347.4l0.5-0.3 0.5-0.3 0.5-0.3 0.5-0.3 0.5-0.3 0.5-0.3 0.5-0.3 0.5-0.2 0.5-0.1 0.5-0.1 0.5 0 0.5 0 0.5 0.2 0.5 0.2 0.5 0.3 0.5 0.4 0.5 0.4 0.5 0.4 0.5 0.4 0.5 0.2 0.5-0.4 0.5-0.4 0.5-0.5 0.5-0.5 0.5-0.5 0.5-0.4 0.5-0.3 0.5-0.3 0.5-0.2 0.5-0.1 0.5 0.1 0.5 0.1 0.5 0.2 0.5 0.3 0.5 0.4 0.5 0.5 0.5 0.5 0.5 0.6 0.5 0.5 0.5 0.5 0.5-0.4 0.5-0.6 0.5-0.6 0.5-0.6 0.5-0.5 0.5-0.5 0.5-0.4 0.5-0.4 0.5-0.2 0.5-0.1 0.5 0 0.5 0.1 0.5 0.3 0.5 0.3 0.5 0.5 0.5 0.5 0.5 0.6 0.5 0.6 0.5 0.7 0.5 0.5 0.5-0.1 0.5-0.6 0.5-0.7 0.5-0.7 0.5-0.6 0.5-0.6 0.5-0.5 0.5-0.4 0.5-0.3 0.5-0.1 0.5-0.1 0.5 0.1 0.5 0.3 0.5 0.4 0.5 0.4 0.5 0.6 0.5 0.7 0.5 0.7 0.5 0.7 0.5 0.7 0.5 0.1 0.5-0.7 0.5-0.7 0.5-0.8 0.5-0.7 0.5-0.7 0.5-0.6 0.5-0.5 0.5-0.4 0.5-0.3 0.5 0 0.5 0 0.5 0.3 0.5 0.3 0.5 0.5 0.5 0.7 0.5 0.7 0.5 0.8 0.5 0.9 0.5 0.8 0.5 0.5 0.5-0.7 0.5-0.9 0.5-0.9 0.5-0.9 0.5-0.9 0.5-0.8 0.5-0.6 0.5-0.5 0.5-0.4 0.5-0.1 0.5 0 0.5 0.2 0.5 0.4 0.5 0.6 0.5 0.7 0.5 0.9 0.5 0.9 0.5 1.1 0.5 1 0.5 0.9 0.5-0.6 0.5-1.1 0.5-1.1 0.5-1.1 0.5-1 0.5-1 0.5-0.8 0.5-0.7 0.5-0.5 0.5-0.2 0.5 0 0.5 0.2 0.5 0.4 0.5 0.7 0.5 0.8 0.5 1 0.5 1.1 0.5 1.2 0.5 1.3 0.5 1.1 0.5-0.1 0.5-1.2 0.5-1.3 0.5-1.3 0.5-1.3 0.5-1.1 0.5-1 0.5-0.9 0.5-0.6 0.5-0.3 0.5-0.1 0.5 0.2 0.5 0.4 0.5 0.7 0.5 1 0.5 1.1 0.5 1.3 0.5 1.3 0.5 1.4 0.5 1.4 0.5 0.5 0.5-1.3 0.5-1.4 0.5-1.5 0.5-1.5 0.5-1.4 0.5-1.1 0.5-1 0.5-0.8 0.5-0.4 0.5-0.2 0.5 0.1 0.5 0.5 0.5 0.7 0.5 1 0.5 1.2 0.5 1.4 0.5 1.6 0.5 1.5 0.5 1.6 0.5 1.3 0.5-1.3 0.5-1.6 0.5-1.7 0.5-1.6 0.5-1.6 0.5-1.3 0.5-1.2 0.5-0.9 0.5-0.5 0.5-0.3 0.5 0.1 0.5 0.4 0.5 0.7 0.5 1 0.5 1.3 0.5 1.5 0.5 1.7 0.5 1.7 0.5 1.7 0.5 1.6 0.5-0.7 0.5-1.7 0.5-1.8 0.5-1.9 0.5-1.7 0.5-1.5 0.5-1.4 0.5-1 0.5-0.8 0.5-0.4 0.5 0 0.5 0.3 0.5 0.7 0.5 1 0.5 1.4 0.5 1.6 0.5 1.7 0.5 2 0.5 1.9 0.5 1.8 0.5 0.1 0.5-1.8 0.5-2 0.5-2.1 0.5-2 0.5-1.8 0.5-1.6 0.5-1.3 0.5-1 0.5-0.6 0.5-0.1 0.5 0.2 0.5 0.7 0.5 1 0.5 1.4 0.5 1.8 0.5 1.9 0.5 2.2 0.5 2.2 0.5 2.2 0.5 1.1 0.5-2 0.5-2.2 0.5-2.4 0.5-2.3 0.5-2.2 0.5-1.9 0.5-1.5 0.5-1.2 0.5-0.8 0.5-0.3 0.5 0.1 0.5 0.7 0.5 1.1 0.5 1.5 0.5 1.9 0.5 2.2 0.5 2.4 0.5 2.5 0.5 2.4 0.5 2.2 0.5-1.8 0.5-2.5 0.5-2.6 0.5-2.6 0.5-2.5 0.5-2.2 0.5-1.8 0.5-1.5 0.5-1 0.5-0.4 0.5 0 0.5 0.6 0.5 1.1 0.5 1.6 0.5 2 0.5 2.3 0.5 2.6 0.5 2.8 0.5 2.7 0.5 2.6 0.5-0.7 0.5-2.7 0.5-2.9 0.5-2.9 0.5-2.7 0.5-2.6 0.5-2.1 0.5-1.8 0.5-1.2 0.5-0.7 0.5-0.1 0.5 0.5 0.5 1 0.5 1.6 0.5 2.1 0.5 2.5 0.5 2.9 0.5 3 0.5 3.1 0.5 2.9 0.5 0.7 0.5-2.9 0.5-3.1 0.5-3.3 0.5-3.1 0.5-2.9 0.5-2.5 0.5-2.1 0.5-1.5 0.5-0.9 0.5-0.3 0.5 0.3 0.5 1 0.5 1.6 0.5 2.2 0.5 2.7 0.5 3 0.5 3.3 0.5 3.4 0.5 3.4 0.5 2.3 0.5-2.9 0.5-3.5 0.5-3.6 0.5-3.5 0.5-3.3 0.5-2.9 0.5-2.5 0.5-1.9 0.5-1.2 0.5-0.5 0.5 0.2 0.5 0.9 0.5 1.6 0.5 2.2 0.5 2.9 0.5 3.2 0.5 3.7 0.5 3.7 0.5 3.8 0.5 3.4 0.5-2.1 0.5-3.8 0.5-4 0.5-3.9 0.5-3.8 0.5-3.4 0.5-2.8 0.5-2.3 0.5-1.6 0.5-0.8 0.5 0 0.5 0.8 0.5 1.6 0.5 2.3 0.5 3 0.5 3.5 0.5 3.9 0.5 4.2 0.5 4.2 0.5 4 0.5-0.3 0.5-4.1 0.5-4.4 0.5-4.5 0.5-4.2 0.5-3.9 0.5-3.4 0.5-2.7 0.5-2 0.5-1.1 0.5-0.2 0.5 0.6 0.5 1.5 0.5 2.4 0.5 3.1 0.5 3.8 0.5 4.3 0.5 4.6 0.5 4.7 0.5 4.5 0.5 1.9 0.5-4.3 0.5-4.9 0.5-4.9 0.5-4.8 0.5-4.4 0.5-3.9 0.5-3.2 0.5-2.4 0.5-1.5 0.5-0.6 0.5 0.5 0.5 1.4 0.5 2.4 0.5 3.2 0.5 4 0.5 4.6 0.5 5 0.5 5.2 0.5 5.1 0.5 4.3 0.5-4.3 0.5-5.2 0.5-5.5 0.5-5.3 0.5-5.1 0.5-4.5 0.5-3.7 0.5-3 0.5-1.9 0.5-0.9 0.5 0.1 0.5 1.3 0.5 2.3 0.5 3.4 0.5 4.2 0.5 4.9 0.5 5.4 0.5 5.8 0.5 5.7 0.5 5.2 0.5-2.2 0.5-5.7 0.5-6.1 0.5-6 0.5-5.8 0.5-5.3 0.5-4.5 0.5-3.6 0.5-2.5 0.5-1.4 0.5-0.2 0.5 1.1 0.5 2.3 0.5 3.4 0.5 4.4 0.5 5.4 0.5 6 0.5 6.4 0.5 6.5 0.5 6.2 0.5 0.6 0.5-6.2 0.5-6.8 0.5-6.9 0.5-6.7 0.5-6.1 0.5-5.4 0.5-4.3 0.5-3.2 0.5-1.9 0.5-0.6 0.5 0.9 0.5 2.2 0.5 3.6 0.5 4.7 0.5 5.8 0.5 6.6 0.5 7.1 0.5 7.4 0.5 7 0.5 4 0.5-6.5 0.5-7.4 0.5-7.6 0.5-7.5 0.5-7 0.5-6.2 0.5-5.2 0.5-3.9 0.5-2.5 0.5-1 0.5 0.6 0.5 2.1 0.5 3.6 0.5 5 0.5 6.2 0.5 7.1 0.5 7.8 0.5 7.9 0.5 7.6 0.5 6.2 0.5-4.9 0.5-7.6 0.5-8.2 0.5-8.2 0.5-8 0.5-7.2 0.5-6.1 0.5-4.9 0.5-3.3 0.5-1.6 0.5 0.1 0.5 2 0.5 3.6 0.5 5.3 0.5 6.6 0.5 7.7 0.5 8.3 0.5 8.6 0.5 8.1 0.5 6.7 0.5-1.6 0.5-7.4 0.5-8.5 0.5-9.1 0.5-8.9 0.5-8.4 0.5-7.4 0.5-6 0.5-4.3 0.5-2.5 0.5-0.4 0.5 1.7 0.5 3.7 0.5 5.5 0.5 7.2 0.5 8.3 0.5 9.1 0.5 9.2 0.5 8.6 0.5 7 0.5 1.4 0.5-6.5 0.5-8.5 0.5-9.5 0.5-9.8 0.5-9.5 0.5-8.7 0.5-7.3 0.5-5.5 0.5-3.4 0.5-1.1 0.5 1.4 0.5 3.7 0.5 5.9 0.5 7.7 0.5 9 0.5 9.7 0.5 9.7 0.5 8.8 0.5 6.8 0.5 3.2 0.5-4.5 0.5-7.6 0.5-9.3 0.5-10.2 0.5-10.3 0.5-9.8 0.5-8.6 0.5-6.8 0.5-4.5 0.5-2 0.5 0.8 0.5 3.6 0.5 6 0.5 8 0.5 9.5 0.5 10.2 0.5 9.9 0.5 8.9 0.5 6.8 0.5 3.4 0.5-2.1 0.5-6.1 0.5-8.6 0.5-10.2 0.5-10.9 0.5-10.8 0.5-9.9 0.5-8.1 0.5-5.9 0.5-3 0.5 0.1 0.5 3.2 0.5 5.9 0.5 8.3 0.5 9.9 0.5 10.6 0.5 10.3 0.5 9 0.5 6.7 0.5 3.6 0.5-0.5 0.5-4.3 0.5-7.4 0.5-9.6 0.5-11 0.5-11.5 0.5-10.9 0.5-9.5 0.5-7.1 0.5-4.1 0.5-0.8 0.5 2.6 0.5 5.8 0.5 8.4 0.5 10.3 0.5 11.2 0.5 10.9 0.5 9.6 0.5 7.4 0.5 4.3 0.5 0.7 0.5-3.1 0.5-6.4 0.5-9.1 0.5-11.1 0.5-12.1 0.5-11.9 0.5-10.6 0.5-8.4 0.5-5.4 0.5-1.8 0.5 1.8 0.5 5.4 0.5 8.4 0.5 10.5 0.5 11.6 0.5 11.6 0.5 10.5 0.5 8.3 0.5 5.3 0.5 1.7 0.5-2 0.5-5.8 0.5-8.8 0.5-11.2 0.5-12.5 0.5-12.7 0.5-11.7 0.5-9.6 0.5-6.6 0.5-3 0.5 0.9 0.5 4.6 0.5 8 0.5 10.4 0.5 12 0.5 12.3 0.5 11.4 0.5 9.5 0.5 6.4 0.5 2.9 0.5-1.1 0.5-5 0.5-8.5 0.5-11.2 0.5-13 0.5-13.4 0.5-12.7 0.5-10.9 0.5-7.9 0.5-4.3 0.5-0.2 0.5 3.8 0.5 7.4 0.5 10.4 0.5 12.3 0.5 13.1 0.5 12.4 0.5 10.7 0.5 7.8 0.5 4.1 0.5 0 0.5-4.2 0.5-8 0.5-11.3 0.5-13.3 0.5-14.3 0.5-13.8 0.5-12.2 0.5-9.4 0.5-5.7 0.5-1.4 0.5 2.9 0.5 6.9 0.5 10.3 0.5 12.7 0.5 13.8 0.5 13.5 0.5 12 0.5 9.2 0.5 5.5 0.5 1.3 0.5-3.3 0.5-7.4 0.5-11.1 0.5-13.5 0.5-15 0.5-14.8 0.5-13.4 0.5-10.7 0.5-7.1 0.5-2.7 0.5 1.9 0.5 6.2 0.5 10 0.5 12.8 0.5 14.3 0.5 14.4 0.5 13.2 0.5 10.6 0.5 6.9 0.5 2.5 0.5-2.1 0.5-6.6 0.5-10.6 0.5-13.6 0.5-15.3 0.5-15.7 0.5-14.6 0.5-12 0.5-8.5 0.5-4.1 0.5 0.7 0.5 5.3 0.5 9.5 0.5 12.6 0.5 14.7 0.5 15.1 0.5 14.3 0.5 11.8 0.5 8.4 0.5 3.9 0.5-0.8 0.5-5.7 0.5-10 0.5-13.4 0.5-15.6 0.5-16.4 0.5-15.6 0.5-13.4 0.5-10 0.5-5.6 0.5-0.6 0.5 4.2 0.5 8.7 0.5 12.4 0.5 14.9 0.5 15.8 0.5 15.2 0.5 13.2 0.5 9.8 0.5 5.5 0.5 0.5 0.5-4.6 0.5-9.3 0.5-13.1 0.5-15.8 0.5-17.1 0.5-16.6 0.5-14.8 0.5-11.5 0.5-7.1 0.5-2.1 0.5 3 0.5 8 0.5 12 0.5 14.9 0.5 16.3 0.5 16.2 0.5 14.5 0.5 11.3 0.5 6.9 0.5 2 0.5-3.4 0.5-8.3 0.5-12.6 0.5-15.8 0.5-17.4 0.5-17.5 0.5-16 0.5-12.8 0.5-8.7 0.5-3.6 0.5 1.7 0.5 6.9 0.5 11.4 0.5 14.7 0.5 16.6 0.5 16.8 0.5 15.6 0.5 12.6 0.5 8.4 0.5 3.4 0.5-1.9 0.5-7.3 0.5-11.9 0.5-15.5 0.5-17.6 0.5-18.1 0.5-17 0.5-14.2 0.5-10.1 0.5-5.2 0.5 0.3 0.5 5.7 0.5 10.5 0.5 14.2 0.5 16.7 0.5 17.4 0.5 16.4 0.5 13.8 0.5 10 0.5 4.9 0.5-0.5 0.5-6 0.5-10.9 0.5-14.9 0.5-17.6 0.5-18.4 0.5-17.8 0.5-15.4 0.5-11.5 0.5-6.7 0.5-1.2 0.5 4.3 0.5 9.5 0.5 13.6 0.5 16.4 0.5 17.7 0.5 17.2 0.5 14.9 0.5 11.3 0.5 6.5 0.5 1.1 0.5-4.6 0.5-9.8 0.5-14.1 0.5-17.2 0.5-18.7 0.5-18.4 0.5-16.4 0.5-12.9 0.5-8.2 0.5-2.7 0.5 2.9 0.5 8.3 0.5 12.8 0.5 16.1 0.5 17.8 0.5 17.7 0.5 15.9 0.5 12.7 0.5 8 0.5 2.6 0.5-3.1 0.5-8.5 0.5-13.2 0.5-16.7 0.5-18.6 0.5-18.7 0.5-17.3 0.5-14.1 0.5-9.6 0.5-4.3 0.5 1.5 0.5 6.9 0.5 11.8 0.5 15.5 0.5 17.6 0.5 18 0.5 16.8 0.5 13.7 0.5 9.5 0.5 4.2 0.5-1.5 0.5-7.2 0.5-12.1 0.5-16 0.5-18.4 0.5-19.1 0.5-17.9 0.5-15.3 0.5-11 0.5-5.8 0.5-0.2 0.5 5.6 0.5 10.7 0.5 14.7 0.5 17.4 0.5 18.3 0.5 17.4 0.5 14.8 0.5 10.9 0.5 5.7 0.5 0.1 0.5-5.7 0.5-10.8 0.5-15.2 0.5-17.9 0.5-19.1 0.5-18.5 0.5-16.1 0.5-12.3 0.5-7.3 0.5-1.7 0.5 4.1 0.5 9.4 0.5 13.8 0.5 16.9 0.5 18.2 0.5 17.9 0.5 15.7 0.5 12.1 0.5 7.3 0.5 1.6 0.5-4.1 0.5-9.5 0.5-14.1 0.5-17.4 0.5-18.9 0.5-18.9 0.5-16.9 0.5-13.5 0.5-8.8 0.5-3.3 0.5 2.6 0.5 8 0.5 12.7 0.5 16.2 0.5 18 0.5 18.2 0.5 16.5 0.5 13.2 0.5 8.7 0.5 3.2 0.5-2.6 0.5-8.1 0.5-13 0.5-16.6 0.5-18.7 0.5-19.1 0.5-17.6 0.5-14.6 0.5-10.2 0.5-4.8 0.5 1 0.5 6.6 0.5 11.5 0.5 15.4 0.5 17.6 0.5 18.3 0.5 17 0.5 14.3 0.5 9.9 0.5 4.7 0.5-1 0.5-6.6 0.5-11.7 0.5-15.7 0.5-18.2 0.5-19 0.5-18 0.5-15.4 0.5-11.4 0.5-6.2 0.5-0.6 0.5 5.1 0.5 10.2 0.5 14.3 0.5 17.1 0.5 18.1 0.5 17.3 0.5 15 0.5 11.1 0.5 6.1 0.5 0.6 0.5-5 0.5-10.2 0.5-14.5 0.5-17.4 0.5-18.6 0.5-18.1 0.5-16 0.5-12.3 0.5-7.6 0.5-2 0.5 3.5 0.5 8.7 0.5 13.2 0.5 16.1 0.5 17.7 0.5 17.4 0.5 15.5 0.5 12.1 0.5 7.5 0.5 2.1 0.5-3.5 0.5-8.7 0.5-13.2 0.5-16.4 0.5-18.2 0.5-18.1 0.5-16.4 0.5-13.2 0.5-8.8 0.5-3.6 0.5 2 0.5 7.3 0.5 11.8 0.5 15.2 0.5 17.1 0.5 17.3 0.5 15.9 0.5 13 0.5 8.6 0.5 3.6 0.5-1.8 0.5-7.2 0.5-11.8 0.5-15.4 0.5-17.4 0.5-18 0.5-16.7 0.5-14 0.5-9.8 0.5-5 0.5 0.5 0.5 5.8 0.5 10.6 0.5 14.3 0.5 16.5 0.5 17.3 0.5 16.2 0.5 13.8 0.5 9.8 0.5 5 0.5-0.3 0.5-5.7 0.5-10.4 0.5-14.3 0.5-16.8 0.5-17.7 0.5-16.9 0.5-14.5 0.5-10.9 0.5-6.2 0.5-1 0.5 4.4 0.5 9.1 0.5 13.1 0.5 15.8 0.5 16.8 0.5 16.4 0.5 14.2 0.5 10.7 0.5 6.3 0.5 1.1 0.5-4.1 0.5-9.1 0.5-13 0.5-15.8 0.5-17.2 0.5-16.8 0.5-15 0.5-11.8 0.5-7.3 0.5-2.4 0.5 2.9 0.5 7.7 0.5 11.9 0.5 14.9 0.5 16.3 0.5 16.4 0.5 14.6 0.5 11.6 0.5 7.5 0.5 2.5 0.5-2.7 0.5-7.5 0.5-11.8 0.5-14.9 0.5-16.6 0.5-16.8 0.5-15.3 0.5-12.4 0.5-8.5 0.5-3.6 0.5 1.4 0.5 6.3 0.5 10.7 0.5 13.8 0.5 15.8 0.5 16 0.5 14.9 0.5 12.3 0.5 8.4 0.5 3.8 0.5-1.3 0.5-6.1 0.5-10.4 0.5-13.7 0.5-15.8 0.5-16.4 0.5-15.3 0.5-12.9 0.5-9.4 0.5-4.8 0.5 0.1 0.5 4.9 0.5 9.2 0.5 12.7 0.5 14.9 0.5 15.7 0.5 14.8 0.5 12.7 0.5 9.2 0.5 5 0.5 0.2 0.5-4.7 0.5-9 0.5-12.6 0.5-14.9 0.5-15.8 0.5-15.2 0.5-13.3 0.5-10.1 0.5-6 0.5-1.2 0.5 3.5 0.5 7.8 0.5 11.5 0.5 13.9 0.5 15.1 0.5 14.8 0.5 12.9 0.5 10 0.5 6 0.5 1.4 0.5-3.2 0.5-7.6 0.5-11.4 0.5-13.9 0.5-15.2 0.5-15.1 0.5-13.6 0.5-10.7 0.5-6.9 0.5-2.5 0.5 2.1 0.5 6.6 0.5 10.3 0.5 13 0.5 14.5 0.5 14.6 0.5 13.2 0.5 10.6 0.5 7 0.5 2.7 0.5-1.9 0.5-6.3 0.5-10.1 0.5-12.9 0.5-14.5 0.5-14.8 0.5-13.7 0.5-11.2 0.5-7.8 0.5-3.6 0.5 0.9 0.5 5.2 0.5 9.1 0.5 12.1 0.5 13.8 0.5 14.3 0.5 13.3 0.5 11.2 0.5 7.8 0.5 3.8 0.5-0.5 0.5-5 0.5-8.8 0.5-11.9 0.5-13.8 0.5-14.4 0.5-13.7 0.5-11.7 0.5-8.6 0.5-4.6 0.5-0.4 0.5 4 0.5 8 0.5 11 0.5 13.1 0.5 14 0.5 13.4 0.5 11.5 0.5 8.6 0.5 4.9 0.5 0.6 0.5-3.7 0.5-7.6 0.5-10.9 0.5-13 0.5-14 0.5-13.6 0.5-12 0.5-9.2 0.5-5.6 0.5-1.5 0.5 2.8 0.5 6.7 0.5 10 0.5 12.3 0.5 13.4 0.5 13.2 0.5 11.8 0.5 9.1 0.5 5.8 0.5 1.7 0.5-2.5 0.5-6.3 0.5-9.7 0.5-12.1 0.5-13.3 0.5-13.3 0.5-12.1 0.5-9.7 0.5-6.3 0.5-2.6 0.5 1.6 0.5 5.5 0.5 8.8 0.5 11.3 0.5 12.7 0.5 12.9 0.5 11.8 0.5 9.6 0.5 6.5 0.5 2.7 0.5-1.2 0.5-5.2 0.5-8.5 0.5-11.2 0.5-12.6 0.5-13 0.5-12.1 0.5-10 0.5-7.1 0.5-3.5 0.5 0.4 0.5 4.3 0.5 7.6 0.5 10.3 0.5 12 0.5 12.4 0.5 11.8 0.5 9.8 0.5 7.1 0.5 3.7 0.5-0.2 0.5-3.9 0.5-7.3 0.5-10.1 0.5-11.8 0.5-12.5 0.5-11.9 0.5-10.2 0.5-7.7 0.5-4.3 0.5-0.6 0.5 3.1 0.5 6.6 0.5 9.3 0.5 11.2 0.5 12 0.5 11.6 0.5 10.1 0.5 7.7 0.5 4.5 0.5 0.9 0.5-2.8 0.5-6.2 0.5-9.1 0.5-11 0.5-11.9 0.5-11.7 0.5-10.4 0.5-8.1 0.5-5.1 0.5-1.5 0.5 2 0.5 5.5 0.5 8.3 0.5 10.3 0.5 11.4 0.5 11.3 0.5 10.2 0.5 8 0.5 5.2 0.5 1.8 0.5-1.8 0.5-5.1 0.5-8 0.5-10.1 0.5-11.2 0.5-11.4 0.5-10.3 0.5-8.4 0.5-5.7 0.5-2.4 0.5 1 0.5 4.4 0.5 7.2 0.5 9.4 0.5 10.7 0.5 10.9 0.5 10.1 0.5 8.3 0.5 5.7 0.5 2.7 0.5-0.7 0.5-4 0.5-6.9 0.5-9.1 0.5-10.5 0.5-10.9 0.5-10.2 0.5-8.6 0.5-6.2 0.5-3.2 0.5 0.1 0.5 3.3 0.5 6.3 0.5 8.6 0.5 10 0.5 10.6 0.5 10.1 0.5 8.6 0.5 6.4 0.5 3.4 0.5 0.2 0.5-2.9 0.5-6 0.5-8.3 0.5-9.9 0.5-10.5 0.5-10.1 0.5-8.9 0.5-6.7 0.5-3.9 0.5-0.8 0.5 2.4 0.5 5.3 0.5 7.7 0.5 9.4 0.5 10.2 0.5 9.9 0.5 8.7 0.5 6.8 0.5 4.1 0.5 1 0.5-2 0.5-5 0.5-7.4 0.5-9.2 0.5-10 0.5-10 0.5-8.9 0.5-7.1 0.5-4.5 0.5-1.6 0.5 1.4 0.5 4.4 0.5 6.9 0.5 8.6 0.5 9.7 0.5 9.6 0.5 8.8 0.5 7.1 0.5 4.7 0.5 1.9 0.5-1.2 0.5-4 0.5-6.5 0.5-8.5 0.5-9.5 0.5-9.7 0.5-8.9 0.5-7.4 0.5-5 0.5-2.4 0.5 0.6 0.5 3.5 0.5 6 0.5 8 0.5 9.1 0.5 9.5 0.5 8.8 0.5 7.5 0.5 5.2 0.5 2.6 0.5-0.3 0.5-3.1 0.5-5.7 0.5-7.8 0.5-9 0.5-9.4 0.5-9 0.5-7.6 0.5-5.6 0.5-3 0.5-0.2 0.5 2.6 0.5 5.2 0.5 7.3 0.5 8.7 0.5 9.2 0.5 8.8 0.5 7.7 0.5 5.7 0.5 3.3 0.5 0.5 0.5-2.4 0.5-4.9 0.5-7 0.5-8.5 0.5-9.1 0.5-8.9 0.5-7.9 0.5-6 0.5-3.7 0.5-0.9 0.5 1.9 0.5 4.4 0.5 6.6 0.5 8.2 0.5 8.8 0.5 8.7 0.5 7.8 0.5 6 0.5 3.7 0.5 1.1 0.5-1.6 0.5-4.2 0.5-6.4 0.5-8 0.5-8.7 0.5-8.7 0.5-7.8 0.5-6.3 0.5-4 0.5-1.5 0.5 1.2 0.5 3.7 0.5 5.9 0.5 7.5 0.5 8.3 0.5 8.4 0.5 7.6 0.5 6.1 0.5 4 0.5 1.6 0.5-1 0.5-3.6 0.5-5.6 0.5-7.3 0.5-8.2 0.5-8.3 0.5-7.6 0.5-6.3 0.5-4.3 0.5-2 0.5 0.6 0.5 3 0.5 5.1 0.5 6.8 0.5 7.7 0.5 7.9 0.5 7.4 0.5 6.1 0.5 4.2 0.5 2 0.5-0.4 0.5-2.8 0.5-4.9 0.5-6.6 0.5-7.5 0.5-7.9 0.5-7.3 0.5-6.3 0.5-4.4 0.5-2.4 0.5 0 0.5 2.4 0.5 4.4 0.5 6.1 0.5 7.1 0.5 7.5 0.5 7.2 0.5 6.1 0.5 4.4 0.5 2.5 0.5 0.1 0.5-2.1 0.5-4.2 0.5-5.9 0.5-7 0.5-7.4 0.5-7.2 0.5-6.2 0.5-4.7 0.5-2.7 0.5-0.5 0.5 1.8 0.5 3.8 0.5 5.5 0.5 6.7 0.5 7.2 0.5 7 0.5 6.2 0.5 4.7 0.5 2.8 0.5 0.7 0.5-1.5 0.5-3.7 0.5-5.3 0.5-6.5 0.5-7.2 0.5-7 0.5-6.3 0.5-4.8 0.5-3.1 0.5-1 0.5 1.3 0.5 3.2 0.5 5.1 0.5 6.2 0.5 6.9 0.5 6.9 0.5 6.2 0.5 4.9 0.5 3.2 0.5 1.1 0.5-1.1 0.5-3.1 0.5-4.8 0.5-6.1 0.5-6.8 0.5-6.8 0.5-6.3 0.5-5 0.5-3.3 0.5-1.4 0.5 0.7 0.5 2.7 0.5 4.5 0.5 5.8 0.5 6.5 0.5 6.7 0.5 6.1 0.5 5 0.5 3.4 0.5 1.5 0.5-0.6 0.5-2.5 0.5-4.3 0.5-5.6 0.5-6.4 0.5-6.5 0.5-6.2 0.5-5 0.5-3.6 0.5-1.7 0.5 0.2 0.5 2.2 0.5 3.9 0.5 5.3 0.5 6.1 0.5 6.3 0.5 5.9 0.5 5 0.5 3.6 0.5 1.8 0.5-0.1 0.5-2 0.5-3.7 0.5-5 0.5-6 0.5-6.2 0.5-5.9 0.5-5 0.5-3.7 0.5-2.1 0.5-0.1 0.5 1.6 0.5 3.4 0.5 4.7 0.5 5.6 0.5 6 0.5 5.7 0.5 5 0.5 3.7 0.5 2.1 0.5 0.3 0.5-1.5 0.5-3.1 0.5-4.6 0.5-5.4 0.5-5.8 0.5-5.7 0.5-5 0.5-3.8 0.5-2.3 0.5-0.5 0.5 1.2 0.5 2.8 0.5 4.2 0.5 5.2 0.5 5.6 0.5 5.5 0.5 4.9 0.5 3.8 0.5 2.4 0.5 0.7 0.5-1.1 0.5-2.6 0.5-4 0.5-5 0.5-5.5 0.5-5.4 0.5-4.9 0.5-3.9 0.5-2.5 0.5-0.9 0.5 0.8 0.5 2.3 0.5 3.8 0.5 4.7 0.5 5.3 0.5 5.3 0.5 4.8 0.5 3.9 0.5 2.6 0.5 1 0.5-0.6 0.5-2.2 0.5-3.6 0.5-4.5 0.5-5.2 0.5-5.2 0.5-4.8 0.5-3.9 0.5-2.7 0.5-1.2 0.5 0.4 0.5 1.9 0.5 3.3 0.5 4.3 0.5 5 0.5 5.1 0.5 4.7 0.5 3.9 0.5 2.8 0.5 1.3 0.5-0.2 0.5-1.8 0.5-3.1 0.5-4.2 0.5-4.8 0.5-5 0.5-4.7 0.5-3.9 0.5-2.9 0.5-1.5 0.5 0.1 0.5 1.5 0.5 2.9 0.5 3.9 0.5 4.7 0.5 4.8 0.5 4.6 0.5 4 0.5 2.9 0.5 1.5 0.5 0.1 0.5-1.3 0.5-2.7 0.5-3.8 0.5-4.4 0.5-4.8 0.5-4.6 0.5-3.9 0.5-3 0.5-1.7 0.5-0.3 0.5 1.2 0.5 2.5 0.5 3.5 0.5 4.3 0.5 4.6 0.5 4.5 0.5 3.9 0.5 3 0.5 1.7 0.5 0.5 0.5-1 0.5-2.3 0.5-3.4 0.5-4.1 0.5-4.5 0.5-4.4 0.5-3.9 0.5-3.1 0.5-1.9 0.5-0.5 0.5 0.8 0.5 2 0.5 3.2 0.5 3.9 0.5 4.3 0.5 4.3 0.5 3.9 0.5 3 0.5 2 0.5 0.7 0.5-0.7 0.5-1.9 0.5-3 0.5-3.8 0.5-4.2 0.5-4.2 0.5-3.8 0.5-3.1 0.5-2.1 0.5-0.8 0.5 0.5 0.5 1.7 0.5 2.8 0.5 3.5 0.5 4.1 0.5 4.1 0.5 3.7 0.5 3.1 0.5 2.1 0.5 0.9 0.5-0.3 0.5-1.6 0.5-2.6 0.5-3.4 0.5-4 0.5-4 0.5-3.7 0.5-3.1 0.5-2.2 0.5-1 0.5 0.1 0.5 1.4 0.5 2.4 0.5 3.3 0.5 3.7 0.5 3.9 0.5 3.7 0.5 3.1 0.5 2.2 0.5 1.1 0.5 0 0.5-1.3 0.5-2.2 0.5-3.1 0.5-3.7 0.5-3.8 0.5-3.6 0.5-3.1 0.5-2.3 0.5-1.3 0.5-0.1 0.5 1.1 0.5 2.1 0.5 2.9 0.5 3.5 0.5 3.7 0.5 3.6 0.5 3.1 0.5 2.3 0.5 1.4 0.5 0.2 0.5-0.9 0.5-2 0.5-2.8 0.5-3.4 0.5-3.6 0.5-3.6 0.5-3.1 0.5-2.3 0.5-1.5 0.5-0.3 0.5 0.8 0.5 1.8 0.5 2.6 0.5 3.3 0.5 3.5 0.5 3.5 0.5 3.1 0.5 2.5 0.5 1.5 0.5 0.4 0.5-0.6 0.5-1.7 0.5-2.5 0.5-3.2 0.5-3.4 0.5-3.5 0.5-3.1 0.5-2.5 0.5-1.6 0.5-0.5 0.5 0.5 0.5 1.5 0.5 2.4 0.5 3.1 0.5 3.3 0.5 3.5 0.5 3.1 0.5 2.5 0.5 1.6 0.5 0.7 0.5-0.4 0.5-1.4 0.5-2.3 0.5-2.9 0.5-3.3 0.5-3.4 0.5-3.1 0.5-2.5 0.5-1.7 0.5-0.8 0.5 0.2 0.5 1.3 0.5 2.2 0.5 2.8 0.5 3.2 0.5 3.3 0.5 3.1 0.5 2.6 0.5 1.8 0.5 0.9 0.5-0.2 0.5-1.1 0.5-2.1 0.5-2.7 0.5-3.1 0.5-3.3 0.5-3 0.5-2.6 0.5-1.9 0.5-1 0.5 0.1 0.5 1 0.5 1.9 0.5 2.6 0.5 3 0.5 3.2 0.5 3.1 0.5 2.6 0.5 1.9 0.5 1 0.5 0.1 0.5-0.9 0.5-1.8 0.5-2.5 0.5-2.9 0.5-3.2 0.5-3 0.5-2.6 0.5-1.9 0.5-1.2 0.5-0.2 0.5 0.8 0.5 1.7 0.5 2.3 0.5 2.8 0.5 3.1 0.5 3 0.5 2.6 0.5 1.9 0.5 1.2 0.5 0.3 0.5-0.7 0.5-1.5 0.5-2.2 0.5-2.8 0.5-2.9 0.5-3 0.5-2.6 0.5-2 0.5-1.2 0.5-0.4 0.5 0.5 0.5 1.4 0.5 2.1 0.5 2.6 0.5 2.9 0.5 2.9 0.5 2.5 0.5 2.1 0.5 1.3 0.5 0.4 0.5-0.4 0.5-1.3 0.5-2 0.5-2.5 0.5-2.8 0.5-2.8 0.5-2.6 0.5-2 0.5-1.4 0.5-0.5 0.5 0.3 0.5 1.1 0.5 1.9 0.5 2.4 0.5 2.7 0.5 2.7 0.5 2.6 0.5 2 0.5 1.4 0.5 0.6 0.5-0.2 0.5-1 0.5-1.8 0.5-2.3 0.5-2.6 0.5-2.7 0.5-2.5 0.5-2 0.5-1.5 0.5-0.7 0.5 0.1 0.5 1 0.5 1.6 0.5 2.2 0.5 2.5 0.5 2.6 0.5 2.5 0.5 2 0.5 1.5 0.5 0.7 0.5 0 0.5-0.8 0.5-1.5 0.5-2.1 0.5-2.4 0.5-2.5 0.5-2.4 0.5-2.1 0.5-1.5 0.5-0.8 0.5-0.1 0.5 0.7 0.5 1.5 0.5 1.9 0.5 2.3 0.5 2.5 0.5 2.4 0.5 2 0.5 1.5 0.5 0.9 0.5 0.1 0.5-0.6 0.5-1.3 0.5-1.8 0.5-2.2 0.5-2.4 0.5-2.3 0.5-2 0.5-1.6 0.5-0.9 0.5-0.2 0.5 0.5 0.5 1.2 0.5 1.7 0.5 2.2 0.5 2.3 0.5 2.2 0.5 2 0.5 1.6 0.5 0.9 0.5 0.3 0.5-0.4 0.5-1.1 0.5-1.6 0.5-2 0.5-2.3 0.5-2.2 0.5-2 0.5-1.5 0.5-1 0.5-0.4 0.5 0.4 0.5 0.9 0.5 1.6 0.5 1.9 0.5 2.2 0.5 2.1 0.5 2 0.5 1.6 0.5 1 0.5 0.4 0.5-0.2 0.5-0.9 0.5-1.5 0.5-1.8 0.5-2.1 0.5-2.1 0.5-1.9 0.5-1.6 0.5-1.1 0.5-0.5 0.5 0.2 0.5 0.8 0.5 1.3 0.5 1.8 0.5 2 0.5 2.1 0.5 1.9 0.5 1.6 0.5 1.1 0.5 0.5 0.5-0.1 0.5-0.7 0.5-1.3 0.5-1.6 0.5-2 0.5-2 0.5-1.9 0.5-1.6 0.5-1.1 0.5-0.6 0.5 0.1 0.5 0.6 0.5 1.1 0.5 1.6 0.5 1.9 0.5 2 0.5 1.8 0.5 1.6 0.5 1.2 0.5 0.6 0.5 0 0.5-0.5 0.5-1.1 0.5-1.5 0.5-1.8 0.5-1.9 0.5-1.9 0.5-1.6 0.5-1.1 0.5-0.7 0.5-0.1 0.5 0.4 0.5 1 0.5 1.5 0.5 1.7 0.5 1.9 0.5 1.8 0.5 1.6 0.5 1.2 0.5 0.7 0.5 0.2 0.5-0.4 0.5-1 0.5-1.4 0.5-1.6 0.5-1.9 0.5-1.8 0.5-1.6 0.5-1.2 0.5-0.8 0.5-0.2 0.5 0.3 0.5 0.9 0.5 1.3 0.5 1.6 0.5 1.8 0.5 1.7 0.5 1.6 0.5 1.3 0.5 0.8 0.5 0.3 0.5-0.3 0.5-0.8 0.5-1.2 0.5-1.6 0.5-1.7 0.5-1.8 0.5-1.6 0.5-1.3 0.5-0.8 0.5-0.4 0.5 0.2 0.5 0.7 0.5 1.2 0.5 1.5 0.5 1.7 0.5 1.7 0.5 1.6 0.5 1.3 0.5 0.9 0.5 0.4 0.5-0.1 0.5-0.7 0.5-1.1 0.5-1.5 0.5-1.6 0.5-1.8 0.5-1.6 0.5-1.3 0.5-0.9 0.5-0.5 0.5 0.1 0.5 0.6 0.5 1 0.5 1.4 0.5 1.7 0.5 1.7 0.5 1.5 0.5 1.4 0.5 0.9 0.5 0.5 0.5 0 0.5-0.5 0.5-1 0.5-1.4 0.5-1.6 0.5-1.6 0.5-1.6 0.5-1.4 0.5-1 0.5-0.5 0.5-0.1 0.5 0.5 0.5 0.9 0.5 1.3 0.5 1.5 0.5 1.7 0.5 1.6 0.5 1.3 0.5 1.1 0.5 0.5 0.5 0.1 0.5-0.4 0.5-0.9 0.5-1.2 0.5-1.5 0.5-1.6 0.5-1.6 0.5-1.4 0.5-1.1 0.5-0.6 0.5-0.2 0.5 0.4 0.5 0.8 0.5 1.2 0.5 1.4 0.5 1.6 0.5 1.6 0.5 1.4 0.5 1.1 0.5 0.6 0.5 0.2 0.5-0.3 0.5-0.7 0.5-1.2 0.5-1.4 0.5-1.5 0.5-1.6 0.5-1.4 0.5-1.1 0.5-0.7 0.5-0.3 0.5 0.2 0.5 0.7 0.5 1.1 0.5 1.4 0.5 1.5 0.5 1.6 0.5 1.4 0.5 1.1 0.5 0.7 0.5 0.3 0.5-0.1 0.5-0.7 0.5-1 0.5-1.4 0.5-1.5 0.5-1.5 0.5-1.4 0.5-1.2 0.5-0.8 0.5-0.3 0.5 0.1 0.5 0.6 0.5 0.9 0.5 1.3 0.5 1.5 0.5 1.5 0.5 1.4 0.5 1.2 0.5 0.8 0.5 0.4 0.5-0.1 0.5-0.5 0.5-0.9 0.5-1.3 0.5-1.4 0.5-1.5 0.5-1.4 0.5-1.2 0.5-0.9 0.5-0.4 0.5 0 0.5 0.4 0.5 0.9 0.5 1.2 0.5 1.4 0.5 1.5 0.5 1.4 0.5 1.2 0.5 0.9 0.5 0.5 0.5 0 0.5-0.4 0.5-0.8 0.5-1.2 0.5-1.4 0.5-1.4 0.5-1.4 0.5-1.3 0.5-0.9 0.5-0.5 0.5-0.1 0.5 0.4 0.5 0.7 0.5 1.1 0.5 1.4 0.5 1.4 0.5 1.4 0.5 1.2 0.5 1 0.5 0.5 0.5 0.2 0.5-0.3 0.5-0.8 0.5-1 0.5-1.3 0.5-1.5 0.5-1.4 0.5-1.2 0.5-1 0.5-0.6 0.5-0.1 0.5 0.2 0.5 0.7 0.5 1 0.5 1.3 0.5 1.3 0.5 1.4 0.5 1.3 0.5 0.9 0.5 0.7 0.5 0.2 0.5-0.2 0.5-0.6 0.5-1 0.5-1.2 0.5-1.4 0.5-1.4 0.5-1.2 0.5-1 0.5-0.7 0.5-0.3 0.5 0.2 0.5 0.6 0.5 0.9 0.5 1.2 0.5 1.3 0.5 1.3 0.5 1.3 0.5 1 0.5 0.7 0.5 0.3 0.5-0.1 0.5-0.5 0.5-0.9 0.5-1.1 0.5-1.3 0.5-1.4 0.5-1.2 0.5-1.1 0.5-0.7 0.5-0.4 0.5 0.1 0.5 0.4 0.5 0.9 0.5 1.1 0.5 1.3 0.5 1.3 0.5 1.2 0.5 1.1 0.5 0.8 0.5 0.3 0.5 0 0.5-0.4 0.5-0.8 0.5-1 0.5-1.3 0.5-1.3 0.5-1.3 0.5-1 0.5-0.8 0.5-0.5 0.5 0 0.5 0.4 0.5 0.7 0.5 1 0.5 1.3 0.5 1.2 0.5 1.3 0.5 1.1 0.5 0.8 0.5 0.4 0.5 0.1 0.5-0.3 0.5-0.7 0.5-1 0.5-1.2 0.5-1.3 0.5-1.2 0.5-1.1 0.5-0.8 0.5-0.5 0.5-0.2 0.5 0.3 0.5 0.7 0.5 0.9 0.5 1.2 0.5 1.2 0.5 1.3 0.5 1 0.5 0.9 0.5 0.5 0.5 0.2 0.5-0.2 0.5-0.6 0.5-0.9 0.5-1.2 0.5-1.2 0.5-1.2 0.5-1.1 0.5-0.9 0.5-0.6 0.5-0.2 0.5 0.2 0.5 0.5 0.5 0.9 0.5 1.1 0.5 1.2 0.5 1.2 0.5 1.1 0.5 0.9 0.5 0.6 0.5 0.2 0.5-0.1 0.5-0.5 0.5-0.8 0.5-1.1 0.5-1.2 0.5-1.2 0.5-1.1 0.5-0.9 0.5-0.6 0.5-0.3 0.5 0.1 0.5 0.5 0.5 0.7 0.5 1.1 0.5 1.1 0.5 1.2 0.5 1.1 0.5 0.9 0.5 0.7 0.5 0.3 0.5-0.1 0.5-0.4 0.5-0.7 0.5-1 0.5-1.1 0.5-1.2 0.5-1.1 0.5-1 0.5-0.6 0.5-0.4 0.5 0 0.5 0.4 0.5 0.7 0.5 0.9 0.5 1.1 0.5 1.2 0.5 1.1 0.5 0.9 0.5 0.7 0.5 0.4 0.5 0 0.5-0.3 0.5-0.7 0.5-0.9 0.5-1 0.5-1.2 0.5-1.1 0.5-0.9 0.5-0.7 0.5-0.5 0.5 0 0.5 0.3 0.5 0.6 0.5 0.8 0.5 1.1 0.5 1.1 0.5 1.1 0.5 0.9 0.5 0.8 0.5 0.4 0.5 0.1 0.5-0.3 0.5-0.5 0.5-0.8 0.5-1.1 0.5-1.1 0.5-1 0.5-1 0.5-0.7 0.5-0.5 0.5-0.1 0.5 0.2 0.5 0.5 0.5 0.8 0.5 0.9 0.5 1.1 0.5 1.1 0.5 0.9 0.5 0.8 0.5 0.5 0.5 0.1 0.5-0.1 0.5-0.5 0.5-0.8 0.5-0.9 0.5-1 0.5-1.1 0.5-1 0.5-0.7 0.5-0.5 0.5-0.2 0.5 0.1 0.5 0.4 0.5 0.7 0.5 0.9 0.5 1.1 0.5 1 0.5 0.9 0.5 0.8 0.5 0.5 0.5 0.3 0.5-0.1 0.5-0.4 0.5-0.7 0.5-0.9 0.5-0.9 0.5-1.1 0.5-0.9 0.5-0.8 0.5-0.5 0.5-0.3 0.5 0 0.5 0.4 0.5 0.6 0.5 0.9 0.5 0.9 0.5 1 0.5 0.9 0.5 0.8 0.5 0.6 0.5 0.3 0.5 0 0.5-0.4 0.5-0.5 0.5-0.8 0.5-1 0.5-0.9 0.5-1 0.5-0.8 0.5-0.5 0.5-0.4 0.5 0 0.5 0.3 0.5 0.5 0.5 0.8 0.5 0.9 0.5 0.9 0.5 1 0.5 0.7 0.5 0.6 0.5 0.4 0.5 0 0.5-0.2 0.5-0.5 0.5-0.8 0.5-0.8 0.5-0.9 0.5-0.9 0.5-0.8 0.5-0.6 0.5-0.4 0.5-0.1 0.5 0.2 0.5 0.5 0.5 0.7 0.5 0.8 0.5 0.9 0.5 0.9 0.5 0.8 0.5 0.6 0.5 0.4 0.5 0.1 0.5-0.2 0.5-0.4 0.5-0.7 0.5-0.8 0.5-0.9 0.5-0.8 0.5-0.8 0.5-0.6 0.5-0.4 0.5-0.2 0.5 0.2 0.5 0.4 0.5 0.6 0.5 0.7 0.5 0.9 0.5 0.9 0.5 0.7 0.5 0.6 0.5 0.5 0.5 0.1 0.5-0.1 0.5-0.3 0.5-0.6 0.5-0.8 0.5-0.8 0.5-0.8 0.5-0.8 0.5-0.6 0.5-0.4 0.5-0.2 0.5 0 0.5 0.4 0.5 0.5 0.5 0.7 0.5 0.8 0.5 0.8 0.5 0.8 0.5 0.6 0.5 0.5 0.5 0.2 0.5-0.1 0.5-0.3 0.5-0.5 0.5-0.6 0.5-0.8 0.5-0.8 0.5-0.8 0.5-0.6 0.5-0.5 0.5-0.2 0.5 0 0.5 0.3 0.5 0.5 0.5 0.6 0.5 0.7 0.5 0.8 0.5 0.8 0.5 0.6 0.5 0.5 0.5 0.2 0.5 0 0.5-0.2 0.5-0.4 0.5-0.6 0.5-0.8 0.5-0.7 0.5-0.8 0.5-0.6 0.5-0.5 0.5-0.2 0.5-0.1 0.5 0.2 0.5 0.4 0.5 0.6 0.5 0.7 0.5 0.8 0.5 0.7 0.5 0.6 0.5 0.5 0.5 0.3 0.5 0.1 0.5-0.2 0.5-0.4 0.5-0.5 0.5-0.7 0.5-0.7 0.5-0.8 0.5-0.6 0.5-0.5 0.5-0.3 0.5-0.1 0.5 0.2 0.5 0.3 0.5 0.5 0.5 0.7 0.5 0.7 0.5 0.7 0.5 0.6 0.5 0.5 0.5 0.4 0.5 0.1 0.5-0.1 0.5-0.3 0.5-0.5 0.5-0.7 0.5-0.6 0.5-0.7 0.5-0.7 0.5-0.5 0.5-0.3 0.5-0.1 0.5 0.1 0.5 0.2 0.5 0.5 0.5 0.6 0.5 0.7 0.5 0.7 0.5 0.6 0.5 0.5 0.5 0.3 0.5 0.2 0.5-0.1 0.5-0.2 0.5-0.5 0.5-0.5 0.5-0.7 0.5-0.6 0.5-0.6 0.5-0.6 0.5-0.3 0.5-0.2 0.5 0.1 0.5 0.2 0.5 0.4 0.5 0.6 0.5 0.6 0.5 0.6 0.5 0.6 0.5 0.6 0.5 0.3 0.5 0.2 0.5 0 0.5-0.2 0.5-0.4 0.5-0.5 0.5-0.6 0.5-0.6 0.5-0.6 0.5-0.5 0.5-0.4 0.5-0.2 0.5 0 0.5 0.2 0.5 0.3 0.5 0.5 0.5 0.6 0.5 0.6 0.5 0.6 0.5 0.5 0.5 0.4 0.5 0.2 0.5 0 0.5-0.1 0.5-0.3 0.5-0.5 0.5-0.6 0.5-0.6 0.5-0.5 0.5-0.6 0.5-0.3 0.5-0.3 0.5 0 0.5 0.1 0.5 0.3 0.5 0.5 0.5 0.5 0.5 0.6 0.5 0.6 0.5 0.5 0.5 0.4 0.5 0.2 0.5 0.1 0.5-0.1 0.5-0.3 0.5-0.4 0.5-0.5 0.5-0.6 0.5-0.6 0.5-0.5 0.5-0.4 0.5-0.2 0.5-0.1 0.5 0.1 0.5 0.2 0.5 0.4 0.5 0.5 0.5 0.6 0.5 0.5 0.5 0.5 0.5 0.4 0.5 0.3 0.5 0.1 0.5-0.1 0.5-0.2 0.5-0.4 0.5-0.4 0.5-0.6 0.5-0.5 0.5-0.5 0.5-0.4 0.5-0.3 0.5-0.1 0.5 0 0.5 0.2 0.5 0.4 0.5 0.5 0.5 0.5 0.5 0.5 0.5 0.5 0.5 0.4 0.5 0.3 0.5 0.1 0.5 0 0.5-0.2 0.5-0.3 0.5-0.5 0.5-0.5 0.5-0.5 0.5-0.5 0.5-0.4 0.5-0.3 0.5-0.1 0.5 0 0.5 0.1 0.5 0.3 0.5 0.5 0.5 0.5 0.5 0.5 0.5 0.5 0.5 0.4 0.5 0.3 0.5 0.1 0.5 0 0.5-0.1 0.5-0.3 0.5-0.4 0.5-0.5 0.5-0.5 0.5-0.5 0.5-0.4 0.5-0.3 0.5-0.2 0.5 0 0.5 0.1 0.5 0.3 0.5 0.4 0.5 0.4 0.5 0.5 0.5 0.5 0.5 0.4 0.5 0.3 0.5 0.2 0.5 0.1 0.5-0.1 0.5-0.3 0.5-0.4 0.5-0.4 0.5-0.5 0.5-0.5 0.5-0.4 0.5-0.3 0.5-0.2 0.5-0.1 0.5 0.1 0.5 0.3 0.5 0.3 0.5 0.4 0.5 0.5 0.5 0.5 0.5 0.4 0.5 0.3 0.5 0.2 0.5 0.1 0.5-0.1 0.5-0.2 0.5-0.3 0.5-0.4 0.5-0.5 0.5-0.5 0.5-0.4 0.5-0.3 0.5-0.2 0.5-0.1 0.5 0 0.5 0.2 0.5 0.3 0.5 0.4 0.5 0.5 0.5 0.4 0.5 0.4 0.5 0.4 0.5 0.2 0.5 0.1 0.5 0 0.5-0.2 0.5-0.3 0.5-0.4 0.5-0.4 0.5-0.5 0.5-0.4 0.5-0.3 0.5-0.3 0.5-0.1 0.5 0 0.5 0.2 0.5 0.3 0.5 0.3 0.5 0.4 0.5 0.5 0.5 0.4 0.5 0.3 0.5 0.3 0.5 0.1 0.5 0 0.5-0.2 0.5-0.2 0.5-0.4 0.5-0.4 0.5-0.4 0.5-0.4 0.5-0.4 0.5-0.2 0.5-0.1 0.5-0.1 0.5 0.2 0.5 0.2 0.5 0.3 0.5 0.4 0.5 0.4 0.5 0.4 0.5 0.4 0.5 0.2 0.5 0.2 0.5 0 0.5-0.1 0.5-0.2 0.5-0.3 0.5-0.4 0.5-0.4 0.5-0.4 0.5-0.4 0.5-0.2 0.5-0.2 0.5 0 0.5 0.1 0.5 0.2 0.5 0.3 0.5 0.3 0.5 0.4 0.5 0.4 0.5 0.4 0.5 0.2 0.5 0.2 0.5 0 0.5-0.1 0.5-0.1 0.5-0.3 0.5-0.4 0.5-0.4 0.5-0.4 0.5-0.3 0.5-0.3 0.5-0.1 0.5-0.1 0.5 0.1 0.5 0.1 0.5 0.3 0.5 0.3 0.5 0.4 0.5 0.4 0.5 0.3 0.5 0.3 0.5 0.2 0.5 0 0.5 0 0.5-0.2 0.5-0.2 0.5-0.4 0.5-0.3 0.5-0.4 0.5-0.3 0.5-0.3 0.5-0.2 0.5-0.1 0.5 0.1 0.5 0.1 0.5 0.2 0.5 0.3 0.5 0.4 0.5 0.3 0.5 0.4 0.5 0.3 0.5 0.1 0.5 0.1 0.5 0 0.5-0.1 0.5-0.2 0.5-0.3 0.5-0.4 0.5-0.3 0.5-0.4 0.5-0.3 0.5-0.1 0.5-0.2 0.5 0.1 0.5 0.1 0.5 0.2 0.5 0.3 0.5 0.3 0.5 0.3 0.5 0.3 0.5 0.3 0.5 0.2 0.5 0.1 0.5 0 0.5-0.1 0.5-0.2 0.5-0.2 0.5-0.4 0.5-0.3 0.5-0.3 0.5-0.3 0.5-0.2 0.5-0.1 0.5 0 0.5 0 0.5 0.2 0.5 0.3 0.5 0.3 0.5 0.3 0.5 0.3 0.5 0.3 0.5 0.2 0.5 0.1 0.5 0 0.5 0 0.5-0.2 0.5-0.2 0.5-0.3 0.5-0.4 0.5-0.3 0.5-0.2 0.5-0.3 0.5-0.1 0.5 0 0.5 0 0.5 0.2 0.5 0.2 0.5 0.3 0.5 0.3 0.5 0.3 0.5 0.3 0.5 0.2 0.5 0.1 0.5 0 0.5 0 0.5-0.1 0.5-0.3 0.5-0.2 0.5-0.3 0.5-0.3 0.5-0.3 0.5-0.2 0.5-0.2 0.5 0 0.5 0 0.5 0.1 0.5 0.2 0.5 0.3 0.5 0.3 0.5 0.3 0.5 0.2 0.5 0.2 0.5 0.2 0.5 0 0.5 0 0.5-0.1 0.5-0.2 0.5-0.2 0.5-0.3 0.5-0.3 0.5-0.3 0.5-0.2 0.5-0.1 0.5-0.1 0.5 0 0.5 0.1 0.5 0.2 0.5 0.2 0.5 0.3 0.5 0.2 0.5 0.3 0.5 0.2 0.5 0.2 0.5 0 0.5 0 0.5-0.1 0.5-0.1 0.5-0.2 0.5-0.3 0.5-0.3 0.5-0.2 0.5-0.3 0.5-0.1 0.5-0.1 0.5 0 0.5 0.1 0.5 0.1 0.5 0.2 0.5 0.3 0.5 0.2 0.5 0.3 0.5 0.2"/></defs>
<g fill="none" stroke-linejoin="round" clip-path="url(#clipA)">
<use href="#cb" stroke="#7cc4ee" stroke-width="3.4" opacity="0.42"/>
<use href="#cb" stroke="#1273bb" stroke-width="1.2"/>
<use href="#cy" stroke="#f7dc8c" stroke-width="3.4" opacity="0.42"/>
<use href="#cy" stroke="#ebb02e" stroke-width="1.2"/>
<use href="#cg" stroke="#c3de98" stroke-width="3.4" opacity="0.42"/>
<use href="#cg" stroke="#79aa3a" stroke-width="1.2"/>
<path d="M950 21.6l0.5-2.5 0.5-0.9 0.5 0.8 0.5 2.3 0.5 3.8 0.5 4.7 0.5 5.3 0.5 5.3 0.5 4.8 0.5 3.9 0.5 2.6 0.5 1 0.5-0.6 0.5-2.2 0.5-3.6 0.5-4.5 0.5-5.2 0.5-5.2 0.5-4.8 0.5-3.9 0.5-2.7 0.5-1.2 0.5 0.4 0.5 1.9 0.5 3.3 0.5 4.3 0.5 5 0.5 5.1 0.5 4.7 0.5 3.9 0.5 2.8 0.5 1.3 0.5-0.2 0.5-1.8 0.5-3.1 0.5-4.2 0.5-4.8 0.5-5 0.5-4.7 0.5-3.9 0.5-2.9 0.5-1.5 0.5 0.1 0.5 1.5 0.5 2.9 0.5 3.9 0.5 4.7 0.5 4.8 0.5 4.6 0.5 4 0.5 2.9 0.5 1.5 0.5 0.1 0.5-1.3 0.5-2.7 0.5-3.8 0.5-4.4 0.5-4.8 0.5-4.6 0.5-3.9 0.5-3 0.5-1.7 0.5-0.3 0.5 1.2 0.5 2.5 0.5 3.5 0.5 4.3 0.5 4.6 0.5 4.5 0.5 3.9 0.5 3 0.5 1.7 0.5 0.5 0.5-1 0.5-2.3 0.5-3.4 0.5-4.1 0.5-4.5 0.5-4.4 0.5-3.9 0.5-3.1 0.5-1.9 0.5-0.5 0.5 0.8 0.5 2 0.5 3.2 0.5 3.9 0.5 4.3 0.5 4.3 0.5 3.9 0.5 3 0.5 2 0.5 0.7 0.5-0.7 0.5-1.9 0.5-3 0.5-3.8 0.5-4.2 0.5-4.2 0.5-3.8 0.5-3.1 0.5-2.1 0.5-0.8 0.5 0.5 0.5 1.7 0.5 2.8 0.5 3.5 0.5 4.1 0.5 4.1 0.5 3.7 0.5 3.1 0.5 2.1 0.5 0.9 0.5-0.3 0.5-1.6 0.5-2.6 0.5-3.4 0.5-4 0.5-4 0.5-3.7 0.5-3.1 0.5-2.2 0.5-1 0.5 0.1 0.5 1.4 0.5 2.4 0.5 3.3 0.5 3.7 0.5 3.9 0.5 3.7 0.5 3.1 0.5 2.2 0.5 1.1 0.5 0 0.5-1.3 0.5-2.2 0.5-3.1 0.5-3.7 0.5-3.8 0.5-3.6 0.5-3.1 0.5-2.3 0.5-1.3 0.5-0.1 0.5 1.1 0.5 2.1 0.5 2.9 0.5 3.5 0.5 3.7 0.5 3.6 0.5 3.1 0.5 2.3 0.5 1.4 0.5 0.2 0.5-0.9 0.5-2 0.5-2.8 0.5-3.4 0.5-3.6 0.5-3.6 0.5-3.1 0.5-2.3 0.5-1.5 0.5-0.3 0.5 0.8 0.5 1.8 0.5 2.6 0.5 3.3 0.5 3.5 0.5 3.5 0.5 3.1 0.5 2.5 0.5 1.5 0.5 0.4 0.5-0.6 0.5-1.7 0.5-2.5 0.5-3.2 0.5-3.4 0.5-3.5 0.5-3.1 0.5-2.5 0.5-1.6 0.5-0.5 0.5 0.5 0.5 1.5 0.5 2.4 0.5 3.1 0.5 3.3 0.5 3.5 0.5 3.1 0.5 2.5 0.5 1.6 0.5 0.7 0.5-0.4 0.5-1.4 0.5-2.3 0.5-2.9 0.5-3.3 0.5-3.4 0.5-3.1 0.5-2.5 0.5-1.7 0.5-0.8 0.5 0.2 0.5 1.3 0.5 2.2 0.5 2.8 0.5 3.2 0.5 3.3 0.5 3.1 0.5 2.6 0.5 1.8 0.5 0.9 0.5-0.2 0.5-1.1 0.5-2.1 0.5-2.7 0.5-3.1 0.5-3.3 0.5-3 0.5-2.6 0.5-1.9 0.5-1 0.5 0.1 0.5 1 0.5 1.9 0.5 2.6 0.5 3 0.5 3.2 0.5 3.1 0.5 2.6 0.5 1.9 0.5 1 0.5 0.1 0.5-0.9 0.5-1.8 0.5-2.5 0.5-2.9 0.5-3.2 0.5-3 0.5-2.6 0.5-1.9 0.5-1.2 0.5-0.2 0.5 0.8 0.5 1.7 0.5 2.3 0.5 2.8 0.5 3.1 0.5 3 0.5 2.6 0.5 1.9 0.5 1.2" stroke="#0a6db8" stroke-width="1.5"/><path d="M1077 43.3l0.5 0.3 0.5-0.7 0.5-1.5 0.5-2.2 0.5-2.8 0.5-2.9 0.5-3 0.5-2.6 0.5-2 0.5-1.2 0.5-0.4 0.5 0.5 0.5 1.4 0.5 2.1 0.5 2.6 0.5 2.9 0.5 2.9 0.5 2.5 0.5 2.1 0.5 1.3 0.5 0.4 0.5-0.4 0.5-1.3 0.5-2 0.5-2.5 0.5-2.8 0.5-2.8 0.5-2.6 0.5-2 0.5-1.4 0.5-0.5 0.5 0.3 0.5 1.1 0.5 1.9 0.5 2.4 0.5 2.7 0.5 2.7 0.5 2.6 0.5 2 0.5 1.4 0.5 0.6 0.5-0.2 0.5-1 0.5-1.8 0.5-2.3 0.5-2.6 0.5-2.7 0.5-2.5 0.5-2 0.5-1.5 0.5-0.7 0.5 0.1 0.5 1 0.5 1.6 0.5 2.2 0.5 2.5 0.5 2.6 0.5 2.5 0.5 2 0.5 1.5 0.5 0.7 0.5 0 0.5-0.8 0.5-1.5 0.5-2.1 0.5-2.4 0.5-2.5 0.5-2.4 0.5-2.1 0.5-1.5 0.5-0.8 0.5-0.1 0.5 0.7 0.5 1.5 0.5 1.9 0.5 2.3 0.5 2.5 0.5 2.4 0.5 2 0.5 1.5 0.5 0.9 0.5 0.1 0.5-0.6 0.5-1.3 0.5-1.8 0.5-2.2 0.5-2.4 0.5-2.3 0.5-2 0.5-1.6 0.5-0.9 0.5-0.2 0.5 0.5 0.5 1.2 0.5 1.7 0.5 2.2 0.5 2.3 0.5 2.2 0.5 2 0.5 1.6 0.5 0.9 0.5 0.3 0.5-0.4 0.5-1.1 0.5-1.6 0.5-2 0.5-2.3 0.5-2.2 0.5-2 0.5-1.5 0.5-1 0.5-0.4 0.5 0.4 0.5 0.9 0.5 1.6 0.5 1.9 0.5 2.2 0.5 2.1 0.5 2 0.5 1.6 0.5 1 0.5 0.4 0.5-0.2 0.5-0.9 0.5-1.5 0.5-1.8 0.5-2.1 0.5-2.1 0.5-1.9 0.5-1.6 0.5-1.1 0.5-0.5 0.5 0.2 0.5 0.8 0.5 1.3 0.5 1.8 0.5 2 0.5 2.1 0.5 1.9 0.5 1.6 0.5 1.1 0.5 0.5 0.5-0.1 0.5-0.7 0.5-1.3 0.5-1.6 0.5-2 0.5-2 0.5-1.9 0.5-1.6 0.5-1.1 0.5-0.6 0.5 0.1 0.5 0.6 0.5 1.1 0.5 1.6 0.5 1.9 0.5 2 0.5 1.8 0.5 1.6 0.5 1.2 0.5 0.6 0.5 0 0.5-0.5 0.5-1.1 0.5-1.5 0.5-1.8 0.5-1.9 0.5-1.9 0.5-1.6 0.5-1.1 0.5-0.7 0.5-0.1 0.5 0.4 0.5 1 0.5 1.5 0.5 1.7 0.5 1.9 0.5 1.8 0.5 1.6 0.5 1.2 0.5 0.7 0.5 0.2 0.5-0.4 0.5-1 0.5-1.4 0.5-1.6 0.5-1.9 0.5-1.8 0.5-1.6 0.5-1.2 0.5-0.8 0.5-0.2 0.5 0.3 0.5 0.9 0.5 1.3 0.5 1.6 0.5 1.8 0.5 1.7 0.5 1.6 0.5 1.3 0.5 0.8 0.5 0.3 0.5-0.3 0.5-0.8 0.5-1.2 0.5-1.6 0.5-1.7 0.5-1.8 0.5-1.6 0.5-1.3 0.5-0.8 0.5-0.4 0.5 0.2 0.5 0.7 0.5 1.2 0.5 1.5 0.5 1.7 0.5 1.7 0.5 1.6 0.5 1.3 0.5 0.9 0.5 0.4 0.5-0.1 0.5-0.7 0.5-1.1 0.5-1.5 0.5-1.6 0.5-1.8 0.5-1.6 0.5-1.3 0.5-0.9 0.5-0.5 0.5 0.1 0.5 0.6 0.5 1 0.5 1.4 0.5 1.7 0.5 1.7 0.5 1.5 0.5 1.4 0.5 0.9 0.5 0.5 0.5 0 0.5-0.5 0.5-1 0.5-1.4 0.5-1.6 0.5-1.6 0.5-1.6 0.5-1.4 0.5-1 0.5-0.5 0.5-0.1 0.5 0.5 0.5 0.9 0.5 1.3 0.5 1.5 0.5 1.7 0.5 1.6 0.5 1.3 0.5 1.1 0.5 0.5 0.5 0.1 0.5-0.4 0.5-0.9 0.5-1.2 0.5-1.5 0.5-1.6 0.5-1.6 0.5-1.4 0.5-1.1 0.5-0.6 0.5-0.2 0.5 0.4 0.5 0.8 0.5 1.2 0.5 1.4 0.5 1.6 0.5 1.6 0.5 1.4 0.5 1.1 0.5 0.6 0.5 0.2 0.5-0.3 0.5-0.7 0.5-1.2 0.5-1.4 0.5-1.5 0.5-1.6 0.5-1.4 0.5-1.1 0.5-0.7 0.5-0.3 0.5 0.2 0.5 0.7 0.5 1.1 0.5 1.4 0.5 1.5 0.5 1.6 0.5 1.4 0.5 1.1 0.5 0.7 0.5 0.3 0.5-0.1 0.5-0.7" stroke="#0a6db8" stroke-width="1.8"/><path d="M1230 37.3l0.5-1 0.5-1.4 0.5-1.5 0.5-1.5 0.5-1.4 0.5-1.2 0.5-0.8 0.5-0.3 0.5 0.1 0.5 0.6 0.5 0.9 0.5 1.3 0.5 1.5 0.5 1.5 0.5 1.4 0.5 1.2 0.5 0.8 0.5 0.4 0.5-0.1 0.5-0.5 0.5-0.9 0.5-1.3 0.5-1.4 0.5-1.5 0.5-1.4 0.5-1.2 0.5-0.9 0.5-0.4 0.5 0 0.5 0.4 0.5 0.9 0.5 1.2 0.5 1.4 0.5 1.5 0.5 1.4 0.5 1.2 0.5 0.9 0.5 0.5 0.5 0 0.5-0.4 0.5-0.8 0.5-1.2 0.5-1.4 0.5-1.4 0.5-1.4 0.5-1.3 0.5-0.9 0.5-0.5 0.5-0.1 0.5 0.4 0.5 0.7 0.5 1.1 0.5 1.4 0.5 1.4 0.5 1.4 0.5 1.2 0.5 1 0.5 0.5 0.5 0.2 0.5-0.3 0.5-0.8 0.5-1 0.5-1.3 0.5-1.5 0.5-1.4 0.5-1.2 0.5-1 0.5-0.6 0.5-0.1 0.5 0.2 0.5 0.7 0.5 1 0.5 1.3 0.5 1.3 0.5 1.4 0.5 1.3 0.5 0.9 0.5 0.7 0.5 0.2 0.5-0.2 0.5-0.6 0.5-1 0.5-1.2 0.5-1.4 0.5-1.4 0.5-1.2 0.5-1 0.5-0.7 0.5-0.3 0.5 0.2 0.5 0.6 0.5 0.9 0.5 1.2 0.5 1.3 0.5 1.3 0.5 1.3 0.5 1 0.5 0.7 0.5 0.3 0.5-0.1 0.5-0.5 0.5-0.9 0.5-1.1 0.5-1.3 0.5-1.4 0.5-1.2 0.5-1.1 0.5-0.7 0.5-0.4 0.5 0.1 0.5 0.4 0.5 0.9 0.5 1.1 0.5 1.3 0.5 1.3 0.5 1.2 0.5 1.1 0.5 0.8 0.5 0.3 0.5 0 0.5-0.4 0.5-0.8 0.5-1 0.5-1.3 0.5-1.3 0.5-1.3 0.5-1 0.5-0.8 0.5-0.5 0.5 0 0.5 0.4 0.5 0.7 0.5 1 0.5 1.3 0.5 1.2 0.5 1.3 0.5 1.1 0.5 0.8 0.5 0.4 0.5 0.1 0.5-0.3 0.5-0.7 0.5-1 0.5-1.2 0.5-1.3 0.5-1.2 0.5-1.1 0.5-0.8 0.5-0.5 0.5-0.2 0.5 0.3 0.5 0.7 0.5 0.9 0.5 1.2 0.5 1.2 0.5 1.3 0.5 1 0.5 0.9 0.5 0.5 0.5 0.2 0.5-0.2 0.5-0.6 0.5-0.9 0.5-1.2 0.5-1.2 0.5-1.2 0.5-1.1 0.5-0.9 0.5-0.6 0.5-0.2 0.5 0.2 0.5 0.5 0.5 0.9 0.5 1.1 0.5 1.2 0.5 1.2 0.5 1.1 0.5 0.9 0.5 0.6 0.5 0.2 0.5-0.1 0.5-0.5 0.5-0.8 0.5-1.1 0.5-1.2 0.5-1.2 0.5-1.1 0.5-0.9 0.5-0.6 0.5-0.3 0.5 0.1 0.5 0.5 0.5 0.7 0.5 1.1 0.5 1.1 0.5 1.2 0.5 1.1 0.5 0.9 0.5 0.7 0.5 0.3 0.5-0.1 0.5-0.4 0.5-0.7 0.5-1 0.5-1.1 0.5-1.2 0.5-1.1 0.5-1 0.5-0.6 0.5-0.4 0.5 0 0.5 0.4 0.5 0.7 0.5 0.9 0.5 1.1 0.5 1.2 0.5 1.1 0.5 0.9 0.5 0.7 0.5 0.4 0.5 0 0.5-0.3 0.5-0.7 0.5-0.9 0.5-1 0.5-1.2 0.5-1.1 0.5-0.9 0.5-0.7 0.5-0.5 0.5 0 0.5 0.3 0.5 0.6 0.5 0.8 0.5 1.1 0.5 1.1 0.5 1.1 0.5 0.9 0.5 0.8 0.5 0.4 0.5 0.1 0.5-0.3 0.5-0.5 0.5-0.8 0.5-1.1 0.5-1.1 0.5-1 0.5-1 0.5-0.7 0.5-0.5 0.5-0.1 0.5 0.2 0.5 0.5 0.5 0.8 0.5 0.9 0.5 1.1 0.5 1.1 0.5 0.9 0.5 0.8 0.5 0.5 0.5 0.1 0.5-0.1 0.5-0.5 0.5-0.8 0.5-0.9 0.5-1 0.5-1.1 0.5-1 0.5-0.7 0.5-0.5 0.5-0.2 0.5 0.1 0.5 0.4 0.5 0.7 0.5 0.9 0.5 1.1 0.5 1 0.5 0.9 0.5 0.8 0.5 0.5 0.5 0.3 0.5-0.1 0.5-0.4 0.5-0.7 0.5-0.9 0.5-0.9 0.5-1.1 0.5-0.9 0.5-0.8 0.5-0.5 0.5-0.3 0.5 0 0.5 0.4 0.5 0.6 0.5 0.9 0.5 0.9 0.5 1 0.5 0.9 0.5 0.8 0.5 0.6 0.5 0.3 0.5 0 0.5-0.4 0.5-0.5 0.5-0.8 0.5-1 0.5-0.9 0.5-1 0.5-0.8 0.5-0.5 0.5-0.4 0.5 0 0.5 0.3 0.5 0.5 0.5 0.8 0.5 0.9 0.5 0.9 0.5 1 0.5 0.7 0.5 0.6 0.5 0.4 0.5 0 0.5-0.2 0.5-0.5 0.5-0.8 0.5-0.8 0.5-0.9 0.5-0.9 0.5-0.8 0.5-0.6 0.5-0.4 0.5-0.1 0.5 0.2 0.5 0.5 0.5 0.7 0.5 0.8 0.5 0.9 0.5 0.9 0.5 0.8 0.5 0.6 0.5 0.4 0.5 0.1 0.5-0.2 0.5-0.4 0.5-0.7 0.5-0.8 0.5-0.9 0.5-0.8 0.5-0.8 0.5-0.6 0.5-0.4 0.5-0.2 0.5 0.2 0.5 0.4 0.5 0.6 0.5 0.7" stroke="#0a6db8" stroke-width="2.1"/><path d="M1408 31.5l0.5 0.9 0.5 0.9 0.5 0.7 0.5 0.6 0.5 0.5 0.5 0.1 0.5-0.1 0.5-0.3 0.5-0.6 0.5-0.8 0.5-0.8 0.5-0.8 0.5-0.8 0.5-0.6 0.5-0.4 0.5-0.2 0.5 0 0.5 0.4 0.5 0.5 0.5 0.7 0.5 0.8 0.5 0.8 0.5 0.8 0.5 0.6 0.5 0.5 0.5 0.2 0.5-0.1 0.5-0.3 0.5-0.5 0.5-0.6 0.5-0.8 0.5-0.8 0.5-0.8 0.5-0.6 0.5-0.5 0.5-0.2 0.5 0 0.5 0.3 0.5 0.5 0.5 0.6 0.5 0.7 0.5 0.8 0.5 0.8 0.5 0.6 0.5 0.5 0.5 0.2 0.5 0 0.5-0.2 0.5-0.4 0.5-0.6 0.5-0.8 0.5-0.7 0.5-0.8 0.5-0.6 0.5-0.5 0.5-0.2 0.5-0.1 0.5 0.2 0.5 0.4 0.5 0.6 0.5 0.7 0.5 0.8 0.5 0.7 0.5 0.6 0.5 0.5 0.5 0.3 0.5 0.1 0.5-0.2 0.5-0.4 0.5-0.5 0.5-0.7 0.5-0.7 0.5-0.8 0.5-0.6 0.5-0.5 0.5-0.3 0.5-0.1 0.5 0.2 0.5 0.3 0.5 0.5 0.5 0.7 0.5 0.7 0.5 0.7 0.5 0.6 0.5 0.5 0.5 0.4 0.5 0.1 0.5-0.1 0.5-0.3 0.5-0.5 0.5-0.7 0.5-0.6 0.5-0.7 0.5-0.7 0.5-0.5 0.5-0.3 0.5-0.1 0.5 0.1 0.5 0.2 0.5 0.5 0.5 0.6 0.5 0.7 0.5 0.7 0.5 0.6 0.5 0.5 0.5 0.3 0.5 0.2 0.5-0.1 0.5-0.2 0.5-0.5 0.5-0.5 0.5-0.7 0.5-0.6 0.5-0.6 0.5-0.6 0.5-0.3 0.5-0.2 0.5 0.1 0.5 0.2 0.5 0.4 0.5 0.6 0.5 0.6 0.5 0.6 0.5 0.6 0.5 0.6 0.5 0.3 0.5 0.2 0.5 0 0.5-0.2 0.5-0.4 0.5-0.5 0.5-0.6 0.5-0.6 0.5-0.6 0.5-0.5 0.5-0.4 0.5-0.2 0.5 0 0.5 0.2 0.5 0.3 0.5 0.5 0.5 0.6 0.5 0.6 0.5 0.6 0.5 0.5 0.5 0.4 0.5 0.2 0.5 0 0.5-0.1 0.5-0.3 0.5-0.5 0.5-0.6 0.5-0.6 0.5-0.5 0.5-0.6 0.5-0.3 0.5-0.3 0.5 0 0.5 0.1 0.5 0.3 0.5 0.5 0.5 0.5 0.5 0.6 0.5 0.6 0.5 0.5 0.5 0.4 0.5 0.2 0.5 0.1 0.5-0.1 0.5-0.3 0.5-0.4 0.5-0.5 0.5-0.6 0.5-0.6 0.5-0.5 0.5-0.4 0.5-0.2 0.5-0.1 0.5 0.1 0.5 0.2 0.5 0.4 0.5 0.5 0.5 0.6 0.5 0.5 0.5 0.5 0.5 0.4 0.5 0.3 0.5 0.1 0.5-0.1 0.5-0.2 0.5-0.4 0.5-0.4 0.5-0.6 0.5-0.5 0.5-0.5 0.5-0.4 0.5-0.3 0.5-0.1 0.5 0 0.5 0.2 0.5 0.4 0.5 0.5 0.5 0.5 0.5 0.5 0.5 0.5 0.5 0.4 0.5 0.3 0.5 0.1 0.5 0 0.5-0.2 0.5-0.3 0.5-0.5 0.5-0.5 0.5-0.5 0.5-0.5 0.5-0.4 0.5-0.3 0.5-0.1 0.5 0 0.5 0.1 0.5 0.3 0.5 0.5 0.5 0.5 0.5 0.5 0.5 0.5 0.5 0.4 0.5 0.3 0.5 0.1 0.5 0 0.5-0.1 0.5-0.3 0.5-0.4 0.5-0.5 0.5-0.5 0.5-0.5 0.5-0.4 0.5-0.3 0.5-0.2 0.5 0 0.5 0.1 0.5 0.3 0.5 0.4 0.5 0.4 0.5 0.5 0.5 0.5 0.5 0.4 0.5 0.3 0.5 0.2 0.5 0.1 0.5-0.1 0.5-0.3 0.5-0.4 0.5-0.4 0.5-0.5 0.5-0.5 0.5-0.4 0.5-0.3 0.5-0.2 0.5-0.1 0.5 0.1 0.5 0.3 0.5 0.3 0.5 0.4 0.5 0.5 0.5 0.5 0.5 0.4 0.5 0.3 0.5 0.2 0.5 0.1 0.5-0.1 0.5-0.2 0.5-0.3 0.5-0.4 0.5-0.5 0.5-0.5 0.5-0.4 0.5-0.3 0.5-0.2 0.5-0.1 0.5 0 0.5 0.2 0.5 0.3 0.5 0.4 0.5 0.5 0.5 0.4 0.5 0.4 0.5 0.4 0.5 0.2 0.5 0.1 0.5 0 0.5-0.2 0.5-0.3 0.5-0.4 0.5-0.4 0.5-0.5 0.5-0.4 0.5-0.3 0.5-0.3 0.5-0.1 0.5 0 0.5 0.2 0.5 0.3 0.5 0.3 0.5 0.4 0.5 0.5 0.5 0.4 0.5 0.3 0.5 0.3 0.5 0.1 0.5 0 0.5-0.2 0.5-0.2 0.5-0.4 0.5-0.4 0.5-0.4 0.5-0.4 0.5-0.4 0.5-0.2 0.5-0.1 0.5-0.1 0.5 0.2 0.5 0.2 0.5 0.3 0.5 0.4 0.5 0.4 0.5 0.4 0.5 0.4 0.5 0.2 0.5 0.2 0.5 0 0.5-0.1 0.5-0.2 0.5-0.3 0.5-0.4 0.5-0.4 0.5-0.4 0.5-0.4 0.5-0.2 0.5-0.2 0.5 0 0.5 0.1 0.5 0.2 0.5 0.3 0.5 0.3 0.5 0.4 0.5 0.4 0.5 0.4 0.5 0.2 0.5 0.2 0.5 0 0.5-0.1 0.5-0.1 0.5-0.3 0.5-0.4 0.5-0.4 0.5-0.4 0.5-0.3 0.5-0.3 0.5-0.1 0.5-0.1 0.5 0.1 0.5 0.1 0.5 0.3 0.5 0.3 0.5 0.4 0.5 0.4 0.5 0.3 0.5 0.3 0.5 0.2 0.5 0 0.5 0 0.5-0.2 0.5-0.2 0.5-0.4 0.5-0.3 0.5-0.4 0.5-0.3 0.5-0.3 0.5-0.2 0.5-0.1 0.5 0.1 0.5 0.1 0.5 0.2 0.5 0.3 0.5 0.4 0.5 0.3 0.5 0.4 0.5 0.3 0.5 0.1 0.5 0.1 0.5 0 0.5-0.1 0.5-0.2 0.5-0.3 0.5-0.4 0.5-0.3 0.5-0.4 0.5-0.3 0.5-0.1 0.5-0.2 0.5 0.1 0.5 0.1 0.5 0.2 0.5 0.3 0.5 0.3 0.5 0.3 0.5 0.3 0.5 0.3 0.5 0.2 0.5 0.1 0.5 0 0.5-0.1 0.5-0.2 0.5-0.2 0.5-0.4 0.5-0.3 0.5-0.3 0.5-0.3 0.5-0.2 0.5-0.1 0.5 0 0.5 0 0.5 0.2 0.5 0.3 0.5 0.3 0.5 0.3 0.5 0.3 0.5 0.3 0.5 0.2 0.5 0.1 0.5 0 0.5 0 0.5-0.2 0.5-0.2 0.5-0.3 0.5-0.4 0.5-0.3 0.5-0.2 0.5-0.3 0.5-0.1 0.5 0 0.5 0 0.5 0.2 0.5 0.2 0.5 0.3 0.5 0.3 0.5 0.3 0.5 0.3 0.5 0.2 0.5 0.1 0.5 0 0.5 0 0.5-0.1 0.5-0.3 0.5-0.2 0.5-0.3 0.5-0.3 0.5-0.3 0.5-0.2 0.5-0.2 0.5 0 0.5 0 0.5 0.1 0.5 0.2 0.5 0.3 0.5 0.3 0.5 0.3 0.5 0.2 0.5 0.2 0.5 0.2 0.5 0 0.5 0 0.5-0.1 0.5-0.2 0.5-0.2 0.5-0.3 0.5-0.3 0.5-0.3 0.5-0.2 0.5-0.1 0.5-0.1 0.5 0 0.5 0.1 0.5 0.2 0.5 0.2 0.5 0.3 0.5 0.2 0.5 0.3 0.5 0.2 0.5 0.2 0.5 0 0.5 0 0.5-0.1 0.5-0.1 0.5-0.2 0.5-0.3 0.5-0.3 0.5-0.2 0.5-0.3 0.5-0.1 0.5-0.1 0.5 0 0.5 0.1 0.5 0.1 0.5 0.2 0.5 0.3 0.5 0.2 0.5 0.3 0.5 0.2" stroke="#0a6db8" stroke-width="2.4"/>
<path d="M950 337.7l0.5 3.5 0.5 2 0.5-1.8 0.5-3.3 0.5-4.1 0.5-4.5 0.5-4.4 0.5-4.2 0.5-3.5 0.5-2.7 0.5-1.8 0.5-0.7 0.5 0.4 0.5 1.5 0.5 2.6 0.5 3.3 0.5 4 0.5 4.4 0.5 4.4 0.5 4.1 0.5 3.4 0.5 2.2 0.5-0.8 0.5-2.8 0.5-3.8 0.5-4.2 0.5-4.3 0.5-4.1 0.5-3.6 0.5-2.9 0.5-2 0.5-0.9 0.5 0.2 0.5 1.2 0.5 2.3 0.5 3.1 0.5 3.8 0.5 4.2 0.5 4.2 0.5 4 0.5 3.4 0.5 2.4 0.5-0.1 0.5-2.3 0.5-3.4 0.5-3.9 0.5-4.2 0.5-4 0.5-3.7 0.5-3 0.5-2.1 0.5-1.2 0.5-0.1 0.5 1 0.5 2.1 0.5 2.9 0.5 3.5 0.5 4 0.5 4.1 0.5 4 0.5 3.3 0.5 2.4 0.5 0.6 0.5-1.8 0.5-3 0.5-3.7 0.5-3.9 0.5-4 0.5-3.7 0.5-3.1 0.5-2.3 0.5-1.4 0.5-0.3 0.5 0.8 0.5 1.7 0.5 2.7 0.5 3.4 0.5 3.8 0.5 4 0.5 3.8 0.5 3.3 0.5 2.5 0.5 1.1 0.5-1.3 0.5-2.6 0.5-3.4 0.5-3.8 0.5-3.9 0.5-3.7 0.5-3.2 0.5-2.4 0.5-1.6 0.5-0.5 0.5 0.5 0.5 1.5 0.5 2.5 0.5 3.1 0.5 3.7 0.5 3.8 0.5 3.8 0.5 3.3 0.5 2.6 0.5 1.4 0.5-0.8 0.5-2.3 0.5-3 0.5-3.6 0.5-3.8 0.5-3.7 0.5-3.2 0.5-2.6 0.5-1.8 0.5-0.7 0.5 0.2 0.5 1.3 0.5 2.2 0.5 3 0.5 3.5 0.5 3.7 0.5 3.7 0.5 3.3 0.5 2.7 0.5 1.5 0.5-0.2 0.5-1.9 0.5-2.8 0.5-3.4 0.5-3.6 0.5-3.6 0.5-3.3 0.5-2.7 0.5-1.9 0.5-1 0.5 0 0.5 1.1 0.5 2 0.5 2.7 0.5 3.3 0.5 3.6 0.5 3.7 0.5 3.3 0.5 2.6 0.5 1.7 0.5 0.2 0.5-1.4 0.5-2.5 0.5-3.2 0.5-3.5 0.5-3.5 0.5-3.3 0.5-2.8 0.5-2.1 0.5-1.1 0.5-0.2 0.5 0.8 0.5 1.8 0.5 2.5 0.5 3.2 0.5 3.4 0.5 3.5 0.5 3.3 0.5 2.7 0.5 1.8 0.5 0.6 0.5-1.1 0.5-2.2 0.5-2.8 0.5-3.4 0.5-3.4 0.5-3.3 0.5-2.8 0.5-2.2 0.5-1.4 0.5-0.3 0.5 0.5 0.5 1.6 0.5 2.3 0.5 3 0.5 3.3 0.5 3.4 0.5 3.2 0.5 2.6 0.5 1.9 0.5 0.8 0.5-0.7 0.5-1.8 0.5-2.5 0.5-3.1 0.5-3.3 0.5-3.2 0.5-2.9 0.5-2.3 0.5-1.5 0.5-0.6 0.5 0.3 0.5 1.3 0.5 2.2 0.5 2.7 0.5 3.2 0.5 3.3 0.5 3.1 0.5 2.6 0.5 2 0.5 0.9 0.5-0.3 0.5-1.4 0.5-2.3 0.5-2.9 0.5-3.1 0.5-3.2 0.5-2.9 0.5-2.3 0.5-1.7 0.5-0.8 0.5 0.2 0.5 1 0.5 1.9 0.5 2.6 0.5 3 0.5 3.2 0.5 3 0.5 2.6 0.5 2 0.5 1.1 0.5-0.1 0.5-1.1 0.5-1.9 0.5-2.6 0.5-3 0.5-3 0.5-2.9 0.5-2.5 0.5-1.8 0.5-0.9 0.5-0.1 0.5 0.9 0.5 1.6 0.5 2.4 0.5 2.8 0.5 3.1 0.5 2.9 0.5 2.6 0.5 2 0.5 1.2 0.5 0.2 0.5-0.8 0.5-1.7 0.5-2.3 0.5-2.8 0.5-2.9 0.5-2.9 0.5-2.5 0.5-1.9 0.5-1.1" stroke="#e8a81c" stroke-width="1.5"/><path d="M1077 320.9l0.5-0.3 0.5 0.7 0.5 1.4 0.5 2.2 0.5 2.7 0.5 2.9 0.5 2.9 0.5 2.5 0.5 2 0.5 1.3 0.5 0.4 0.5-0.6 0.5-1.3 0.5-2.1 0.5-2.6 0.5-2.8 0.5-2.8 0.5-2.5 0.5-2 0.5-1.3 0.5-0.4 0.5 0.4 0.5 1.2 0.5 2 0.5 2.5 0.5 2.8 0.5 2.7 0.5 2.6 0.5 2 0.5 1.3 0.5 0.6 0.5-0.3 0.5-1.2 0.5-1.8 0.5-2.4 0.5-2.6 0.5-2.7 0.5-2.5 0.5-2.1 0.5-1.4 0.5-0.6 0.5 0.2 0.5 1.1 0.5 1.7 0.5 2.3 0.5 2.6 0.5 2.7 0.5 2.4 0.5 2.1 0.5 1.5 0.5 0.7 0.5-0.2 0.5-0.9 0.5-1.6 0.5-2.2 0.5-2.5 0.5-2.6 0.5-2.4 0.5-2.1 0.5-1.4 0.5-0.8 0.5 0.1 0.5 0.8 0.5 1.5 0.5 2.1 0.5 2.4 0.5 2.5 0.5 2.5 0.5 2 0.5 1.5 0.5 0.9 0.5 0 0.5-0.7 0.5-1.4 0.5-2 0.5-2.3 0.5-2.4 0.5-2.4 0.5-2.1 0.5-1.5 0.5-0.8 0.5-0.2 0.5 0.6 0.5 1.3 0.5 1.9 0.5 2.2 0.5 2.4 0.5 2.4 0.5 2 0.5 1.6 0.5 0.9 0.5 0.2 0.5-0.5 0.5-1.2 0.5-1.7 0.5-2.2 0.5-2.3 0.5-2.3 0.5-2 0.5-1.5 0.5-1 0.5-0.3 0.5 0.5 0.5 1.1 0.5 1.6 0.5 2 0.5 2.3 0.5 2.2 0.5 2 0.5 1.6 0.5 1 0.5 0.3 0.5-0.3 0.5-1 0.5-1.5 0.5-2 0.5-2.1 0.5-2.2 0.5-1.9 0.5-1.6 0.5-1 0.5-0.4 0.5 0.3 0.5 0.8 0.5 1.5 0.5 1.8 0.5 2.1 0.5 2.1 0.5 1.9 0.5 1.6 0.5 1 0.5 0.5 0.5-0.2 0.5-0.8 0.5-1.3 0.5-1.7 0.5-2 0.5-2 0.5-1.9 0.5-1.6 0.5-1 0.5-0.6 0.5 0.1 0.5 0.8 0.5 1.2 0.5 1.6 0.5 1.9 0.5 2 0.5 1.9 0.5 1.5 0.5 1.1 0.5 0.6 0.5 0 0.5-0.6 0.5-1.2 0.5-1.5 0.5-1.8 0.5-1.9 0.5-1.9 0.5-1.5 0.5-1.1 0.5-0.6 0.5-0.1 0.5 0.6 0.5 1 0.5 1.5 0.5 1.8 0.5 1.8 0.5 1.8 0.5 1.6 0.5 1.1 0.5 0.7 0.5 0.1 0.5-0.5 0.5-0.9 0.5-1.4 0.5-1.7 0.5-1.8 0.5-1.8 0.5-1.5 0.5-1.2 0.5-0.7 0.5-0.1 0.5 0.4 0.5 0.9 0.5 1.3 0.5 1.6 0.5 1.8 0.5 1.8 0.5 1.5 0.5 1.2 0.5 0.8 0.5 0.2 0.5-0.3 0.5-0.9 0.5-1.2 0.5-1.6 0.5-1.7 0.5-1.7 0.5-1.5 0.5-1.2 0.5-0.8 0.5-0.3 0.5 0.3 0.5 0.7 0.5 1.2 0.5 1.5 0.5 1.7 0.5 1.7 0.5 1.6 0.5 1.2 0.5 0.8 0.5 0.4 0.5-0.2 0.5-0.7 0.5-1.1 0.5-1.5 0.5-1.6 0.5-1.7 0.5-1.5 0.5-1.2 0.5-0.9 0.5-0.4 0.5 0.2 0.5 0.6 0.5 1.1 0.5 1.4 0.5 1.6 0.5 1.6 0.5 1.6 0.5 1.2 0.5 0.9 0.5 0.4 0.5 0 0.5-0.6 0.5-1 0.5-1.3 0.5-1.6 0.5-1.6 0.5-1.5 0.5-1.3 0.5-0.9 0.5-0.4 0.5 0 0.5 0.5 0.5 0.9 0.5 1.3 0.5 1.6 0.5 1.5 0.5 1.6 0.5 1.2 0.5 1 0.5 0.5 0.5 0.1 0.5-0.5 0.5-0.9 0.5-1.2 0.5-1.4 0.5-1.6 0.5-1.5 0.5-1.3 0.5-0.9 0.5-0.6 0.5-0.1 0.5 0.4 0.5 0.8 0.5 1.2 0.5 1.4 0.5 1.6 0.5 1.5 0.5 1.3 0.5 1 0.5 0.6 0.5 0.1 0.5-0.3 0.5-0.8 0.5-1.1 0.5-1.4 0.5-1.4 0.5-1.5 0.5-1.3 0.5-1 0.5-0.7 0.5-0.1 0.5 0.2 0.5 0.7 0.5 1.1 0.5 1.4 0.5 1.4 0.5 1.5 0.5 1.3 0.5 1.1 0.5 0.6 0.5 0.3 0.5-0.2 0.5-0.7 0.5-1 0.5-1.3 0.5-1.4 0.5-1.5 0.5-1.3 0.5-1 0.5-0.7 0.5-0.3 0.5 0.2 0.5 0.6" stroke="#e8a81c" stroke-width="1.8"/><path d="M1230 327.8l0.5 0.9 0.5 1.3 0.5 1.4 0.5 1.4 0.5 1.3 0.5 1.1 0.5 0.8 0.5 0.3 0.5-0.1 0.5-0.6 0.5-0.9 0.5-1.2 0.5-1.3 0.5-1.4 0.5-1.4 0.5-1 0.5-0.8 0.5-0.4 0.5 0.1 0.5 0.5 0.5 0.9 0.5 1.1 0.5 1.4 0.5 1.4 0.5 1.3 0.5 1.1 0.5 0.8 0.5 0.4 0.5 0 0.5-0.4 0.5-0.8 0.5-1.2 0.5-1.3 0.5-1.3 0.5-1.3 0.5-1.2 0.5-0.8 0.5-0.4 0.5-0.1 0.5 0.4 0.5 0.8 0.5 1.1 0.5 1.3 0.5 1.3 0.5 1.3 0.5 1.2 0.5 0.8 0.5 0.5 0.5 0.1 0.5-0.3 0.5-0.8 0.5-1 0.5-1.2 0.5-1.4 0.5-1.3 0.5-1.1 0.5-0.9 0.5-0.5 0.5-0.1 0.5 0.3 0.5 0.7 0.5 0.9 0.5 1.3 0.5 1.3 0.5 1.3 0.5 1.1 0.5 0.9 0.5 0.6 0.5 0.2 0.5-0.3 0.5-0.6 0.5-0.9 0.5-1.2 0.5-1.3 0.5-1.3 0.5-1.1 0.5-1 0.5-0.5 0.5-0.2 0.5 0.1 0.5 0.6 0.5 0.9 0.5 1.2 0.5 1.2 0.5 1.3 0.5 1.2 0.5 0.9 0.5 0.7 0.5 0.2 0.5-0.1 0.5-0.6 0.5-0.8 0.5-1.1 0.5-1.3 0.5-1.2 0.5-1.2 0.5-0.9 0.5-0.7 0.5-0.3 0.5 0.1 0.5 0.5 0.5 0.8 0.5 1.1 0.5 1.2 0.5 1.3 0.5 1.2 0.5 0.9 0.5 0.7 0.5 0.4 0.5-0.1 0.5-0.4 0.5-0.8 0.5-1 0.5-1.2 0.5-1.3 0.5-1.1 0.5-1 0.5-0.7 0.5-0.4 0.5 0 0.5 0.4 0.5 0.7 0.5 1 0.5 1.2 0.5 1.3 0.5 1.1 0.5 1 0.5 0.8 0.5 0.4 0.5 0 0.5-0.3 0.5-0.7 0.5-1 0.5-1.1 0.5-1.2 0.5-1.2 0.5-1 0.5-0.8 0.5-0.4 0.5-0.1 0.5 0.3 0.5 0.7 0.5 0.9 0.5 1.1 0.5 1.2 0.5 1.2 0.5 1 0.5 0.8 0.5 0.5 0.5 0.1 0.5-0.2 0.5-0.6 0.5-0.9 0.5-1.1 0.5-1.2 0.5-1.2 0.5-1 0.5-0.8 0.5-0.5 0.5-0.2 0.5 0.2 0.5 0.6 0.5 0.9 0.5 1 0.5 1.2 0.5 1.2 0.5 1 0.5 0.9 0.5 0.5 0.5 0.2 0.5-0.2 0.5-0.5 0.5-0.8 0.5-1.1 0.5-1.1 0.5-1.2 0.5-1 0.5-0.9 0.5-0.5 0.5-0.3 0.5 0.2 0.5 0.5 0.5 0.7 0.5 1 0.5 1.2 0.5 1.1 0.5 1.1 0.5 0.9 0.5 0.6 0.5 0.2 0.5 0 0.5-0.5 0.5-0.7 0.5-1 0.5-1.1 0.5-1.2 0.5-1 0.5-0.9 0.5-0.6 0.5-0.3 0.5 0 0.5 0.4 0.5 0.7 0.5 1 0.5 1.1 0.5 1.1 0.5 1.1 0.5 0.9 0.5 0.6 0.5 0.4 0.5 0 0.5-0.4 0.5-0.7 0.5-0.9 0.5-1 0.5-1.2 0.5-1 0.5-1 0.5-0.6 0.5-0.4 0.5 0 0.5 0.3 0.5 0.6 0.5 0.9 0.5 1.1 0.5 1.1 0.5 1.1 0.5 0.9 0.5 0.7 0.5 0.4 0.5 0 0.5-0.2 0.5-0.6 0.5-0.9 0.5-1 0.5-1.1 0.5-1 0.5-1 0.5-0.7 0.5-0.4 0.5-0.1 0.5 0.2 0.5 0.6 0.5 0.8 0.5 1 0.5 1.1 0.5 1 0.5 1 0.5 0.7 0.5 0.5 0.5 0.1 0.5-0.2 0.5-0.5 0.5-0.8 0.5-1 0.5-1 0.5-1.1 0.5-0.9 0.5-0.8 0.5-0.5 0.5-0.1 0.5 0.1 0.5 0.5 0.5 0.7 0.5 1 0.5 1 0.5 1.1 0.5 0.9 0.5 0.8 0.5 0.5 0.5 0.2 0.5-0.1 0.5-0.5 0.5-0.7 0.5-0.9 0.5-1 0.5-1 0.5-1 0.5-0.8 0.5-0.5 0.5-0.2 0.5 0.1 0.5 0.4 0.5 0.6 0.5 0.9 0.5 1 0.5 1 0.5 1 0.5 0.8 0.5 0.5 0.5 0.3 0.5-0.1 0.5-0.3 0.5-0.7 0.5-0.8 0.5-1 0.5-1 0.5-0.9 0.5-0.8 0.5-0.6 0.5-0.3 0.5 0 0.5 0.3 0.5 0.6 0.5 0.8 0.5 1 0.5 1 0.5 0.9 0.5 0.8 0.5 0.6 0.5 0.3 0.5 0 0.5-0.3 0.5-0.5 0.5-0.8 0.5-0.9 0.5-1 0.5-0.9 0.5-0.8 0.5-0.6 0.5-0.4 0.5 0 0.5 0.2 0.5 0.5 0.5 0.8 0.5 0.9 0.5 0.9 0.5 0.9 0.5 0.9 0.5 0.6 0.5 0.3 0.5 0.1 0.5-0.2 0.5-0.5 0.5-0.7 0.5-0.8 0.5-1 0.5-0.9 0.5-0.8 0.5-0.6 0.5-0.4 0.5-0.2 0.5 0.2 0.5 0.5 0.5 0.6 0.5 0.9 0.5 0.9 0.5 0.9 0.5 0.8 0.5 0.6 0.5 0.5 0.5 0.1 0.5-0.1 0.5-0.5 0.5-0.6 0.5-0.8" stroke="#e8a81c" stroke-width="2.1"/><path d="M1408 333.2l0.5-0.9 0.5-0.9 0.5-0.8 0.5-0.7 0.5-0.4 0.5-0.2 0.5 0.1 0.5 0.4 0.5 0.6 0.5 0.8 0.5 0.9 0.5 0.8 0.5 0.8 0.5 0.7 0.5 0.5 0.5 0.2 0.5-0.1 0.5-0.4 0.5-0.5 0.5-0.8 0.5-0.8 0.5-0.9 0.5-0.8 0.5-0.7 0.5-0.4 0.5-0.3 0.5 0.1 0.5 0.3 0.5 0.5 0.5 0.7 0.5 0.9 0.5 0.8 0.5 0.8 0.5 0.7 0.5 0.5 0.5 0.2 0.5 0 0.5-0.3 0.5-0.5 0.5-0.7 0.5-0.8 0.5-0.8 0.5-0.8 0.5-0.7 0.5-0.5 0.5-0.2 0.5 0 0.5 0.2 0.5 0.5 0.5 0.6 0.5 0.8 0.5 0.8 0.5 0.8 0.5 0.7 0.5 0.5 0.5 0.3 0.5 0 0.5-0.2 0.5-0.4 0.5-0.7 0.5-0.7 0.5-0.8 0.5-0.8 0.5-0.7 0.5-0.5 0.5-0.3 0.5-0.1 0.5 0.2 0.5 0.4 0.5 0.6 0.5 0.7 0.5 0.8 0.5 0.8 0.5 0.7 0.5 0.5 0.5 0.3 0.5 0.1 0.5-0.1 0.5-0.4 0.5-0.6 0.5-0.7 0.5-0.7 0.5-0.8 0.5-0.6 0.5-0.6 0.5-0.3 0.5-0.1 0.5 0.1 0.5 0.3 0.5 0.6 0.5 0.6 0.5 0.8 0.5 0.7 0.5 0.7 0.5 0.5 0.5 0.4 0.5 0.1 0.5-0.1 0.5-0.3 0.5-0.5 0.5-0.6 0.5-0.7 0.5-0.8 0.5-0.6 0.5-0.6 0.5-0.3 0.5-0.2 0.5 0.1 0.5 0.2 0.5 0.5 0.5 0.6 0.5 0.7 0.5 0.7 0.5 0.7 0.5 0.5 0.5 0.4 0.5 0.2 0.5 0 0.5-0.3 0.5-0.4 0.5-0.6 0.5-0.7 0.5-0.7 0.5-0.6 0.5-0.6 0.5-0.4 0.5-0.2 0.5 0.1 0.5 0.2 0.5 0.4 0.5 0.5 0.5 0.7 0.5 0.7 0.5 0.6 0.5 0.6 0.5 0.4 0.5 0.2 0.5 0 0.5-0.2 0.5-0.4 0.5-0.5 0.5-0.6 0.5-0.7 0.5-0.6 0.5-0.6 0.5-0.4 0.5-0.2 0.5 0 0.5 0.1 0.5 0.4 0.5 0.5 0.5 0.6 0.5 0.6 0.5 0.6 0.5 0.6 0.5 0.4 0.5 0.2 0.5 0.1 0.5-0.1 0.5-0.4 0.5-0.4 0.5-0.6 0.5-0.6 0.5-0.6 0.5-0.6 0.5-0.4 0.5-0.2 0.5-0.1 0.5 0.1 0.5 0.3 0.5 0.4 0.5 0.6 0.5 0.6 0.5 0.6 0.5 0.5 0.5 0.4 0.5 0.3 0.5 0.1 0.5-0.1 0.5-0.3 0.5-0.4 0.5-0.5 0.5-0.6 0.5-0.6 0.5-0.5 0.5-0.4 0.5-0.3 0.5-0.1 0.5 0.1 0.5 0.2 0.5 0.4 0.5 0.5 0.5 0.6 0.5 0.5 0.5 0.6 0.5 0.4 0.5 0.3 0.5 0.1 0.5 0 0.5-0.3 0.5-0.3 0.5-0.5 0.5-0.6 0.5-0.5 0.5-0.5 0.5-0.5 0.5-0.3 0.5-0.1 0.5 0 0.5 0.2 0.5 0.4 0.5 0.4 0.5 0.6 0.5 0.5 0.5 0.5 0.5 0.4 0.5 0.3 0.5 0.2 0.5 0 0.5-0.2 0.5-0.3 0.5-0.4 0.5-0.6 0.5-0.5 0.5-0.5 0.5-0.4 0.5-0.3 0.5-0.2 0.5 0 0.5 0.1 0.5 0.3 0.5 0.4 0.5 0.5 0.5 0.6 0.5 0.5 0.5 0.4 0.5 0.3 0.5 0.2 0.5 0 0.5-0.1 0.5-0.3 0.5-0.4 0.5-0.5 0.5-0.5 0.5-0.5 0.5-0.4 0.5-0.3 0.5-0.2 0.5-0.1 0.5 0.2 0.5 0.2 0.5 0.4 0.5 0.4 0.5 0.5 0.5 0.5 0.5 0.4 0.5 0.4 0.5 0.2 0.5 0 0.5-0.1 0.5-0.2 0.5-0.3 0.5-0.5 0.5-0.5 0.5-0.4 0.5-0.5 0.5-0.3 0.5-0.2 0.5-0.1 0.5 0.1 0.5 0.2 0.5 0.3 0.5 0.4 0.5 0.5 0.5 0.5 0.5 0.4 0.5 0.3 0.5 0.3 0.5 0 0.5 0 0.5-0.2 0.5-0.3 0.5-0.4 0.5-0.5 0.5-0.4 0.5-0.5 0.5-0.3 0.5-0.2 0.5-0.1 0.5 0 0.5 0.2 0.5 0.3 0.5 0.4 0.5 0.4 0.5 0.4 0.5 0.5 0.5 0.3 0.5 0.2 0.5 0.2 0.5-0.1 0.5-0.1 0.5-0.3 0.5-0.4 0.5-0.4 0.5-0.4 0.5-0.4 0.5-0.4 0.5-0.2 0.5-0.2 0.5 0.1 0.5 0.1 0.5 0.3 0.5 0.3 0.5 0.4 0.5 0.4 0.5 0.4 0.5 0.4 0.5 0.2 0.5 0.2 0.5 0 0.5-0.2 0.5-0.2 0.5-0.3 0.5-0.4 0.5-0.4 0.5-0.4 0.5-0.4 0.5-0.2 0.5-0.2 0.5 0 0.5 0.1 0.5 0.2 0.5 0.3 0.5 0.4 0.5 0.4 0.5 0.4 0.5 0.3 0.5 0.3 0.5 0.2 0.5 0 0.5-0.1 0.5-0.2 0.5-0.3 0.5-0.4 0.5-0.4 0.5-0.3 0.5-0.4 0.5-0.2 0.5-0.2 0.5 0 0.5 0 0.5 0.2 0.5 0.3 0.5 0.3 0.5 0.4 0.5 0.4 0.5 0.3 0.5 0.3 0.5 0.2 0.5 0 0.5 0 0.5-0.2 0.5-0.3 0.5-0.3 0.5-0.4 0.5-0.3 0.5-0.4 0.5-0.3 0.5-0.1 0.5-0.1 0.5 0.1 0.5 0.1 0.5 0.3 0.5 0.3 0.5 0.3 0.5 0.4 0.5 0.3 0.5 0.3 0.5 0.2 0.5 0 0.5 0 0.5-0.1 0.5-0.3 0.5-0.3 0.5-0.3 0.5-0.4 0.5-0.3 0.5-0.3 0.5-0.2 0.5 0 0.5 0 0.5 0.1 0.5 0.2 0.5 0.3 0.5 0.3 0.5 0.4 0.5 0.3 0.5 0.3 0.5 0.2 0.5 0 0.5 0 0.5-0.1 0.5-0.2 0.5-0.2 0.5-0.4 0.5-0.3 0.5-0.3 0.5-0.3 0.5-0.2 0.5-0.1 0.5 0 0.5 0.1 0.5 0.2 0.5 0.2 0.5 0.4 0.5 0.3 0.5 0.3 0.5 0.2 0.5 0.2 0.5 0.2 0.5 0 0.5-0.1 0.5-0.2 0.5-0.2 0.5-0.3 0.5-0.3 0.5-0.3 0.5-0.3 0.5-0.2 0.5-0.1 0.5-0.1 0.5 0.1 0.5 0.2 0.5 0.2 0.5 0.3 0.5 0.3 0.5 0.3 0.5 0.2 0.5 0.2 0.5 0.2 0.5 0 0.5-0.1 0.5-0.1 0.5-0.2 0.5-0.3 0.5-0.3 0.5-0.3 0.5-0.3 0.5-0.2 0.5-0.1 0.5 0 0.5 0 0.5 0.1 0.5 0.2 0.5 0.3 0.5 0.3 0.5 0.3 0.5 0.2 0.5 0.2 0.5 0.2 0.5 0 0.5 0 0.5-0.1 0.5-0.2 0.5-0.3 0.5-0.3 0.5-0.2 0.5-0.3 0.5-0.2 0.5-0.1 0.5-0.1 0.5 0 0.5 0.1 0.5 0.2 0.5 0.2 0.5 0.3 0.5 0.3 0.5 0.2 0.5 0.2 0.5 0.2 0.5 0.1 0.5-0.1 0.5-0.1 0.5-0.1 0.5-0.3 0.5-0.2 0.5-0.3 0.5-0.2 0.5-0.3 0.5-0.1 0.5-0.1 0.5 0 0.5 0.1 0.5 0.2 0.5 0.2 0.5 0.2 0.5 0.3 0.5 0.2 0.5 0.2 0.5 0.2 0.5 0.1 0.5 0 0.5-0.1 0.5-0.1 0.5-0.2 0.5-0.3 0.5-0.3 0.5-0.2 0.5-0.2" stroke="#e8a81c" stroke-width="2.4"/>
</g>
<path d="M135.5 347.6H389" stroke="#58aee0" stroke-width="1.1"/><path d="M389 347.6H650" stroke="#3d5fb8" stroke-width="1.2"/><path d="M650 347.8H1662.5" stroke="#45a9b4" stroke-width="1.5"/>
<g stroke="#3a3a3a" stroke-width="1.6" fill="none"><path d="M135.5 348V15H1662.5V348"/>
<path d="M390 15v16M390 347.5v-15M644.5 15v16M644.5 347.5v-15M899 15v16M899 347.5v-15M1153.5 15v16M1153.5 347.5v-15M1408 15v16M1408 347.5v-15M135.5 181.2h15M1662.5 181.2h-15"/></g>
<g fill="#6c6a6a" stroke="#4e4c4c" stroke-width="0.8"><rect x="146.3" y="33.8" width="5.6" height="26.2"/><rect x="146.3" y="81.7" width="5.6" height="26.2"/><rect x="146.3" y="129.6" width="5.6" height="26.2"/><rect x="146.3" y="177.5" width="5.6" height="26.2"/><rect x="146.3" y="225.4" width="5.6" height="26.2"/><rect x="146.3" y="273.3" width="5.6" height="26.2"/><rect x="146.3" y="321.2" width="5.6" height="25.3"/></g>
<g fill="#6c6a6a" stroke="#4e4c4c" stroke-width="0.8"><rect x="490.9" y="33.8" width="5.6" height="26.2"/><rect x="490.9" y="81.7" width="5.6" height="26.2"/><rect x="490.9" y="129.6" width="5.6" height="26.2"/><rect x="490.9" y="177.5" width="5.6" height="26.2"/><rect x="490.9" y="225.4" width="5.6" height="26.2"/><rect x="490.9" y="273.3" width="5.6" height="26.2"/><rect x="490.9" y="321.2" width="5.6" height="25.3"/></g>
<g fill="#6c6a6a" stroke="#4e4c4c" stroke-width="0.8"><rect x="1587.7" y="33.8" width="5.6" height="26.2"/><rect x="1587.7" y="81.7" width="5.6" height="26.2"/><rect x="1587.7" y="129.6" width="5.6" height="26.2"/><rect x="1587.7" y="177.5" width="5.6" height="26.2"/><rect x="1587.7" y="225.4" width="5.6" height="26.2"/><rect x="1587.7" y="273.3" width="5.6" height="26.2"/><rect x="1587.7" y="321.2" width="5.6" height="25.3"/></g>
<!-- inset -->
<path d="M944.4 177.8L1199.4 168.4L1231.3 243.9L975.9 254.8Z" fill="#1cbbb2"/>
<path d="M944.4 177.4L1199.4 168" stroke-width="1.2" stroke="#333" stroke-dasharray="14 3 5 3" opacity="0.75" fill="none"/>
<ellipse cx="1051" cy="225" rx="50" ry="24" fill="url(#dep)" transform="rotate(-3 1051 225)"/>
<ellipse cx="1128" cy="208" rx="56" ry="25" fill="url(#pkb)"/>
<path d="M1068 222C1086 204 1094 174 1101 152C1106 136 1111 129.2 1115.4 129.2C1120 129.2 1125 136 1130 149C1138 169 1152 196 1192 222Z" fill="url(#pk)" mask="url(#pkm)"/>
<path d="M1035.6 252.4C1044 266 1053 283 1058 290C1061 294.5 1064.5 294.5 1067 290C1072 281 1078 264 1082.6 250.4Z" fill="url(#dp)"/>
<g stroke="#000" stroke-width="2.6" fill="none"><path d="M944.4 178.8L944.4 108"/><path d="M1198.4 168.4L1209 168.1"/><path d="M944.4 177.8L979 264"/></g>
<path d="M944.4 98.1L949.9 110.1L938.9 110.1Z" fill="#000"/>
<path d="M1219.4 167.8L1207.6 173.7L1207.2 162.7Z" fill="#000"/>
<path d="M982.4 272.6L972.8 263.5L983 259.4Z" fill="#000"/>
<!-- HG -->
<g clip-path="url(#hc00)"><g filter="url(#par)" transform="translate(1300.5 84.3)"><rect x="-46" y="-45.7" width="92.1" height="91.4" fill="url(#hx0)"/><rect x="-46" y="-45.7" width="92.1" height="91.4" fill="url(#hy2)"/></g></g><g clip-path="url(#hc01)"><g filter="url(#par)" transform="translate(1405 84.3)"><rect x="-46.4" y="-45.7" width="92.8" height="91.4" fill="url(#hx1)"/><rect x="-46.4" y="-45.7" width="92.8" height="91.4" fill="url(#hy2)"/></g></g><g clip-path="url(#hc02)"><g filter="url(#par)" transform="translate(1509.8 84.3)"><rect x="-46.5" y="-45.7" width="93.1" height="91.4" fill="url(#hx2)"/><rect x="-46.5" y="-45.7" width="93.1" height="91.4" fill="url(#hy2)"/></g></g><g clip-path="url(#hc10)"><g filter="url(#par)" transform="translate(1300.5 178.8)"><rect x="-46" y="-39.7" width="92.1" height="85.7" fill="url(#hx0)"/><rect x="-46" y="-39.7" width="92.1" height="85.7" fill="url(#hy1)"/></g></g><g clip-path="url(#hc11)"><g filter="url(#par)" transform="translate(1405 178.8)"><rect x="-46.4" y="-39.7" width="92.8" height="85.7" fill="url(#hx1)"/><rect x="-46.4" y="-39.7" width="92.8" height="85.7" fill="url(#hy1)"/></g></g><g clip-path="url(#hc12)"><g filter="url(#par)" transform="translate(1509.8 178.8)"><rect x="-46.5" y="-39.7" width="93.1" height="85.7" fill="url(#hx2)"/><rect x="-46.5" y="-39.7" width="93.1" height="85.7" fill="url(#hy1)"/></g></g><g clip-path="url(#hc20)"><g filter="url(#par)" transform="translate(1300.5 274.3)"><rect x="-46" y="-41.5" width="92.1" height="84.7" fill="url(#hx0)"/><rect x="-46" y="-41.5" width="92.1" height="84.7" fill="url(#hy0)"/></g></g><g clip-path="url(#hc21)"><g filter="url(#par)" transform="translate(1405 274.3)"><rect x="-46.4" y="-41.5" width="92.8" height="84.7" fill="url(#hx1)"/><rect x="-46.4" y="-41.5" width="92.8" height="84.7" fill="url(#hy0)"/></g></g><g clip-path="url(#hc22)"><g filter="url(#par)" transform="translate(1509.8 274.3)"><rect x="-46.5" y="-41.5" width="93.1" height="84.7" fill="url(#hx2)"/><rect x="-46.5" y="-41.5" width="93.1" height="84.7" fill="url(#hy0)"/></g></g><rect x="1256.5" y="40.6" width="88.1" height="87.4" fill="#fff" opacity="0.25"/><rect x="1360.6" y="40.6" width="88.8" height="87.4" fill="#fff" opacity="0.25"/><rect x="1465.2" y="40.6" width="89.1" height="87.4" fill="#fff" opacity="0.25"/><rect x="1256.5" y="141.1" width="88.1" height="81.7" fill="#fff" opacity="0.25"/><rect x="1360.6" y="141.1" width="88.8" height="81.7" fill="#fff" opacity="0.25"/><rect x="1465.2" y="141.1" width="89.1" height="81.7" fill="#fff" opacity="0.25"/>
<path d="M1249.6 228.6H1348.7V322.3H1249.6ZM1256.9 234.8H1342V315.5H1256.9Z" fill="#0b77be" fill-rule="evenodd"/>
<path d="M1353.4 228.9H1452.7V322.6H1353.4ZM1360.7 234.8H1445.3V315.5H1360.7Z" fill="#fbbf2c" fill-rule="evenodd"/>
<path d="M1458.5 228.9H1557.7V322.6H1458.5ZM1465.2 234.8H1551.1V315.5H1465.2Z" fill="#8fcb5c" fill-rule="evenodd"/>
<path d="M1320.5 274.8L1336 259.6V267.2H1378V282.4H1336V290Z" fill="#c00000" stroke="#fff" stroke-width="2.2" stroke-linejoin="miter"/>
<path d="M1431 274.8L1444.5 259.6V267.2H1488V282.4H1444.5V290Z" fill="#c00000" stroke="#fff" stroke-width="2.2" stroke-linejoin="miter"/>
<text y="55.4" font-size="20.5" fill="#fff" font-style="italic" font-weight="bold"><tspan x="1257.5">H</tspan><tspan x="1273.7">G</tspan><tspan x="1286.7" font-size="14.5" dy="5.4" font-style="normal" textLength="15" lengthAdjust="spacingAndGlyphs">02</tspan></text>
<text y="55.4" font-size="20.5" fill="#fff" font-style="italic" font-weight="bold"><tspan x="1361.5">H</tspan><tspan x="1377.7">G</tspan><tspan x="1390.7" font-size="14.5" dy="5.4" font-style="normal" textLength="15" lengthAdjust="spacingAndGlyphs">12</tspan></text>
<text y="55.4" font-size="20.5" fill="#fff" font-style="italic" font-weight="bold"><tspan x="1466">H</tspan><tspan x="1482.2">G</tspan><tspan x="1495.2" font-size="14.5" dy="5.4" font-style="normal" textLength="15" lengthAdjust="spacingAndGlyphs">22</tspan></text>
<text y="155.9" font-size="20.5" fill="#fff" font-style="italic" font-weight="bold"><tspan x="1257.5">H</tspan><tspan x="1273.7">G</tspan><tspan x="1286.7" font-size="14.5" dy="5.4" font-style="normal" textLength="15" lengthAdjust="spacingAndGlyphs">01</tspan></text>
<text y="155.9" font-size="20.5" fill="#fff" font-style="italic" font-weight="bold"><tspan x="1361.5">H</tspan><tspan x="1377.7">G</tspan><tspan x="1390.7" font-size="14.5" dy="5.4" font-style="normal" textLength="15" lengthAdjust="spacingAndGlyphs">11</tspan></text>
<text y="155.9" font-size="20.5" fill="#fff" font-style="italic" font-weight="bold"><tspan x="1466">H</tspan><tspan x="1482.2">G</tspan><tspan x="1495.2" font-size="14.5" dy="5.4" font-style="normal" textLength="15" lengthAdjust="spacingAndGlyphs">21</tspan></text>
<text y="251.4" font-size="20.5" fill="#fff" font-style="italic" font-weight="bold"><tspan x="1257.8">H</tspan><tspan x="1274">G</tspan><tspan x="1287" font-size="14.5" dy="5.4" font-style="normal" textLength="15" lengthAdjust="spacingAndGlyphs">00</tspan></text>
<text y="251.4" font-size="20.5" fill="#fff" font-style="italic" font-weight="bold"><tspan x="1362">H</tspan><tspan x="1378.2">G</tspan><tspan x="1391.2" font-size="14.5" dy="5.4" font-style="normal" textLength="15" lengthAdjust="spacingAndGlyphs">10</tspan></text>
<text y="251.4" font-size="20.5" fill="#fff" font-style="italic" font-weight="bold"><tspan x="1466.5">H</tspan><tspan x="1482.7">G</tspan><tspan x="1495.7" font-size="14.5" dy="5.4" font-style="normal" textLength="15" lengthAdjust="spacingAndGlyphs">20</tspan></text>
<text x="411" y="52" font-size="34" fill="#a3c888" font-style="italic">H</text><text x="435" y="60.4" font-size="21.5" fill="#a3c888" textLength="26.4" lengthAdjust="spacingAndGlyphs">20</text>
<text x="686.5" y="182.3" font-size="34" fill="#f2ba2e" font-style="italic">H</text><text x="710" y="190.7" font-size="21.5" fill="#f2ba2e" textLength="26.4" lengthAdjust="spacingAndGlyphs">10</text>
<text x="784.5" y="204.1" font-size="34" fill="#2f4a8f" font-style="italic">H</text><text x="807.4" y="212.5" font-size="21.5" fill="#2f4a8f" textLength="26.4" lengthAdjust="spacingAndGlyphs">00</text>
<path d="M429.6 57.2L407 114" stroke="#9cc181" stroke-width="1.5"/><path d="M397.4 112.2L415.4 120L400.6 133.5Z" fill="#a3cf84"/>
<path d="M708.2 199L698.5 233.6" stroke="#f0b323" stroke-width="1.5"/><path d="M688.2 231L707.4 238.2L692.8 254.1Z" fill="#f5b71f"/>
<path d="M799.7 178.5L770.3 125.9" stroke="#4f86c6" stroke-width="1.5"/><path d="M758.7 106.7L778 118.2L760.8 128Z" fill="#4b8ccd"/>
<text y="87.5" font-size="34" font-style="italic"><tspan x="905">V</tspan><tspan x="929.5" font-style="normal">(</tspan><tspan x="942">x</tspan><tspan x="959.5" font-style="normal">,</tspan><tspan x="972.5">y</tspan><tspan x="991" font-style="normal">)</tspan></text>
<text x="1222" y="174" font-size="33" fill="#000" font-style="italic" >x</text>
<text x="973.5" y="289.5" font-size="34" fill="#000" font-style="italic" >y</text>
<!-- heatmap -->
<g clip-path="url(#clipH)"><g filter="url(#hm)"><rect x="95" y="345.5" width="45.2" height="261.9" fill="url(#hg0)"/><rect x="139.7" y="345.5" width="45.2" height="261.9" fill="url(#hg1)"/><rect x="184.5" y="345.5" width="45.2" height="261.9" fill="url(#hg2)"/><rect x="229.2" y="345.5" width="45.2" height="261.9" fill="url(#hg3)"/><rect x="273.9" y="345.5" width="45.2" height="261.9" fill="url(#hg4)"/><rect x="318.7" y="345.5" width="45.2" height="261.9" fill="url(#hg5)"/><rect x="363.4" y="345.5" width="45.2" height="261.9" fill="url(#hg6)"/><rect x="408.1" y="345.5" width="45.2" height="261.9" fill="url(#hg7)"/><rect x="452.9" y="345.5" width="45.2" height="261.9" fill="url(#hg8)"/><rect x="497.6" y="345.5" width="45.2" height="261.9" fill="url(#hg9)"/><rect x="542.3" y="345.5" width="45.2" height="261.9" fill="url(#hg10)"/><rect x="587.1" y="345.5" width="45.2" height="261.9" fill="url(#hg11)"/><rect x="631.8" y="345.5" width="45.2" height="261.9" fill="url(#hg12)"/><rect x="676.5" y="345.5" width="45.2" height="261.9" fill="url(#hg13)"/><rect x="721.3" y="345.5" width="45.2" height="261.9" fill="url(#hg14)"/><rect x="766" y="345.5" width="45.2" height="261.9" fill="url(#hg15)"/><rect x="810.7" y="345.5" width="45.2" height="261.9" fill="url(#hg16)"/><rect x="855.5" y="345.5" width="45.2" height="261.9" fill="url(#hg17)"/><rect x="900.2" y="345.5" width="45.2" height="261.9" fill="url(#hg18)"/><rect x="944.9" y="345.5" width="45.2" height="261.9" fill="url(#hg19)"/><rect x="989.7" y="345.5" width="45.2" height="261.9" fill="url(#hg20)"/><rect x="1034.4" y="345.5" width="45.2" height="261.9" fill="url(#hg21)"/><rect x="1079.1" y="345.5" width="45.2" height="261.9" fill="url(#hg22)"/><rect x="1123.9" y="345.5" width="45.2" height="261.9" fill="url(#hg23)"/><rect x="1168.6" y="345.5" width="45.2" height="261.9" fill="url(#hg24)"/><rect x="1213.3" y="345.5" width="45.2" height="261.9" fill="url(#hg25)"/><rect x="1258.1" y="345.5" width="45.2" height="261.9" fill="url(#hg26)"/><rect x="1302.8" y="345.5" width="45.2" height="261.9" fill="url(#hg27)"/><rect x="1347.5" y="345.5" width="45.2" height="261.9" fill="url(#hg28)"/><rect x="1392.3" y="345.5" width="45.2" height="261.9" fill="url(#hg29)"/><rect x="1437" y="345.5" width="45.2" height="261.9" fill="url(#hg30)"/><rect x="1481.7" y="345.5" width="45.2" height="261.9" fill="url(#hg31)"/><rect x="1526.5" y="345.5" width="45.2" height="261.9" fill="url(#hg32)"/><rect x="1571.2" y="345.5" width="45.2" height="261.9" fill="url(#hg33)"/><rect x="1615.9" y="345.5" width="45.2" height="261.9" fill="url(#hg34)"/><rect x="1660.7" y="345.5" width="45.2" height="261.9" fill="url(#hg35)"/></g></g>
<g fill="#fff"><rect x="145.6" y="365.5" width="7.2" height="23.7"/><rect x="145.6" y="409.9" width="7.2" height="27"/><rect x="145.6" y="457.6" width="7.2" height="27"/><rect x="145.6" y="505.3" width="7.2" height="27"/><rect x="145.6" y="553" width="7.2" height="27"/></g>
<g fill="#fff"><rect x="490.1" y="365.5" width="7.2" height="23.7"/><rect x="490.1" y="409.9" width="7.2" height="27"/><rect x="490.1" y="457.6" width="7.2" height="27"/><rect x="490.1" y="505.3" width="7.2" height="27"/><rect x="490.1" y="553" width="7.2" height="27"/></g>
<g fill="#fff"><rect x="1586.9" y="365.5" width="7.2" height="23.7"/><rect x="1586.9" y="409.9" width="7.2" height="27"/><rect x="1586.9" y="457.6" width="7.2" height="27"/><rect x="1586.9" y="505.3" width="7.2" height="27"/><rect x="1586.9" y="553" width="7.2" height="27"/></g>
<text x="163.6" y="397.4" font-size="31" fill="#fff" font-weight="bold" textLength="10.6" lengthAdjust="spacingAndGlyphs">I</text>
<text x="507.8" y="397.4" font-size="31" fill="#fff" font-weight="bold" textLength="22" lengthAdjust="spacingAndGlyphs">II</text>
<text x="1602.2" y="397.4" font-size="31" fill="#fff" font-weight="bold" textLength="32.2" lengthAdjust="spacingAndGlyphs">III</text>
<rect x="1686" y="366.4" width="20.7" height="217.4" fill="url(#cbar)" stroke="#333" stroke-width="1"/>
<text x="1717.5" y="367.6" font-size="33" fill="#000" >1</text>
<text x="1717" y="596" font-size="33" fill="#000" >0</text>
<!-- panel c -->
<g clip-path="url(#clipC1)"><g filter="url(#par)" transform="translate(1883.2 116.2)"><rect x="-103.7" y="-103.2" width="205.7" height="204.6" fill="url(#cIx)"/><rect x="-103.7" y="-103.2" width="205.7" height="204.6" fill="url(#cIy)"/></g></g><g filter="url(#par)"><rect x="1782.5" y="231" width="199.7" height="199.5" fill="#000"/><g clip-path="url(#clipC2)"><ellipse cx="1882" cy="331" rx="85" ry="58" fill="url(#cIIh)"/><circle cx="1878.1" cy="329.7" r="60" fill="url(#cII)"/></g><rect x="1782.5" y="448.7" width="199.7" height="199.1" fill="#000"/><circle cx="1881.3" cy="548.1" r="66" fill="url(#cIII)"/></g>
<text x="1791.2" y="47.7" font-size="31.5" fill="#fff" font-weight="bold" textLength="11.6" lengthAdjust="spacingAndGlyphs">I</text>
<text x="1791.2" y="264.7" font-size="31.5" fill="#fff" font-weight="bold" textLength="22" lengthAdjust="spacingAndGlyphs">II</text>
<text x="1791.2" y="477.3" font-size="31.5" fill="#fff" font-weight="bold" textLength="32.2" lengthAdjust="spacingAndGlyphs">III</text>
<text x="122.4" y="29.9" font-size="33" fill="#000" text-anchor="end" >1</text>
<text x="113" y="198.5" font-size="33" fill="#000" text-anchor="end" textLength="38.6" lengthAdjust="spacingAndGlyphs">0.5</text>
<text x="109.6" y="357" font-size="33" fill="#000" text-anchor="end" >0</text>
<text x="68.3" y="413.6" font-size="33" fill="#000" textLength="50" lengthAdjust="spacingAndGlyphs">200</text>
<text x="126.2" y="490.6" font-size="33" fill="#000" text-anchor="end" >0</text>
<text x="128.6" y="566.2" font-size="33" fill="#000" text-anchor="end" textLength="60" lengthAdjust="spacingAndGlyphs">-200</text>
<text x="133.8" y="631.9" font-size="33" fill="#000" text-anchor="middle" >0</text>
<text x="381" y="631.9" font-size="33" fill="#000" text-anchor="middle" >500</text>
<text x="634.5" y="631.9" font-size="33" fill="#000" text-anchor="middle" >1000</text>
<text x="888.5" y="631.9" font-size="33" fill="#000" text-anchor="middle" >1500</text>
<text x="1142.6" y="631.9" font-size="33" fill="#000" text-anchor="middle" >2000</text>
<text x="1403.5" y="631.9" font-size="33" fill="#000" text-anchor="middle" >2500</text>
<text x="1650.6" y="631.9" font-size="33" fill="#000" text-anchor="middle" >3000</text>
<text y="677.3" font-size="34" font-style="italic"><tspan x="868.3">z</tspan><tspan x="885.8" y="683.3" font-size="45" font-style="normal">/</tspan><tspan x="901.5" y="677.3">ζ</tspan></text>
<text transform="translate(50.8 181) rotate(-90)" font-size="35" font-style="italic" text-anchor="middle" textLength="33" lengthAdjust="spacingAndGlyphs">OI</text>
<text transform="translate(46.4 477.4) rotate(-90)" font-size="38" font-style="italic" text-anchor="middle">x</text>
<text x="2" y="34.4" font-size="43" fill="#000" font-weight="bold" style="font-family:'Liberation Sans','DejaVu Sans',sans-serif">a)</text>
<text x="-0.3" y="364.6" font-size="43" fill="#000" font-weight="bold" style="font-family:'Liberation Sans','DejaVu Sans',sans-serif">b)</text>
<text x="1733" y="34.4" font-size="43" fill="#000" font-weight="bold" style="font-family:'Liberation Sans','DejaVu Sans',sans-serif">c)</text>
</svg></body></html>
